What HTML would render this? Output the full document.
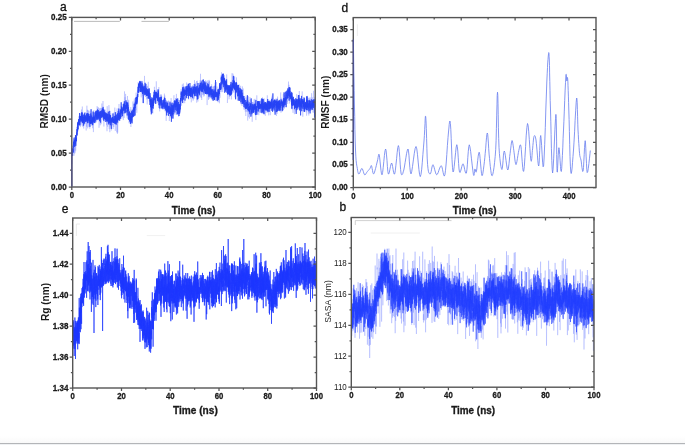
<!DOCTYPE html>
<html><head><meta charset="utf-8"><style>
html,body{margin:0;padding:0;background:#fff;}
body{width:685px;height:445px;overflow:hidden;position:relative;}
svg{position:absolute;left:0;top:0;filter:blur(0.4px);}
text{font-family:"Liberation Sans",sans-serif;}
.bar{position:absolute;left:0;top:442.6px;width:685px;height:1.4px;background:#b3b5b8;}
.bar2{position:absolute;left:0;top:444px;width:685px;height:1px;background:#eff1f3;}
.fade{position:absolute;left:0;top:436px;width:685px;height:6.6px;background:linear-gradient(#fff,#f9f9f9);}
</style></head><body>
<div class="fade"></div><div class="bar"></div><div class="bar2"></div>
<svg width="685" height="445" viewBox="0 0 685 445">
<path d="M74 21.4H119.8M141.5 21.4H168.8" stroke="#aaa" stroke-width="0.8"/>
<path d="M357.4 24.3V36" stroke="#e8e8e8" stroke-width="0.8"/>
<path d="M355.3 225V220.6H451.5" stroke="#c4c4c4" stroke-width="0.8" fill="none"/>
<path d="M370.7 233H419.8M146.8 235.6H165.2" stroke="#ececec" stroke-width="0.8" fill="none"/>
<path d="M76.4 236V224H80" stroke="#e4e4e4" stroke-width="0.8" fill="none"/>
<polyline points="72.1,164.1 72.3,154.9 72.4,146.4 72.6,147.8 72.8,150.2 73.0,144.5 73.1,144.8 73.3,148.7 73.5,147.5 73.7,150.6 73.8,139.3 74.0,155.8 74.2,151.2 74.4,149.6 74.5,141.2 74.7,153.6 74.9,141.3 75.1,152.6 75.2,147.2 75.4,135.8 75.6,137.8 75.7,150.7 75.9,145.5 76.1,139.3 76.3,140.7 76.4,138.8 76.6,131.9 76.8,133.4 77.0,129.1 77.1,130.6 77.3,133.4 77.5,123.9 77.7,132.0 77.8,126.4 78.0,129.6 78.2,129.2 78.3,129.9 78.5,126.4 78.7,125.9 78.9,121.1 79.0,126.1 79.2,116.5 79.4,119.1 79.6,124.4 79.7,119.0 79.9,121.7 80.1,113.5 80.3,127.1 80.4,115.9 80.6,121.7 80.8,119.7 81.0,124.5 81.1,117.6 81.3,114.5 81.5,109.5 81.6,117.7 81.8,112.4 82.0,121.0 82.2,125.8 82.3,106.5 82.5,112.2 82.7,121.7 82.9,126.9 83.0,121.2 83.2,121.3 83.4,122.2 83.6,122.9 83.7,128.5 83.9,122.6 84.1,112.9 84.2,116.6 84.4,120.5 84.6,114.2 84.8,117.6 84.9,116.4 85.1,115.8 85.3,123.7 85.5,116.2 85.6,112.4 85.8,114.3 86.0,118.8 86.2,130.5 86.3,120.4 86.5,126.7 86.7,120.5 86.9,105.7 87.0,119.3 87.2,112.8 87.4,109.7 87.5,112.0 87.7,128.4 87.9,110.1 88.1,117.1 88.2,126.9 88.4,124.3 88.6,110.7 88.8,119.1 88.9,116.7 89.1,118.3 89.3,124.5 89.5,116.6 89.6,119.3 89.8,128.7 90.0,110.8 90.1,119.5 90.3,123.7 90.5,114.4 90.7,117.6 90.8,113.3 91.0,120.9 91.2,116.7 91.4,124.0 91.5,125.5 91.7,120.7 91.9,118.9 92.1,123.1 92.2,123.1 92.4,115.5 92.6,128.2 92.8,121.7 92.9,124.3 93.1,112.3 93.3,124.4 93.4,132.1 93.6,122.3 93.8,110.2 94.0,118.8 94.1,118.1 94.3,120.4 94.5,118.0 94.7,121.4 94.8,116.3 95.0,119.8 95.2,113.7 95.4,117.0 95.5,121.1 95.7,112.1 95.9,118.7 96.1,111.2 96.2,113.8 96.4,114.3 96.6,122.3 96.7,111.0 96.9,120.8 97.1,106.1 97.3,113.9 97.4,118.7 97.6,118.3 97.8,109.3 98.0,107.3 98.1,119.3 98.3,107.5 98.5,117.6 98.7,112.3 98.8,115.2 99.0,127.8 99.2,124.0 99.3,121.0 99.5,108.4 99.7,119.1 99.9,117.9 100.0,116.6 100.2,125.3 100.4,107.9 100.6,118.1 100.7,116.7 100.9,111.1 101.1,124.2 101.3,108.0 101.4,115.4 101.6,116.0 101.8,103.5 102.0,107.0 102.1,109.8 102.3,118.7 102.5,119.5 102.6,116.9 102.8,114.2 103.0,101.0 103.2,114.3 103.3,110.7 103.5,119.8 103.7,121.0 103.9,126.5 104.0,119.3 104.2,121.0 104.4,110.8 104.6,117.3 104.7,109.2 104.9,121.5 105.1,109.8 105.2,115.9 105.4,113.4 105.6,114.8 105.8,120.4 105.9,113.8 106.1,117.8 106.3,111.7 106.5,125.2 106.6,115.1 106.8,124.5 107.0,131.2 107.2,106.2 107.3,113.2 107.5,118.1 107.7,126.8 107.9,116.9 108.0,122.1 108.2,114.3 108.4,121.3 108.5,112.0 108.7,123.6 108.9,105.1 109.1,108.1 109.2,129.1 109.4,120.5 109.6,114.6 109.8,132.2 109.9,125.4 110.1,126.2 110.3,118.9 110.5,125.4 110.6,124.7 110.8,113.4 111.0,126.2 111.1,122.1 111.3,130.5 111.5,129.6 111.7,117.8 111.8,117.9 112.0,122.3 112.2,125.2 112.4,119.1 112.5,120.7 112.7,125.3 112.9,123.8 113.1,129.0 113.2,124.0 113.4,117.7 113.6,112.8 113.8,127.0 113.9,120.0 114.1,119.4 114.3,119.8 114.4,112.1 114.6,119.7 114.8,107.6 115.0,119.0 115.1,116.1 115.3,130.9 115.5,123.1 115.7,119.2 115.8,121.1 116.0,123.8 116.2,115.5 116.4,118.5 116.5,116.8 116.7,132.4 116.9,119.8 117.1,108.4 117.2,124.1 117.4,133.9 117.6,113.4 117.7,132.6 117.9,118.6 118.1,123.2 118.3,114.9 118.4,116.4 118.6,110.0 118.8,111.1 119.0,104.0 119.1,121.1 119.3,109.1 119.5,117.0 119.7,117.0 119.8,112.4 120.0,115.6 120.2,114.0 120.3,112.4 120.5,115.3 120.7,114.6 120.9,108.8 121.0,105.8 121.2,106.2 121.4,110.8 121.6,117.8 121.7,118.8 121.9,113.3 122.1,117.4 122.3,111.6 122.4,116.1 122.6,109.9 122.8,111.7 123.0,108.6 123.1,109.6 123.3,120.1 123.5,101.3 123.6,108.1 123.8,104.8 124.0,112.7 124.2,117.9 124.3,104.8 124.5,91.4 124.7,110.3 124.9,109.6 125.0,97.2 125.2,105.4 125.4,105.6 125.6,93.9 125.7,110.3 125.9,109.6 126.1,108.7 126.2,100.9 126.4,103.4 126.6,104.4 126.8,111.8 126.9,103.6 127.1,117.7 127.3,111.1 127.5,96.0 127.6,119.1 127.8,111.2 128.0,107.4 128.2,112.5 128.3,101.7 128.5,114.0 128.7,99.8 128.9,108.3 129.0,123.2 129.2,122.1 129.4,113.6 129.5,109.4 129.7,120.0 129.9,115.8 130.1,117.9 130.2,122.3 130.4,113.4 130.6,124.0 130.8,107.0 130.9,127.0 131.1,109.5 131.3,115.3 131.5,114.3 131.6,121.9 131.8,121.0 132.0,118.8 132.1,120.3 132.3,119.1 132.5,116.2 132.7,104.6 132.8,101.9 133.0,101.4 133.2,113.6 133.4,112.3 133.5,112.1 133.7,113.7 133.9,110.1 134.1,104.3 134.2,100.6 134.4,98.5 134.6,116.4 134.8,114.1 134.9,100.4 135.1,105.5 135.3,108.4 135.4,115.1 135.6,101.4 135.8,105.3 136.0,110.2 136.1,92.7 136.3,97.9 136.5,101.6 136.7,97.2 136.8,112.8 137.0,104.6 137.2,99.2 137.4,90.7 137.5,100.6 137.7,98.5 137.9,90.1 138.0,89.7 138.2,82.0 138.4,88.2 138.6,92.2 138.7,92.4 138.9,88.9 139.1,90.8 139.3,82.4 139.4,82.5 139.6,92.3 139.8,87.8 140.0,80.6 140.1,87.8 140.3,89.3 140.5,89.2 140.7,87.1 140.8,84.0 141.0,89.6 141.2,97.4 141.3,88.4 141.5,84.0 141.7,90.2 141.9,80.8 142.0,90.0 142.2,87.8 142.4,95.6 142.6,91.2 142.7,96.4 142.9,103.0 143.1,88.4 143.3,84.1 143.4,91.8 143.6,88.8 143.8,90.3 144.0,86.3 144.1,93.1 144.3,90.4 144.5,75.9 144.6,87.1 144.8,90.2 145.0,95.1 145.2,86.3 145.3,84.9 145.5,96.8 145.7,87.0 145.9,91.6 146.0,94.8 146.2,96.7 146.4,92.2 146.6,86.6 146.7,99.3 146.9,90.4 147.1,90.4 147.2,104.4 147.4,96.7 147.6,85.9 147.8,88.9 147.9,90.6 148.1,88.7 148.3,81.8 148.5,98.3 148.6,97.1 148.8,94.3 149.0,92.1 149.2,96.5 149.3,101.4 149.5,92.2 149.7,97.2 149.9,96.3 150.0,104.5 150.2,102.4 150.4,93.0 150.5,98.0 150.7,111.9 150.9,98.4 151.1,106.2 151.2,101.5 151.4,113.0 151.6,105.1 151.8,103.1 151.9,99.0 152.1,103.8 152.3,110.2 152.5,108.8 152.6,97.8 152.8,113.4 153.0,102.7 153.1,97.7 153.3,103.4 153.5,99.1 153.7,98.3 153.8,96.1 154.0,98.5 154.2,95.0 154.4,86.8 154.5,99.7 154.7,93.0 154.9,101.7 155.1,98.2 155.2,98.5 155.4,96.6 155.6,103.8 155.8,94.4 155.9,90.6 156.1,98.2 156.3,81.3 156.4,93.5 156.6,96.5 156.8,92.4 157.0,103.4 157.1,100.3 157.3,97.3 157.5,94.8 157.7,102.5 157.8,93.3 158.0,94.3 158.2,100.5 158.4,100.2 158.5,107.9 158.7,95.3 158.9,87.0 159.0,102.0 159.2,106.0 159.4,99.2 159.6,109.6 159.7,111.4 159.9,97.9 160.1,99.2 160.3,94.8 160.4,105.0 160.6,105.9 160.8,104.8 161.0,94.1 161.1,97.3 161.3,94.8 161.5,95.3 161.7,97.4 161.8,96.6 162.0,104.5 162.2,107.7 162.3,108.9 162.5,105.1 162.7,101.0 162.9,105.0 163.0,108.9 163.2,102.9 163.4,105.3 163.6,103.2 163.7,101.5 163.9,105.1 164.1,97.4 164.3,109.4 164.4,93.6 164.6,105.0 164.8,95.5 165.0,111.2 165.1,108.9 165.3,99.9 165.5,102.3 165.6,99.6 165.8,106.6 166.0,109.0 166.2,120.9 166.3,100.1 166.5,114.8 166.7,105.1 166.9,110.5 167.0,113.1 167.2,110.4 167.4,109.3 167.6,105.2 167.7,107.4 167.9,109.3 168.1,115.2 168.2,100.9 168.4,105.7 168.6,100.6 168.8,102.3 168.9,102.9 169.1,114.2 169.3,121.0 169.5,117.1 169.6,102.9 169.8,109.3 170.0,102.8 170.2,111.3 170.3,117.4 170.5,114.1 170.7,114.8 170.9,109.8 171.0,98.3 171.2,98.1 171.4,109.9 171.5,114.0 171.7,117.4 171.9,108.9 172.1,110.7 172.2,111.4 172.4,116.0 172.6,109.2 172.8,103.3 172.9,116.0 173.1,113.2 173.3,111.7 173.5,101.2 173.6,107.7 173.8,96.5 174.0,95.2 174.1,105.6 174.3,104.7 174.5,110.2 174.7,114.2 174.8,105.3 175.0,114.8 175.2,101.8 175.4,109.4 175.5,98.0 175.7,106.2 175.9,103.3 176.1,103.7 176.2,108.1 176.4,93.9 176.6,105.9 176.8,101.5 176.9,107.8 177.1,109.6 177.3,105.1 177.4,104.9 177.6,99.6 177.8,109.0 178.0,103.3 178.1,109.9 178.3,99.9 178.5,116.4 178.7,103.9 178.8,116.3 179.0,108.1 179.2,113.4 179.4,109.6 179.5,113.7 179.7,108.4 179.9,113.8 180.0,109.1 180.2,107.3 180.4,110.7 180.6,96.0 180.7,105.3 180.9,98.1 181.1,88.9 181.3,99.5 181.4,96.0 181.6,105.8 181.8,93.8 182.0,96.9 182.1,96.7 182.3,84.4 182.5,98.8 182.7,89.7 182.8,102.7 183.0,103.3 183.2,93.0 183.3,83.4 183.5,93.5 183.7,93.8 183.9,96.1 184.0,90.4 184.2,86.5 184.4,91.9 184.6,87.9 184.7,103.2 184.9,88.4 185.1,89.1 185.3,92.6 185.4,86.1 185.6,90.3 185.8,90.8 186.0,87.5 186.1,88.0 186.3,96.9 186.5,92.8 186.6,82.5 186.8,88.5 187.0,94.6 187.2,86.8 187.3,91.4 187.5,89.7 187.7,93.0 187.9,88.5 188.0,89.1 188.2,84.4 188.4,91.7 188.6,84.3 188.7,99.6 188.9,90.9 189.1,90.0 189.2,95.9 189.4,90.4 189.6,90.8 189.8,89.9 189.9,86.5 190.1,86.4 190.3,87.8 190.5,98.5 190.6,87.8 190.8,88.8 191.0,88.8 191.2,94.9 191.3,102.3 191.5,86.0 191.7,94.1 191.9,92.1 192.0,90.6 192.2,95.2 192.4,85.4 192.5,96.8 192.7,92.9 192.9,85.8 193.1,100.7 193.2,97.3 193.4,99.3 193.6,84.1 193.8,90.5 193.9,88.5 194.1,93.9 194.3,98.6 194.5,80.2 194.6,90.9 194.8,90.4 195.0,95.7 195.1,89.7 195.3,82.7 195.5,89.4 195.7,85.2 195.8,86.6 196.0,91.1 196.2,87.1 196.4,91.5 196.5,81.0 196.7,102.7 196.9,97.9 197.1,95.5 197.2,85.6 197.4,80.7 197.6,86.0 197.8,88.8 197.9,101.6 198.1,96.6 198.3,88.7 198.4,98.7 198.6,98.5 198.8,91.2 199.0,97.6 199.1,92.4 199.3,86.9 199.5,84.5 199.7,89.4 199.8,95.8 200.0,82.2 200.2,80.1 200.4,92.2 200.5,73.8 200.7,97.1 200.9,84.0 201.0,90.3 201.2,98.0 201.4,80.1 201.6,81.9 201.7,100.0 201.9,85.7 202.1,86.5 202.3,89.1 202.4,94.0 202.6,94.8 202.8,87.1 203.0,84.6 203.1,86.1 203.3,88.3 203.5,94.7 203.7,87.7 203.8,96.6 204.0,81.4 204.2,89.2 204.3,95.6 204.5,93.4 204.7,88.4 204.9,82.2 205.0,83.1 205.2,86.5 205.4,88.6 205.6,86.3 205.7,80.2 205.9,84.5 206.1,92.6 206.3,94.3 206.4,82.2 206.6,88.5 206.8,81.3 207.0,87.6 207.1,105.1 207.3,91.1 207.5,88.5 207.6,86.6 207.8,83.0 208.0,80.2 208.2,90.1 208.3,89.5 208.5,100.0 208.7,81.8 208.9,93.8 209.0,98.9 209.2,79.9 209.4,94.1 209.6,81.1 209.7,92.6 209.9,98.1 210.1,90.1 210.2,92.3 210.4,86.9 210.6,92.3 210.8,98.2 210.9,91.3 211.1,92.3 211.3,95.6 211.5,97.8 211.6,84.3 211.8,93.4 212.0,89.9 212.2,97.0 212.3,99.1 212.5,94.7 212.7,100.3 212.9,86.5 213.0,90.1 213.2,86.8 213.4,92.6 213.5,92.7 213.7,91.0 213.9,86.0 214.1,92.9 214.2,91.5 214.4,98.1 214.6,93.4 214.8,100.6 214.9,94.7 215.1,82.7 215.3,91.6 215.5,84.5 215.6,98.4 215.8,100.9 216.0,93.3 216.1,96.2 216.3,85.9 216.5,82.1 216.7,91.8 216.8,93.8 217.0,86.5 217.2,94.7 217.4,96.0 217.5,97.5 217.7,102.2 217.9,97.0 218.1,90.1 218.2,92.8 218.4,96.5 218.6,88.8 218.8,102.2 218.9,100.3 219.1,91.7 219.3,87.3 219.4,103.3 219.6,93.0 219.8,93.3 220.0,97.8 220.1,93.6 220.3,89.1 220.5,91.9 220.7,82.3 220.8,90.0 221.0,75.5 221.2,84.3 221.4,84.4 221.5,72.3 221.7,92.2 221.9,75.4 222.0,86.0 222.2,74.8 222.4,78.9 222.6,73.9 222.7,92.1 222.9,85.4 223.1,89.5 223.3,82.9 223.4,83.4 223.6,81.0 223.8,79.7 224.0,85.3 224.1,83.6 224.3,81.6 224.5,75.2 224.7,82.0 224.8,86.7 225.0,81.4 225.2,86.7 225.3,85.2 225.5,80.8 225.7,81.5 225.9,82.1 226.0,84.4 226.2,83.9 226.4,91.9 226.6,79.9 226.7,74.4 226.9,90.6 227.1,85.1 227.3,87.5 227.4,103.0 227.6,97.6 227.8,92.8 228.0,95.0 228.1,89.5 228.3,94.7 228.5,86.0 228.6,85.9 228.8,88.1 229.0,99.3 229.2,99.0 229.3,86.5 229.5,96.6 229.7,89.8 229.9,96.5 230.0,88.5 230.2,95.5 230.4,89.0 230.6,87.7 230.7,88.3 230.9,89.6 231.1,85.7 231.2,81.4 231.4,99.4 231.6,86.4 231.8,77.5 231.9,74.5 232.1,73.1 232.3,83.1 232.5,93.5 232.6,76.3 232.8,82.5 233.0,73.7 233.2,91.9 233.3,86.8 233.5,86.5 233.7,92.7 233.9,91.8 234.0,89.0 234.2,80.1 234.4,76.3 234.5,80.0 234.7,76.6 234.9,97.4 235.1,85.9 235.2,87.7 235.4,88.5 235.6,98.9 235.8,84.2 235.9,94.7 236.1,88.9 236.3,86.8 236.5,77.4 236.6,92.8 236.8,84.5 237.0,86.8 237.1,90.7 237.3,90.8 237.5,96.9 237.7,87.0 237.8,91.8 238.0,91.9 238.2,91.1 238.4,94.5 238.5,90.5 238.7,99.6 238.9,87.8 239.1,84.3 239.2,92.5 239.4,100.6 239.6,91.3 239.8,90.5 239.9,92.0 240.1,94.9 240.3,93.3 240.4,97.0 240.6,85.8 240.8,104.2 241.0,99.6 241.1,91.1 241.3,103.8 241.5,97.9 241.7,104.2 241.8,90.0 242.0,106.0 242.2,98.0 242.4,86.4 242.5,102.4 242.7,96.9 242.9,92.5 243.0,97.8 243.2,88.5 243.4,103.7 243.6,100.2 243.7,99.8 243.9,109.6 244.1,101.9 244.3,97.7 244.4,96.2 244.6,101.9 244.8,109.6 245.0,101.3 245.1,100.1 245.3,111.7 245.5,106.7 245.7,105.0 245.8,116.0 246.0,97.2 246.2,105.4 246.3,95.4 246.5,103.6 246.7,109.8 246.9,111.9 247.0,98.4 247.2,111.7 247.4,110.2 247.6,105.8 247.7,120.6 247.9,105.7 248.1,101.1 248.3,109.4 248.4,96.3 248.6,117.2 248.8,114.1 249.0,105.5 249.1,111.5 249.3,110.3 249.5,118.6 249.6,104.7 249.8,100.3 250.0,97.1 250.2,106.3 250.3,99.3 250.5,107.7 250.7,110.1 250.9,105.6 251.0,103.0 251.2,115.7 251.4,108.7 251.6,111.4 251.7,115.2 251.9,101.9 252.1,103.4 252.2,121.8 252.4,107.5 252.6,102.0 252.8,106.9 252.9,106.3 253.1,102.3 253.3,108.1 253.5,109.7 253.6,110.0 253.8,113.1 254.0,99.3 254.2,100.3 254.3,112.4 254.5,105.2 254.7,114.3 254.9,108.7 255.0,98.8 255.2,110.2 255.4,101.5 255.5,109.3 255.7,114.8 255.9,120.1 256.1,108.8 256.2,113.7 256.4,111.8 256.6,114.6 256.8,95.3 256.9,106.6 257.1,109.3 257.3,108.9 257.5,101.9 257.6,111.8 257.8,113.7 258.0,108.0 258.1,105.4 258.3,103.8 258.5,106.8 258.7,112.3 258.8,115.2 259.0,103.7 259.2,101.5 259.4,103.1 259.5,112.7 259.7,108.6 259.9,108.7 260.1,109.5 260.2,108.2 260.4,104.5 260.6,99.6 260.8,101.2 260.9,105.1 261.1,105.7 261.3,101.2 261.4,101.9 261.6,112.5 261.8,104.2 262.0,108.3 262.1,105.2 262.3,102.2 262.5,97.4 262.7,102.6 262.8,100.9 263.0,109.8 263.2,99.6 263.4,104.3 263.5,110.9 263.7,107.6 263.9,111.4 264.0,112.7 264.2,98.4 264.4,105.0 264.6,101.1 264.7,114.3 264.9,105.2 265.1,108.1 265.3,115.8 265.4,104.8 265.6,108.2 265.8,110.6 266.0,105.5 266.1,112.9 266.3,109.8 266.5,110.7 266.7,105.7 266.8,103.0 267.0,102.4 267.2,101.9 267.3,95.3 267.5,108.8 267.7,112.8 267.9,108.4 268.0,104.4 268.2,106.7 268.4,106.6 268.6,107.2 268.7,115.4 268.9,99.9 269.1,108.2 269.3,110.7 269.4,107.7 269.6,105.4 269.8,100.5 269.9,102.2 270.1,109.6 270.3,115.2 270.5,102.4 270.6,108.5 270.8,109.1 271.0,110.6 271.2,106.2 271.3,107.4 271.5,109.2 271.7,97.5 271.9,104.9 272.0,95.9 272.2,95.5 272.4,102.7 272.6,98.3 272.7,108.6 272.9,110.7 273.1,102.5 273.2,102.9 273.4,101.9 273.6,101.0 273.8,103.4 273.9,105.2 274.1,101.7 274.3,100.3 274.5,101.5 274.6,108.8 274.8,101.5 275.0,112.8 275.2,103.8 275.3,112.0 275.5,98.7 275.7,100.7 275.9,106.4 276.0,107.2 276.2,103.0 276.4,116.0 276.5,105.8 276.7,107.0 276.9,102.2 277.1,114.0 277.2,110.1 277.4,107.3 277.6,96.6 277.8,107.6 277.9,102.4 278.1,107.0 278.3,109.8 278.5,101.5 278.6,107.3 278.8,110.7 279.0,106.4 279.1,103.9 279.3,99.9 279.5,102.5 279.7,99.7 279.8,111.5 280.0,106.7 280.2,99.8 280.4,106.3 280.5,99.7 280.7,92.4 280.9,112.6 281.1,112.6 281.2,97.7 281.4,100.8 281.6,105.8 281.8,101.9 281.9,99.7 282.1,102.4 282.3,104.7 282.4,101.9 282.6,105.6 282.8,102.8 283.0,98.8 283.1,103.6 283.3,94.1 283.5,110.2 283.7,92.2 283.8,101.5 284.0,103.8 284.2,104.9 284.4,103.5 284.5,108.6 284.7,95.1 284.9,100.0 285.0,101.6 285.2,97.7 285.4,96.4 285.6,107.0 285.7,95.5 285.9,96.7 286.1,98.1 286.3,97.9 286.4,99.2 286.6,95.2 286.8,97.3 287.0,95.4 287.1,97.1 287.3,102.2 287.5,90.2 287.7,104.0 287.8,91.3 288.0,97.6 288.2,94.3 288.3,91.2 288.5,81.6 288.7,100.4 288.9,85.9 289.0,84.8 289.2,96.7 289.4,92.2 289.6,103.5 289.7,102.8 289.9,97.9 290.1,95.6 290.3,98.8 290.4,87.7 290.6,95.9 290.8,97.2 290.9,94.0 291.1,99.7 291.3,91.5 291.5,104.5 291.6,108.2 291.8,94.2 292.0,101.7 292.2,109.4 292.3,103.4 292.5,95.7 292.7,97.1 292.9,107.3 293.0,112.8 293.2,96.3 293.4,101.8 293.6,97.4 293.7,100.5 293.9,104.1 294.1,102.2 294.2,99.2 294.4,114.2 294.6,102.6 294.8,103.6 294.9,109.8 295.1,103.3 295.3,101.6 295.5,107.0 295.6,98.1 295.8,109.0 296.0,111.5 296.2,109.8 296.3,103.8 296.5,104.0 296.7,94.2 296.9,103.5 297.0,106.4 297.2,109.6 297.4,105.3 297.5,102.0 297.7,98.9 297.9,102.8 298.1,104.1 298.2,109.6 298.4,102.4 298.6,99.1 298.8,100.9 298.9,99.0 299.1,100.5 299.3,91.0 299.5,95.5 299.6,98.0 299.8,107.9 300.0,104.7 300.1,104.9 300.3,110.1 300.5,98.0 300.7,109.4 300.8,105.3 301.0,99.3 301.2,111.7 301.4,96.0 301.5,97.1 301.7,102.7 301.9,106.2 302.1,102.0 302.2,91.4 302.4,100.0 302.6,100.5 302.8,116.7 302.9,111.1 303.1,105.3 303.3,98.6 303.4,105.9 303.6,97.0 303.8,104.9 304.0,107.3 304.1,103.1 304.3,107.4 304.5,103.4 304.7,100.5 304.8,111.4 305.0,107.0 305.2,103.1 305.4,101.5 305.5,107.3 305.7,108.6 305.9,109.2 306.0,112.2 306.2,106.6 306.4,98.5 306.6,115.7 306.7,110.4 306.9,108.5 307.1,110.8 307.3,95.8 307.4,102.7 307.6,101.7 307.8,111.1 308.0,98.2 308.1,102.7 308.3,113.7 308.5,108.5 308.7,103.5 308.8,115.5 309.0,97.7 309.2,107.2 309.3,103.1 309.5,107.0 309.7,102.2 309.9,98.8 310.0,104.8 310.2,97.4 310.4,108.4 310.6,104.5 310.7,110.7 310.9,102.3 311.1,101.0 311.3,106.2 311.4,110.3 311.6,93.2 311.8,104.8 311.9,107.4 312.1,97.3 312.3,98.7 312.5,107.0 312.6,99.4 312.8,99.3 313.0,112.5 313.2,97.5 313.3,97.9 313.5,90.8 313.7,97.0 313.9,96.8 314.0,112.9 314.2,110.1 314.4,97.3 314.6,114.0 314.7,107.8 314.9,102.5" fill="none" stroke="#6a7cff" stroke-opacity="0.5" stroke-width="0.5"/>
<polyline points="72.1,152.1 72.2,153.2 72.3,151.5 72.3,149.6 72.4,151.0 72.5,149.2 72.6,152.6 72.6,155.9 72.7,149.5 72.8,149.7 72.9,152.8 72.9,152.2 73.0,151.3 73.1,148.4 73.2,151.0 73.2,152.4 73.3,145.6 73.4,147.8 73.5,142.4 73.5,143.8 73.6,141.8 73.7,145.6 73.8,141.7 73.8,146.2 73.9,145.7 74.0,144.4 74.1,137.7 74.1,143.5 74.2,144.3 74.3,144.1 74.4,139.7 74.5,142.9 74.5,141.4 74.6,141.7 74.7,147.0 74.8,140.5 74.8,146.0 74.9,145.4 75.0,140.5 75.1,141.7 75.1,141.9 75.2,141.1 75.3,137.0 75.4,140.7 75.4,143.9 75.5,135.0 75.6,142.4 75.7,140.8 75.7,138.0 75.8,145.8 75.9,141.7 76.0,135.9 76.0,139.9 76.1,141.4 76.2,139.3 76.3,141.0 76.4,137.8 76.4,139.3 76.5,141.0 76.6,134.1 76.7,135.5 76.7,132.6 76.8,134.3 76.9,129.3 77.0,130.5 77.0,131.7 77.1,135.3 77.2,135.4 77.3,126.8 77.3,127.5 77.4,131.6 77.5,122.5 77.6,127.1 77.6,127.3 77.7,130.5 77.8,127.5 77.9,124.1 77.9,123.9 78.0,124.3 78.1,129.0 78.2,122.5 78.2,121.8 78.3,123.8 78.4,121.7 78.5,121.9 78.6,119.0 78.6,122.2 78.7,120.1 78.8,124.9 78.9,123.4 78.9,122.1 79.0,124.3 79.1,121.6 79.2,125.1 79.2,120.6 79.3,121.9 79.4,116.1 79.5,121.0 79.5,115.0 79.6,113.0 79.7,117.8 79.8,116.2 79.8,119.0 79.9,125.4 80.0,116.2 80.1,117.0 80.1,119.2 80.2,120.1 80.3,119.0 80.4,118.4 80.4,120.6 80.5,120.3 80.6,115.9 80.7,118.8 80.8,119.2 80.8,116.4 80.9,120.0 81.0,116.0 81.1,122.1 81.1,119.8 81.2,119.4 81.3,116.6 81.4,119.1 81.4,113.7 81.5,115.9 81.6,120.2 81.7,112.4 81.7,121.0 81.8,113.2 81.9,120.5 82.0,115.0 82.0,120.0 82.1,118.1 82.2,112.5 82.3,121.7 82.3,122.6 82.4,118.3 82.5,118.0 82.6,118.5 82.6,116.2 82.7,123.1 82.8,117.6 82.9,119.6 83.0,117.0 83.0,117.1 83.1,115.2 83.2,122.5 83.3,119.0 83.3,122.3 83.4,118.6 83.5,117.1 83.6,118.2 83.6,125.7 83.7,118.9 83.8,117.8 83.9,118.1 83.9,114.4 84.0,116.7 84.1,124.2 84.2,117.1 84.2,115.5 84.3,120.0 84.4,123.1 84.5,114.3 84.5,117.9 84.6,116.0 84.7,112.7 84.8,120.8 84.9,118.2 84.9,119.0 85.0,116.5 85.1,120.4 85.2,117.7 85.2,118.8 85.3,116.1 85.4,115.3 85.5,121.9 85.5,116.7 85.6,118.7 85.7,117.9 85.8,116.3 85.8,116.3 85.9,119.6 86.0,117.2 86.1,117.4 86.1,118.5 86.2,121.7 86.3,120.6 86.4,119.6 86.4,117.1 86.5,113.6 86.6,120.8 86.7,120.1 86.7,117.5 86.8,118.8 86.9,119.3 87.0,118.9 87.1,119.7 87.1,114.9 87.2,121.6 87.3,113.1 87.4,119.3 87.4,117.8 87.5,121.4 87.6,123.2 87.7,122.9 87.7,114.4 87.8,113.3 87.9,120.7 88.0,115.6 88.0,119.9 88.1,122.7 88.2,115.2 88.3,113.7 88.3,120.3 88.4,120.3 88.5,119.1 88.6,119.8 88.6,117.0 88.7,114.4 88.8,119.0 88.9,115.8 88.9,114.2 89.0,121.1 89.1,118.6 89.2,120.3 89.3,116.6 89.3,118.2 89.4,117.1 89.5,116.3 89.6,120.7 89.6,118.2 89.7,121.3 89.8,121.0 89.9,126.8 89.9,116.4 90.0,123.1 90.1,120.4 90.2,121.1 90.2,116.3 90.3,119.2 90.4,123.4 90.5,120.9 90.5,120.6 90.6,120.1 90.7,123.9 90.8,119.9 90.8,113.5 90.9,118.1 91.0,113.7 91.1,109.2 91.2,118.0 91.2,123.7 91.3,119.4 91.4,115.5 91.5,116.6 91.5,122.7 91.6,120.3 91.7,120.1 91.8,119.9 91.8,120.4 91.9,123.0 92.0,122.4 92.1,121.9 92.1,118.8 92.2,123.9 92.3,119.8 92.4,124.9 92.4,118.1 92.5,121.5 92.6,121.7 92.7,116.9 92.7,125.2 92.8,123.9 92.9,117.9 93.0,121.9 93.0,120.4 93.1,111.5 93.2,119.7 93.3,118.9 93.4,119.9 93.4,116.8 93.5,118.9 93.6,118.2 93.7,121.7 93.7,118.9 93.8,117.7 93.9,122.5 94.0,116.4 94.0,118.2 94.1,112.4 94.2,122.8 94.3,121.4 94.3,121.6 94.4,121.4 94.5,119.1 94.6,119.3 94.6,117.5 94.7,117.2 94.8,118.4 94.9,123.1 94.9,120.1 95.0,117.8 95.1,115.2 95.2,115.2 95.2,121.6 95.3,120.1 95.4,116.2 95.5,114.7 95.6,111.5 95.6,114.5 95.7,116.9 95.8,114.0 95.9,113.9 95.9,113.8 96.0,116.0 96.1,110.7 96.2,114.6 96.2,112.8 96.3,117.6 96.4,112.8 96.5,116.6 96.5,119.5 96.6,114.0 96.7,112.8 96.8,115.4 96.8,114.0 96.9,110.6 97.0,114.7 97.1,119.8 97.1,113.1 97.2,113.9 97.3,111.0 97.4,114.3 97.5,109.4 97.5,110.4 97.6,117.7 97.7,111.8 97.8,117.7 97.8,118.9 97.9,114.6 98.0,115.2 98.1,119.7 98.1,113.4 98.2,112.1 98.3,110.0 98.4,114.0 98.4,118.4 98.5,116.8 98.6,111.6 98.7,112.3 98.7,113.3 98.8,115.7 98.9,113.1 99.0,115.1 99.0,115.5 99.1,114.0 99.2,114.9 99.3,116.1 99.3,115.6 99.4,117.5 99.5,121.2 99.6,117.5 99.7,116.9 99.7,111.9 99.8,118.1 99.9,111.3 100.0,112.5 100.0,119.3 100.1,118.8 100.2,116.8 100.3,112.4 100.3,116.0 100.4,114.9 100.5,118.2 100.6,122.6 100.6,116.1 100.7,113.4 100.8,111.4 100.9,114.3 100.9,114.5 101.0,111.2 101.1,114.4 101.2,110.8 101.2,117.9 101.3,117.9 101.4,117.8 101.5,113.7 101.5,116.5 101.6,114.7 101.7,114.0 101.8,115.2 101.9,111.0 101.9,110.2 102.0,117.0 102.1,114.2 102.2,115.5 102.2,117.5 102.3,108.5 102.4,111.3 102.5,114.3 102.5,114.7 102.6,112.2 102.7,116.1 102.8,113.4 102.8,108.7 102.9,110.1 103.0,115.2 103.1,114.0 103.1,106.9 103.2,116.9 103.3,115.2 103.4,116.9 103.4,111.7 103.5,111.9 103.6,109.3 103.7,120.6 103.7,112.7 103.8,118.3 103.9,111.7 104.0,114.6 104.1,110.3 104.1,114.7 104.2,119.0 104.3,112.1 104.4,119.2 104.4,117.2 104.5,113.0 104.6,115.1 104.7,114.2 104.7,115.5 104.8,113.7 104.9,113.5 105.0,115.3 105.0,113.0 105.1,112.1 105.2,116.3 105.3,119.4 105.3,113.0 105.4,117.6 105.5,115.9 105.6,113.9 105.6,119.9 105.7,115.6 105.8,122.0 105.9,114.8 106.0,117.6 106.0,115.3 106.1,113.8 106.2,118.1 106.3,116.7 106.3,118.4 106.4,117.1 106.5,113.7 106.6,117.5 106.6,115.5 106.7,121.1 106.8,115.7 106.9,118.4 106.9,113.1 107.0,121.1 107.1,115.4 107.2,114.1 107.2,118.5 107.3,121.5 107.4,114.1 107.5,115.5 107.5,116.7 107.6,116.6 107.7,120.9 107.8,117.4 107.8,117.1 107.9,121.1 108.0,117.3 108.1,120.7 108.2,115.4 108.2,114.1 108.3,111.6 108.4,123.4 108.5,117.2 108.5,119.0 108.6,118.5 108.7,119.0 108.8,118.6 108.8,124.5 108.9,116.1 109.0,114.8 109.1,115.4 109.1,114.0 109.2,120.8 109.3,121.0 109.4,116.3 109.4,114.9 109.5,118.5 109.6,123.3 109.7,110.9 109.7,121.1 109.8,116.0 109.9,122.4 110.0,115.6 110.0,118.3 110.1,115.1 110.2,117.3 110.3,125.0 110.4,123.3 110.4,120.2 110.5,119.0 110.6,115.4 110.7,120.5 110.7,121.8 110.8,122.1 110.9,122.6 111.0,119.1 111.0,122.2 111.1,122.5 111.2,126.8 111.3,128.9 111.3,122.4 111.4,120.4 111.5,121.7 111.6,119.6 111.6,118.7 111.7,121.1 111.8,117.5 111.9,122.8 111.9,120.3 112.0,121.6 112.1,118.5 112.2,119.0 112.3,118.3 112.3,120.8 112.4,118.8 112.5,121.7 112.6,120.9 112.6,117.1 112.7,121.8 112.8,117.0 112.9,120.8 112.9,113.5 113.0,114.8 113.1,123.0 113.2,122.6 113.2,121.8 113.3,121.8 113.4,121.2 113.5,119.0 113.5,121.6 113.6,120.5 113.7,122.7 113.8,118.3 113.8,123.0 113.9,122.0 114.0,119.8 114.1,119.6 114.1,122.7 114.2,115.9 114.3,122.5 114.4,121.1 114.5,121.4 114.5,122.1 114.6,119.5 114.7,121.1 114.8,123.5 114.8,122.9 114.9,121.9 115.0,116.3 115.1,122.9 115.1,124.2 115.2,123.4 115.3,120.6 115.4,115.9 115.4,123.6 115.5,119.5 115.6,112.2 115.7,121.2 115.7,115.7 115.8,116.0 115.9,117.7 116.0,123.3 116.0,118.0 116.1,119.7 116.2,124.7 116.3,124.2 116.3,119.2 116.4,118.2 116.5,114.6 116.6,116.5 116.7,119.8 116.7,119.5 116.8,118.8 116.9,122.0 117.0,117.2 117.0,118.9 117.1,121.3 117.2,120.9 117.3,122.6 117.3,120.9 117.4,119.0 117.5,120.7 117.6,115.4 117.6,113.6 117.7,120.3 117.8,118.4 117.9,119.8 117.9,113.3 118.0,117.2 118.1,115.4 118.2,114.9 118.2,111.1 118.3,116.1 118.4,120.2 118.5,118.8 118.6,115.6 118.6,116.4 118.7,118.4 118.8,108.5 118.9,115.9 118.9,117.5 119.0,117.7 119.1,119.6 119.2,117.5 119.2,115.3 119.3,116.1 119.4,117.2 119.5,112.9 119.5,114.5 119.6,117.5 119.7,120.7 119.8,115.4 119.8,115.6 119.9,116.2 120.0,119.0 120.1,115.0 120.1,118.7 120.2,111.1 120.3,113.9 120.4,114.5 120.4,117.0 120.5,117.8 120.6,109.7 120.7,111.3 120.8,114.8 120.8,112.5 120.9,109.5 121.0,116.9 121.1,114.1 121.1,112.9 121.2,102.3 121.3,113.1 121.4,108.9 121.4,113.2 121.5,106.7 121.6,107.1 121.7,110.2 121.7,108.1 121.8,112.5 121.9,111.9 122.0,108.8 122.0,112.1 122.1,110.5 122.2,113.7 122.3,108.6 122.3,108.6 122.4,113.2 122.5,116.1 122.6,114.8 122.6,109.0 122.7,109.8 122.8,113.7 122.9,109.5 123.0,106.9 123.0,110.0 123.1,110.7 123.2,106.8 123.3,104.0 123.3,104.7 123.4,110.3 123.5,105.3 123.6,106.8 123.6,108.4 123.7,109.6 123.8,106.9 123.9,109.2 123.9,104.9 124.0,105.6 124.1,103.4 124.2,110.7 124.2,106.5 124.3,104.2 124.4,104.8 124.5,104.6 124.5,107.8 124.6,101.3 124.7,103.4 124.8,105.0 124.8,113.3 124.9,108.8 125.0,106.0 125.1,108.8 125.2,113.1 125.2,105.6 125.3,105.0 125.4,109.3 125.5,108.1 125.5,108.5 125.6,105.6 125.7,111.9 125.8,111.3 125.8,108.3 125.9,108.8 126.0,100.3 126.1,109.0 126.1,105.9 126.2,107.8 126.3,108.8 126.4,105.8 126.4,102.3 126.5,107.9 126.6,105.5 126.7,107.9 126.7,106.8 126.8,108.0 126.9,102.1 127.0,112.5 127.1,110.4 127.1,112.3 127.2,115.5 127.3,108.8 127.4,102.7 127.4,105.1 127.5,105.0 127.6,107.5 127.7,109.5 127.7,102.9 127.8,111.0 127.9,104.7 128.0,110.8 128.0,110.9 128.1,111.0 128.2,111.2 128.3,110.3 128.3,109.9 128.4,107.2 128.5,112.4 128.6,119.0 128.6,119.8 128.7,117.2 128.8,115.8 128.9,111.9 128.9,118.8 129.0,115.0 129.1,115.2 129.2,113.6 129.3,115.2 129.3,114.0 129.4,115.1 129.5,111.5 129.6,113.5 129.6,121.5 129.7,114.1 129.8,113.8 129.9,117.2 129.9,118.2 130.0,112.7 130.1,115.9 130.2,120.0 130.2,119.3 130.3,119.1 130.4,124.0 130.5,117.2 130.5,119.4 130.6,117.5 130.7,123.2 130.8,113.0 130.8,117.0 130.9,116.9 131.0,120.2 131.1,120.1 131.1,122.5 131.2,116.3 131.3,121.0 131.4,117.6 131.5,115.8 131.5,119.5 131.6,114.9 131.7,110.8 131.8,115.1 131.8,112.1 131.9,114.9 132.0,117.5 132.1,117.6 132.1,123.4 132.2,115.6 132.3,111.6 132.4,113.8 132.4,113.7 132.5,112.7 132.6,117.6 132.7,113.4 132.7,109.7 132.8,117.0 132.9,114.5 133.0,115.6 133.0,114.5 133.1,115.8 133.2,113.8 133.3,116.8 133.4,114.7 133.4,114.0 133.5,114.0 133.6,108.2 133.7,111.8 133.7,111.4 133.8,112.3 133.9,107.2 134.0,116.0 134.0,110.3 134.1,105.6 134.2,103.7 134.3,108.3 134.3,108.7 134.4,107.0 134.5,109.7 134.6,107.4 134.6,110.6 134.7,106.6 134.8,108.5 134.9,111.2 134.9,115.6 135.0,104.5 135.1,105.5 135.2,103.5 135.2,108.1 135.3,102.1 135.4,104.2 135.5,105.6 135.6,102.4 135.6,101.7 135.7,103.0 135.8,97.9 135.9,99.5 135.9,101.9 136.0,104.0 136.1,102.3 136.2,97.0 136.2,100.9 136.3,104.3 136.4,103.1 136.5,101.4 136.5,99.0 136.6,103.6 136.7,99.0 136.8,97.1 136.8,98.1 136.9,104.2 137.0,100.2 137.1,102.5 137.1,96.8 137.2,100.4 137.3,95.2 137.4,95.2 137.4,98.6 137.5,97.8 137.6,94.0 137.7,94.7 137.8,94.4 137.8,97.1 137.9,91.1 138.0,86.8 138.1,91.2 138.1,91.5 138.2,90.9 138.3,92.9 138.4,89.6 138.4,90.7 138.5,83.9 138.6,89.6 138.7,92.6 138.7,88.9 138.8,86.2 138.9,85.5 139.0,91.4 139.0,83.0 139.1,85.6 139.2,87.4 139.3,87.8 139.3,84.2 139.4,85.9 139.5,84.6 139.6,86.0 139.6,84.4 139.7,81.2 139.8,85.1 139.9,87.5 140.0,82.1 140.0,84.2 140.1,86.7 140.2,81.7 140.3,84.6 140.3,81.4 140.4,88.5 140.5,91.9 140.6,91.6 140.6,85.6 140.7,89.0 140.8,87.2 140.9,87.2 140.9,92.0 141.0,83.1 141.1,90.4 141.2,87.4 141.2,91.8 141.3,88.1 141.4,85.2 141.5,88.7 141.5,89.9 141.6,88.0 141.7,89.6 141.8,86.5 141.9,81.4 141.9,90.4 142.0,90.5 142.1,89.2 142.2,89.2 142.2,92.6 142.3,83.3 142.4,87.9 142.5,89.3 142.5,94.0 142.6,86.3 142.7,93.8 142.8,88.3 142.8,86.5 142.9,93.5 143.0,89.3 143.1,85.7 143.1,87.9 143.2,91.3 143.3,103.1 143.4,87.7 143.4,90.2 143.5,91.4 143.6,87.2 143.7,90.4 143.7,89.1 143.8,88.1 143.9,88.3 144.0,89.8 144.1,89.4 144.1,88.1 144.2,88.2 144.3,93.4 144.4,89.8 144.4,91.0 144.5,91.6 144.6,89.7 144.7,95.2 144.7,85.9 144.8,90.5 144.9,87.6 145.0,93.7 145.0,93.5 145.1,82.8 145.2,87.0 145.3,91.3 145.3,91.7 145.4,92.1 145.5,90.0 145.6,91.1 145.6,91.9 145.7,90.5 145.8,94.7 145.9,83.9 145.9,93.7 146.0,88.9 146.1,94.8 146.2,91.6 146.3,89.9 146.3,93.2 146.4,89.3 146.5,89.5 146.6,88.2 146.6,92.7 146.7,95.0 146.8,95.9 146.9,92.4 146.9,95.9 147.0,93.4 147.1,93.0 147.2,95.0 147.2,96.0 147.3,91.6 147.4,90.6 147.5,91.4 147.5,91.8 147.6,89.2 147.7,94.7 147.8,90.3 147.8,92.8 147.9,89.3 148.0,93.3 148.1,94.2 148.2,91.5 148.2,98.5 148.3,93.8 148.4,98.5 148.5,96.6 148.5,90.9 148.6,91.6 148.7,93.6 148.8,92.4 148.8,93.2 148.9,93.3 149.0,88.8 149.1,93.9 149.1,88.3 149.2,97.0 149.3,94.8 149.4,96.0 149.4,97.5 149.5,98.9 149.6,94.4 149.7,93.7 149.7,96.1 149.8,93.1 149.9,96.7 150.0,105.0 150.0,97.3 150.1,95.8 150.2,96.6 150.3,101.4 150.4,99.4 150.4,100.0 150.5,102.7 150.6,107.0 150.7,101.7 150.7,102.2 150.8,99.7 150.9,105.5 151.0,103.8 151.0,107.5 151.1,105.4 151.2,110.4 151.3,99.0 151.3,114.3 151.4,108.4 151.5,104.6 151.6,103.0 151.6,104.2 151.7,97.4 151.8,106.1 151.9,113.1 151.9,109.0 152.0,101.5 152.1,102.5 152.2,103.8 152.2,108.2 152.3,105.6 152.4,103.2 152.5,107.4 152.6,107.8 152.6,104.1 152.7,101.6 152.8,99.7 152.9,102.5 152.9,97.8 153.0,105.8 153.1,101.6 153.2,105.0 153.2,108.7 153.3,106.1 153.4,99.1 153.5,105.3 153.5,105.9 153.6,99.7 153.7,98.6 153.8,100.6 153.8,94.8 153.9,103.4 154.0,91.8 154.1,95.5 154.1,97.3 154.2,96.8 154.3,97.4 154.4,97.3 154.5,95.9 154.5,100.1 154.6,90.1 154.7,96.0 154.8,93.5 154.8,95.5 154.9,95.4 155.0,91.9 155.1,93.1 155.1,97.2 155.2,95.9 155.3,92.9 155.4,101.5 155.4,102.4 155.5,91.9 155.6,97.3 155.7,103.9 155.7,98.6 155.8,96.7 155.9,95.6 156.0,94.6 156.0,95.8 156.1,94.4 156.2,97.6 156.3,94.1 156.3,94.0 156.4,91.9 156.5,95.4 156.6,92.6 156.7,94.6 156.7,97.8 156.8,95.8 156.9,97.2 157.0,97.2 157.0,96.6 157.1,95.9 157.2,95.3 157.3,98.9 157.3,93.3 157.4,101.0 157.5,97.1 157.6,94.3 157.6,94.7 157.7,94.2 157.8,97.2 157.9,95.2 157.9,100.2 158.0,94.2 158.1,89.3 158.2,94.0 158.2,90.5 158.3,96.7 158.4,99.9 158.5,98.4 158.5,92.2 158.6,94.2 158.7,101.8 158.8,97.8 158.9,97.8 158.9,100.5 159.0,105.1 159.1,102.4 159.2,98.9 159.2,100.0 159.3,101.2 159.4,98.1 159.5,97.4 159.5,100.4 159.6,98.4 159.7,101.1 159.8,101.4 159.8,108.5 159.9,99.1 160.0,101.7 160.1,101.4 160.1,103.3 160.2,105.3 160.3,100.2 160.4,99.7 160.4,97.0 160.5,98.9 160.6,103.5 160.7,101.4 160.7,98.5 160.8,99.9 160.9,100.9 161.0,102.7 161.1,98.9 161.1,100.8 161.2,96.7 161.3,99.2 161.4,108.4 161.4,97.2 161.5,103.8 161.6,104.8 161.7,103.9 161.7,103.1 161.8,105.4 161.9,105.4 162.0,105.2 162.0,100.0 162.1,105.0 162.2,102.6 162.3,103.4 162.3,106.1 162.4,106.7 162.5,107.8 162.6,103.8 162.6,107.7 162.7,108.2 162.8,108.3 162.9,109.2 163.0,105.3 163.0,105.3 163.1,107.7 163.2,100.5 163.3,105.1 163.3,103.1 163.4,103.9 163.5,99.6 163.6,102.2 163.6,104.3 163.7,106.9 163.8,106.4 163.9,104.9 163.9,104.1 164.0,102.0 164.1,104.8 164.2,102.7 164.2,105.2 164.3,108.7 164.4,102.6 164.5,97.7 164.5,99.3 164.6,98.1 164.7,99.0 164.8,107.1 164.8,103.6 164.9,98.1 165.0,104.6 165.1,107.3 165.2,103.1 165.2,102.2 165.3,108.6 165.4,105.7 165.5,106.7 165.5,108.7 165.6,109.7 165.7,109.5 165.8,110.5 165.8,109.1 165.9,102.5 166.0,106.4 166.1,107.3 166.1,105.6 166.2,110.1 166.3,106.4 166.4,105.3 166.4,112.2 166.5,109.8 166.6,108.9 166.7,115.5 166.7,112.4 166.8,110.0 166.9,101.5 167.0,106.4 167.0,106.6 167.1,104.4 167.2,108.0 167.3,110.8 167.4,105.8 167.4,103.0 167.5,112.5 167.6,104.9 167.7,102.7 167.7,108.3 167.8,109.8 167.9,106.4 168.0,110.7 168.0,107.1 168.1,105.6 168.2,109.5 168.3,111.6 168.3,107.4 168.4,109.5 168.5,107.9 168.6,115.9 168.6,106.0 168.7,111.9 168.8,107.7 168.9,107.1 168.9,109.6 169.0,110.2 169.1,111.7 169.2,109.3 169.3,107.1 169.3,106.1 169.4,111.1 169.5,111.1 169.6,113.9 169.6,110.9 169.7,112.4 169.8,113.5 169.9,109.2 169.9,104.5 170.0,101.7 170.1,104.0 170.2,113.6 170.2,106.8 170.3,113.7 170.4,112.6 170.5,116.1 170.5,113.6 170.6,109.7 170.7,109.3 170.8,111.2 170.8,111.3 170.9,108.4 171.0,109.7 171.1,113.6 171.1,103.5 171.2,110.4 171.3,108.0 171.4,121.8 171.5,113.2 171.5,110.6 171.6,112.9 171.7,105.0 171.8,114.0 171.8,108.9 171.9,112.8 172.0,118.3 172.1,102.6 172.1,106.9 172.2,110.5 172.3,114.7 172.4,111.6 172.4,110.4 172.5,105.8 172.6,113.9 172.7,114.7 172.7,109.4 172.8,109.4 172.9,105.0 173.0,112.6 173.0,118.6 173.1,113.2 173.2,114.1 173.3,111.3 173.3,105.9 173.4,112.4 173.5,104.7 173.6,107.4 173.7,108.4 173.7,109.6 173.8,107.4 173.9,107.3 174.0,104.0 174.0,103.3 174.1,107.2 174.2,104.7 174.3,103.3 174.3,103.4 174.4,105.6 174.5,101.5 174.6,102.3 174.6,101.3 174.7,106.4 174.8,107.2 174.9,112.5 174.9,100.0 175.0,102.7 175.1,107.6 175.2,104.5 175.2,104.1 175.3,110.2 175.4,104.1 175.5,101.7 175.5,101.3 175.6,106.9 175.7,105.4 175.8,101.2 175.9,101.9 175.9,107.0 176.0,106.7 176.1,103.0 176.2,106.8 176.2,106.5 176.3,99.4 176.4,103.6 176.5,105.6 176.5,103.5 176.6,98.8 176.7,104.9 176.8,108.4 176.8,110.9 176.9,100.6 177.0,114.6 177.1,104.0 177.1,110.3 177.2,110.6 177.3,110.2 177.4,107.6 177.4,103.5 177.5,109.4 177.6,104.1 177.7,98.4 177.8,113.9 177.8,108.5 177.9,112.4 178.0,104.4 178.1,111.3 178.1,114.1 178.2,111.8 178.3,108.0 178.4,104.2 178.4,108.3 178.5,102.0 178.6,103.9 178.7,109.9 178.7,107.0 178.8,109.2 178.9,109.8 179.0,116.0 179.0,114.8 179.1,110.4 179.2,114.0 179.3,108.1 179.3,109.4 179.4,113.1 179.5,106.7 179.6,108.3 179.6,104.3 179.7,108.7 179.8,112.5 179.9,104.4 180.0,107.0 180.0,102.9 180.1,101.2 180.2,100.0 180.3,107.6 180.3,109.4 180.4,102.5 180.5,98.3 180.6,102.2 180.6,97.9 180.7,100.3 180.8,98.9 180.9,98.3 180.9,99.7 181.0,96.1 181.1,96.0 181.2,91.5 181.2,95.4 181.3,92.8 181.4,97.0 181.5,94.1 181.5,97.4 181.6,97.5 181.7,92.2 181.8,94.0 181.8,94.1 181.9,99.2 182.0,101.2 182.1,98.2 182.2,94.2 182.2,99.1 182.3,90.6 182.4,100.5 182.5,94.1 182.5,87.3 182.6,103.0 182.7,100.2 182.8,91.6 182.8,95.3 182.9,94.2 183.0,95.2 183.1,88.6 183.1,91.1 183.2,94.3 183.3,93.6 183.4,95.7 183.4,92.4 183.5,99.6 183.6,90.4 183.7,93.8 183.7,86.8 183.8,88.1 183.9,96.1 184.0,88.9 184.1,93.8 184.1,92.9 184.2,90.2 184.3,91.8 184.4,91.0 184.4,91.4 184.5,95.9 184.6,94.9 184.7,91.5 184.7,90.5 184.8,93.9 184.9,92.0 185.0,95.7 185.0,100.6 185.1,95.4 185.2,92.3 185.3,92.4 185.3,90.3 185.4,90.4 185.5,90.0 185.6,91.7 185.6,91.4 185.7,94.6 185.8,90.1 185.9,90.1 185.9,86.6 186.0,95.1 186.1,91.0 186.2,94.7 186.3,92.4 186.3,94.3 186.4,89.1 186.5,92.5 186.6,98.2 186.6,86.2 186.7,93.9 186.8,96.0 186.9,92.3 186.9,93.0 187.0,94.2 187.1,88.5 187.2,91.7 187.2,88.2 187.3,89.2 187.4,88.6 187.5,89.4 187.5,90.3 187.6,91.4 187.7,85.7 187.8,95.9 187.8,93.0 187.9,92.1 188.0,88.6 188.1,89.8 188.1,91.4 188.2,90.3 188.3,83.8 188.4,98.4 188.5,98.6 188.5,83.9 188.6,92.7 188.7,91.0 188.8,89.4 188.8,90.4 188.9,87.4 189.0,91.8 189.1,95.7 189.1,90.8 189.2,90.3 189.3,91.7 189.4,89.6 189.4,95.6 189.5,88.2 189.6,93.0 189.7,86.4 189.7,92.2 189.8,89.9 189.9,83.0 190.0,90.6 190.0,88.2 190.1,90.3 190.2,96.0 190.3,88.3 190.4,88.7 190.4,96.7 190.5,92.3 190.6,96.4 190.7,92.3 190.7,88.2 190.8,90.9 190.9,95.7 191.0,90.8 191.0,91.1 191.1,91.1 191.2,90.7 191.3,89.3 191.3,97.1 191.4,91.2 191.5,87.9 191.6,88.7 191.6,93.4 191.7,92.7 191.8,90.7 191.9,89.4 191.9,92.0 192.0,87.1 192.1,88.6 192.2,94.8 192.2,91.1 192.3,93.5 192.4,96.5 192.5,94.9 192.6,92.2 192.6,98.2 192.7,93.8 192.8,89.9 192.9,93.2 192.9,93.1 193.0,89.5 193.1,91.8 193.2,90.9 193.2,86.4 193.3,92.2 193.4,91.7 193.5,91.7 193.5,87.8 193.6,90.9 193.7,91.6 193.8,92.4 193.8,88.7 193.9,93.7 194.0,86.9 194.1,89.7 194.1,94.4 194.2,88.7 194.3,89.5 194.4,93.8 194.4,89.8 194.5,96.2 194.6,91.2 194.7,94.4 194.8,84.1 194.8,88.7 194.9,87.2 195.0,86.7 195.1,87.8 195.1,87.2 195.2,91.2 195.3,87.2 195.4,90.2 195.4,92.2 195.5,88.2 195.6,91.6 195.7,96.1 195.7,91.7 195.8,89.0 195.9,90.7 196.0,88.1 196.0,91.7 196.1,93.0 196.2,87.3 196.3,89.1 196.3,93.4 196.4,88.4 196.5,90.3 196.6,86.2 196.6,86.5 196.7,88.3 196.8,96.4 196.9,89.6 197.0,89.3 197.0,89.6 197.1,91.3 197.2,94.1 197.3,93.7 197.3,99.5 197.4,93.4 197.5,96.9 197.6,91.8 197.6,92.3 197.7,85.8 197.8,99.1 197.9,89.2 197.9,88.3 198.0,83.0 198.1,91.9 198.2,88.6 198.2,90.1 198.3,91.3 198.4,91.0 198.5,93.2 198.5,88.3 198.6,88.8 198.7,92.0 198.8,91.5 198.9,89.8 198.9,88.9 199.0,88.3 199.1,91.1 199.2,93.9 199.2,87.1 199.3,95.2 199.4,92.8 199.5,90.0 199.5,93.1 199.6,85.8 199.7,84.9 199.8,86.2 199.8,88.9 199.9,89.1 200.0,88.2 200.1,90.4 200.1,82.8 200.2,90.6 200.3,85.1 200.4,87.1 200.4,87.8 200.5,84.4 200.6,83.4 200.7,84.0 200.7,86.5 200.8,88.0 200.9,88.2 201.0,83.5 201.1,83.7 201.1,83.1 201.2,88.8 201.3,81.5 201.4,91.7 201.4,87.1 201.5,86.2 201.6,88.6 201.7,90.6 201.7,88.5 201.8,90.6 201.9,87.6 202.0,91.2 202.0,91.1 202.1,86.8 202.2,91.5 202.3,88.3 202.3,88.1 202.4,85.3 202.5,87.1 202.6,89.8 202.6,83.4 202.7,92.2 202.8,87.4 202.9,87.5 202.9,79.9 203.0,86.1 203.1,88.2 203.2,84.1 203.3,86.9 203.3,79.5 203.4,88.7 203.5,85.4 203.6,89.3 203.6,89.1 203.7,88.6 203.8,85.5 203.9,88.9 203.9,83.7 204.0,84.4 204.1,93.4 204.2,83.6 204.2,84.3 204.3,84.6 204.4,82.9 204.5,89.8 204.5,91.3 204.6,84.5 204.7,81.4 204.8,90.6 204.8,90.6 204.9,89.1 205.0,90.1 205.1,84.8 205.2,87.2 205.2,83.2 205.3,82.6 205.4,89.8 205.5,84.9 205.5,94.0 205.6,88.7 205.7,87.4 205.8,90.5 205.8,93.9 205.9,90.1 206.0,85.2 206.1,90.9 206.1,93.5 206.2,88.4 206.3,87.0 206.4,91.2 206.4,90.7 206.5,86.5 206.6,89.3 206.7,88.7 206.7,91.4 206.8,91.2 206.9,94.2 207.0,92.9 207.0,86.6 207.1,92.3 207.2,94.2 207.3,92.2 207.4,93.7 207.4,89.1 207.5,87.4 207.6,92.8 207.7,86.7 207.7,83.4 207.8,92.9 207.9,87.6 208.0,89.7 208.0,86.5 208.1,86.1 208.2,86.9 208.3,89.8 208.3,87.9 208.4,84.3 208.5,93.9 208.6,88.1 208.6,87.9 208.7,92.9 208.8,91.1 208.9,86.7 208.9,96.7 209.0,88.9 209.1,91.8 209.2,91.5 209.2,95.1 209.3,89.1 209.4,93.4 209.5,88.0 209.6,93.6 209.6,87.7 209.7,94.3 209.8,95.3 209.9,90.8 209.9,90.1 210.0,96.6 210.1,91.2 210.2,87.6 210.2,92.9 210.3,87.1 210.4,94.1 210.5,94.6 210.5,89.0 210.6,88.8 210.7,92.3 210.8,91.9 210.8,89.6 210.9,94.1 211.0,86.1 211.1,91.7 211.1,92.0 211.2,92.8 211.3,97.3 211.4,89.5 211.5,95.0 211.5,92.3 211.6,91.3 211.7,89.7 211.8,89.6 211.8,94.1 211.9,90.1 212.0,93.9 212.1,96.8 212.1,97.1 212.2,99.3 212.3,92.6 212.4,89.3 212.4,96.0 212.5,93.9 212.6,96.6 212.7,93.1 212.7,96.2 212.8,94.7 212.9,94.2 213.0,93.8 213.0,93.7 213.1,93.6 213.2,100.8 213.3,95.1 213.3,90.6 213.4,97.9 213.5,92.2 213.6,94.9 213.7,91.7 213.7,91.4 213.8,98.2 213.9,91.9 214.0,89.3 214.0,91.4 214.1,92.2 214.2,99.8 214.3,94.8 214.3,97.1 214.4,93.3 214.5,96.3 214.6,97.1 214.6,99.9 214.7,92.0 214.8,95.9 214.9,94.9 214.9,90.3 215.0,93.7 215.1,92.4 215.2,85.7 215.2,94.5 215.3,94.0 215.4,91.6 215.5,80.0 215.5,97.1 215.6,93.8 215.7,95.3 215.8,96.9 215.9,91.6 215.9,95.5 216.0,93.0 216.1,92.6 216.2,93.5 216.2,94.0 216.3,97.2 216.4,95.2 216.5,94.3 216.5,94.0 216.6,96.3 216.7,92.1 216.8,93.8 216.8,95.1 216.9,93.1 217.0,94.8 217.1,92.9 217.1,100.7 217.2,97.9 217.3,95.1 217.4,94.1 217.4,100.6 217.5,94.9 217.6,93.4 217.7,94.6 217.7,94.2 217.8,96.7 217.9,92.4 218.0,98.4 218.1,89.6 218.1,94.1 218.2,89.1 218.3,100.1 218.4,91.8 218.4,93.1 218.5,97.5 218.6,98.4 218.7,91.8 218.7,93.6 218.8,91.0 218.9,95.7 219.0,94.8 219.0,92.7 219.1,90.7 219.2,90.1 219.3,88.7 219.3,91.6 219.4,94.0 219.5,83.1 219.6,88.1 219.6,86.9 219.7,89.5 219.8,85.1 219.9,87.6 220.0,84.5 220.0,89.9 220.1,88.7 220.2,87.5 220.3,88.5 220.3,87.3 220.4,83.8 220.5,89.7 220.6,88.4 220.6,87.3 220.7,89.8 220.8,90.0 220.9,82.4 220.9,82.8 221.0,88.7 221.1,86.8 221.2,79.9 221.2,77.5 221.3,79.1 221.4,79.9 221.5,76.6 221.5,81.1 221.6,77.3 221.7,77.7 221.8,84.5 221.8,79.8 221.9,81.6 222.0,82.7 222.1,82.2 222.2,77.5 222.2,77.8 222.3,74.7 222.4,82.5 222.5,78.6 222.5,73.8 222.6,78.1 222.7,80.1 222.8,79.6 222.8,84.2 222.9,83.7 223.0,77.9 223.1,78.7 223.1,75.9 223.2,79.4 223.3,78.8 223.4,87.2 223.4,79.8 223.5,73.7 223.6,77.9 223.7,80.8 223.7,77.3 223.8,78.3 223.9,80.6 224.0,82.8 224.0,81.5 224.1,80.0 224.2,85.0 224.3,80.8 224.4,80.6 224.4,78.1 224.5,80.8 224.6,85.5 224.7,78.8 224.7,92.8 224.8,85.3 224.9,82.1 225.0,84.4 225.0,80.8 225.1,88.9 225.2,87.9 225.3,85.9 225.3,80.6 225.4,83.2 225.5,89.4 225.6,91.7 225.6,87.7 225.7,90.2 225.8,84.0 225.9,85.6 225.9,85.8 226.0,87.1 226.1,81.6 226.2,87.9 226.3,89.4 226.3,81.8 226.4,81.5 226.5,86.8 226.6,83.8 226.6,79.3 226.7,88.3 226.8,85.7 226.9,85.6 226.9,92.8 227.0,90.5 227.1,85.3 227.2,88.2 227.2,84.7 227.3,86.3 227.4,90.4 227.5,87.1 227.5,87.3 227.6,94.3 227.7,91.7 227.8,91.7 227.8,90.9 227.9,91.3 228.0,93.2 228.1,88.4 228.1,94.3 228.2,86.0 228.3,88.4 228.4,85.3 228.5,88.2 228.5,91.1 228.6,93.7 228.7,88.1 228.8,90.3 228.8,89.6 228.9,88.7 229.0,86.7 229.1,90.3 229.1,85.0 229.2,90.3 229.3,90.1 229.4,87.6 229.4,87.1 229.5,85.7 229.6,95.2 229.7,86.6 229.7,94.8 229.8,91.9 229.9,89.4 230.0,86.8 230.0,93.2 230.1,94.9 230.2,87.1 230.3,89.3 230.3,92.4 230.4,90.7 230.5,95.5 230.6,87.3 230.7,90.5 230.7,84.4 230.8,94.6 230.9,86.4 231.0,82.0 231.0,88.7 231.1,88.2 231.2,94.8 231.3,87.9 231.3,88.8 231.4,91.5 231.5,93.8 231.6,88.5 231.6,91.3 231.7,89.2 231.8,86.7 231.9,87.4 231.9,87.2 232.0,84.7 232.1,90.8 232.2,82.8 232.2,90.0 232.3,89.1 232.4,85.5 232.5,83.3 232.5,84.8 232.6,86.9 232.7,86.7 232.8,84.7 232.9,87.4 232.9,84.1 233.0,84.5 233.1,80.0 233.2,87.7 233.2,85.3 233.3,83.1 233.4,88.4 233.5,86.7 233.5,75.9 233.6,84.6 233.7,80.6 233.8,86.7 233.8,83.1 233.9,80.8 234.0,83.3 234.1,82.2 234.1,83.9 234.2,85.2 234.3,88.6 234.4,80.6 234.4,89.1 234.5,82.6 234.6,87.1 234.7,89.6 234.8,88.6 234.8,84.3 234.9,84.8 235.0,85.1 235.1,85.4 235.1,90.3 235.2,82.9 235.3,88.2 235.4,88.8 235.4,88.9 235.5,88.2 235.6,99.3 235.7,88.9 235.7,89.8 235.8,88.8 235.9,93.1 236.0,82.1 236.0,91.3 236.1,86.2 236.2,86.7 236.3,84.4 236.3,82.6 236.4,86.9 236.5,85.8 236.6,89.0 236.6,82.9 236.7,92.0 236.8,89.3 236.9,88.5 237.0,87.3 237.0,86.4 237.1,85.4 237.2,87.9 237.3,90.0 237.3,89.5 237.4,86.3 237.5,89.6 237.6,87.6 237.6,91.1 237.7,96.1 237.8,92.9 237.9,89.6 237.9,84.9 238.0,85.8 238.1,85.0 238.2,93.0 238.2,100.6 238.3,90.5 238.4,88.5 238.5,91.3 238.5,96.0 238.6,85.1 238.7,91.5 238.8,90.1 238.8,94.0 238.9,88.7 239.0,88.6 239.1,88.2 239.2,87.7 239.2,93.9 239.3,101.0 239.4,90.8 239.5,96.2 239.5,94.6 239.6,90.8 239.7,93.0 239.8,93.2 239.8,91.5 239.9,99.5 240.0,88.0 240.1,94.6 240.1,95.0 240.2,92.5 240.3,94.5 240.4,97.4 240.4,95.4 240.5,97.3 240.6,97.6 240.7,88.9 240.7,99.9 240.8,102.3 240.9,98.9 241.0,99.1 241.1,91.1 241.1,95.5 241.2,92.7 241.3,94.1 241.4,98.7 241.4,92.5 241.5,94.8 241.6,89.6 241.7,95.1 241.7,96.4 241.8,94.3 241.9,90.0 242.0,101.8 242.0,92.9 242.1,94.1 242.2,95.1 242.3,100.9 242.3,104.0 242.4,99.4 242.5,95.6 242.6,96.7 242.6,101.4 242.7,95.7 242.8,103.1 242.9,102.3 242.9,98.8 243.0,100.8 243.1,101.0 243.2,103.6 243.3,96.4 243.3,103.2 243.4,99.0 243.5,97.9 243.6,101.5 243.6,100.4 243.7,98.4 243.8,96.0 243.9,98.3 243.9,105.8 244.0,107.1 244.1,103.4 244.2,104.8 244.2,99.6 244.3,101.0 244.4,101.6 244.5,98.5 244.5,99.2 244.6,102.3 244.7,102.4 244.8,100.1 244.8,104.7 244.9,103.2 245.0,107.8 245.1,105.3 245.1,105.0 245.2,106.1 245.3,105.7 245.4,103.9 245.5,104.8 245.5,108.7 245.6,107.1 245.7,108.6 245.8,100.0 245.8,102.7 245.9,102.8 246.0,104.4 246.1,102.4 246.1,102.8 246.2,106.1 246.3,105.3 246.4,101.8 246.4,108.3 246.5,108.0 246.6,104.1 246.7,108.7 246.7,104.1 246.8,108.3 246.9,104.9 247.0,103.3 247.0,104.2 247.1,103.5 247.2,107.5 247.3,106.8 247.4,105.7 247.4,103.8 247.5,95.3 247.6,106.6 247.7,100.5 247.7,107.4 247.8,110.2 247.9,106.2 248.0,104.3 248.0,105.5 248.1,105.4 248.2,104.7 248.3,105.0 248.3,103.8 248.4,110.0 248.5,107.0 248.6,110.9 248.6,107.4 248.7,108.5 248.8,107.8 248.9,108.9 248.9,110.0 249.0,108.7 249.1,102.3 249.2,105.1 249.2,112.1 249.3,106.1 249.4,106.0 249.5,111.8 249.6,111.2 249.6,109.7 249.7,106.3 249.8,114.2 249.9,108.8 249.9,109.8 250.0,108.0 250.1,104.1 250.2,103.7 250.2,109.1 250.3,109.1 250.4,107.4 250.5,105.1 250.5,104.0 250.6,107.0 250.7,103.2 250.8,110.5 250.8,111.2 250.9,116.7 251.0,110.7 251.1,106.4 251.1,105.9 251.2,98.4 251.3,106.7 251.4,109.1 251.4,112.1 251.5,111.7 251.6,111.6 251.7,109.7 251.8,111.8 251.8,113.7 251.9,105.9 252.0,107.6 252.1,104.2 252.1,113.3 252.2,111.9 252.3,109.8 252.4,104.4 252.4,108.7 252.5,107.1 252.6,107.9 252.7,107.4 252.7,109.5 252.8,107.4 252.9,111.8 253.0,110.1 253.0,108.7 253.1,108.7 253.2,108.4 253.3,112.6 253.3,109.3 253.4,110.2 253.5,108.6 253.6,105.3 253.6,112.6 253.7,106.9 253.8,111.9 253.9,110.5 254.0,103.9 254.0,106.1 254.1,107.8 254.2,105.7 254.3,104.1 254.3,109.9 254.4,106.7 254.5,108.7 254.6,105.9 254.6,108.1 254.7,104.9 254.8,106.8 254.9,108.5 254.9,107.1 255.0,105.1 255.1,103.5 255.2,107.1 255.2,108.5 255.3,106.6 255.4,104.5 255.5,108.8 255.5,115.1 255.6,106.8 255.7,108.8 255.8,108.5 255.9,100.1 255.9,108.3 256.0,106.1 256.1,113.2 256.2,108.5 256.2,107.2 256.3,108.9 256.4,110.3 256.5,108.3 256.5,109.5 256.6,106.0 256.7,109.1 256.8,111.6 256.8,114.9 256.9,110.8 257.0,109.2 257.1,111.4 257.1,110.2 257.2,109.3 257.3,109.0 257.4,102.5 257.4,106.7 257.5,106.9 257.6,107.8 257.7,107.5 257.7,104.7 257.8,101.0 257.9,104.9 258.0,101.3 258.1,106.8 258.1,106.5 258.2,101.1 258.3,107.8 258.4,108.8 258.4,106.0 258.5,110.8 258.6,111.5 258.7,101.6 258.7,109.1 258.8,107.8 258.9,107.7 259.0,109.1 259.0,103.9 259.1,104.7 259.2,104.0 259.3,104.6 259.3,107.2 259.4,102.7 259.5,103.8 259.6,108.6 259.6,106.5 259.7,108.3 259.8,101.0 259.9,104.4 259.9,105.0 260.0,106.5 260.1,105.0 260.2,109.0 260.3,105.5 260.3,105.4 260.4,105.0 260.5,107.1 260.6,104.1 260.6,108.1 260.7,106.3 260.8,104.6 260.9,104.1 260.9,105.8 261.0,112.7 261.1,106.1 261.2,104.4 261.2,105.5 261.3,103.7 261.4,106.8 261.5,104.4 261.5,98.5 261.6,108.6 261.7,106.2 261.8,103.1 261.8,105.9 261.9,104.2 262.0,113.2 262.1,108.8 262.2,102.0 262.2,108.0 262.3,105.7 262.4,112.1 262.5,102.7 262.5,98.9 262.6,105.8 262.7,104.3 262.8,103.9 262.8,98.8 262.9,106.9 263.0,109.8 263.1,99.2 263.1,109.0 263.2,104.3 263.3,113.3 263.4,107.8 263.4,106.1 263.5,110.3 263.6,108.4 263.7,106.1 263.7,110.3 263.8,106.6 263.9,103.1 264.0,114.2 264.0,106.7 264.1,106.0 264.2,108.5 264.3,103.0 264.4,103.1 264.4,105.6 264.5,105.4 264.6,106.4 264.7,109.4 264.7,105.2 264.8,107.5 264.9,107.6 265.0,102.3 265.0,106.0 265.1,102.1 265.2,108.3 265.3,107.4 265.3,106.3 265.4,102.3 265.5,107.3 265.6,105.3 265.6,109.7 265.7,107.7 265.8,105.6 265.9,110.5 265.9,109.1 266.0,104.6 266.1,109.4 266.2,104.3 266.2,104.0 266.3,105.4 266.4,102.6 266.5,103.5 266.6,104.7 266.6,109.7 266.7,109.8 266.8,104.1 266.9,109.4 266.9,103.6 267.0,105.4 267.1,106.3 267.2,104.5 267.2,111.2 267.3,104.7 267.4,101.0 267.5,109.7 267.5,105.6 267.6,107.4 267.7,99.0 267.8,111.4 267.8,104.8 267.9,110.2 268.0,110.4 268.1,111.6 268.1,106.6 268.2,109.0 268.3,103.2 268.4,104.0 268.4,108.5 268.5,106.3 268.6,101.1 268.7,106.2 268.8,104.6 268.8,101.7 268.9,105.7 269.0,103.9 269.1,101.0 269.1,103.0 269.2,111.9 269.3,102.1 269.4,107.3 269.4,109.0 269.5,108.6 269.6,102.8 269.7,105.4 269.7,106.6 269.8,108.3 269.9,103.7 270.0,101.7 270.0,108.5 270.1,108.7 270.2,107.5 270.3,105.3 270.3,107.6 270.4,106.4 270.5,108.2 270.6,101.9 270.7,106.0 270.7,105.3 270.8,102.7 270.9,106.4 271.0,104.8 271.0,103.6 271.1,105.5 271.2,100.4 271.3,104.3 271.3,106.0 271.4,105.4 271.5,107.4 271.6,100.1 271.6,98.9 271.7,104.8 271.8,106.0 271.9,110.8 271.9,107.3 272.0,102.9 272.1,108.2 272.2,103.4 272.2,102.2 272.3,108.0 272.4,107.9 272.5,108.9 272.5,108.4 272.6,111.8 272.7,106.5 272.8,109.1 272.9,93.4 272.9,100.5 273.0,108.1 273.1,108.4 273.2,105.3 273.2,104.2 273.3,103.5 273.4,101.0 273.5,107.6 273.5,104.4 273.6,103.7 273.7,103.9 273.8,105.6 273.8,104.3 273.9,105.0 274.0,100.1 274.1,105.8 274.1,110.5 274.2,102.8 274.3,104.0 274.4,107.1 274.4,107.1 274.5,105.8 274.6,99.6 274.7,105.2 274.7,99.9 274.8,101.3 274.9,105.5 275.0,103.6 275.1,107.1 275.1,114.7 275.2,106.8 275.3,106.2 275.4,101.6 275.4,103.1 275.5,101.9 275.6,103.0 275.7,101.1 275.7,102.1 275.8,102.5 275.9,101.0 276.0,100.0 276.0,100.2 276.1,105.3 276.2,103.8 276.3,108.1 276.3,107.6 276.4,103.6 276.5,106.8 276.6,101.1 276.6,112.1 276.7,108.8 276.8,104.4 276.9,101.9 277.0,111.7 277.0,98.8 277.1,102.4 277.2,107.8 277.3,105.3 277.3,103.4 277.4,107.6 277.5,102.1 277.6,106.3 277.6,111.0 277.7,103.4 277.8,106.5 277.9,101.6 277.9,103.3 278.0,103.0 278.1,110.7 278.2,101.2 278.2,106.3 278.3,101.0 278.4,101.0 278.5,106.1 278.5,107.8 278.6,102.1 278.7,109.0 278.8,103.5 278.8,105.6 278.9,106.5 279.0,107.1 279.1,100.1 279.2,110.3 279.2,106.9 279.3,104.2 279.4,103.0 279.5,100.7 279.5,102.1 279.6,107.9 279.7,105.6 279.8,102.9 279.8,104.2 279.9,110.7 280.0,104.7 280.1,104.5 280.1,110.5 280.2,107.8 280.3,106.6 280.4,104.3 280.4,101.5 280.5,103.2 280.6,104.9 280.7,106.0 280.7,107.3 280.8,107.7 280.9,106.4 281.0,106.1 281.0,102.9 281.1,99.3 281.2,103.8 281.3,103.2 281.4,103.3 281.4,103.5 281.5,100.6 281.6,101.2 281.7,104.1 281.7,104.1 281.8,102.1 281.9,105.9 282.0,103.4 282.0,101.3 282.1,105.3 282.2,111.2 282.3,103.9 282.3,109.6 282.4,109.1 282.5,108.9 282.6,101.7 282.6,110.4 282.7,104.1 282.8,103.1 282.9,102.8 282.9,104.7 283.0,102.7 283.1,102.8 283.2,107.2 283.3,101.3 283.3,99.9 283.4,105.4 283.5,104.2 283.6,105.1 283.6,98.3 283.7,105.0 283.8,102.8 283.9,107.3 283.9,98.3 284.0,102.4 284.1,101.2 284.2,97.8 284.2,92.5 284.3,105.5 284.4,100.2 284.5,100.3 284.5,103.9 284.6,104.0 284.7,104.1 284.8,98.6 284.8,100.1 284.9,103.2 285.0,98.7 285.1,98.4 285.1,101.9 285.2,105.0 285.3,96.0 285.4,91.7 285.5,95.1 285.5,96.7 285.6,99.4 285.7,101.5 285.8,98.8 285.8,97.6 285.9,99.6 286.0,97.2 286.1,99.3 286.1,97.6 286.2,107.2 286.3,101.3 286.4,95.6 286.4,95.1 286.5,95.8 286.6,91.4 286.7,93.5 286.7,93.0 286.8,97.7 286.9,93.4 287.0,92.1 287.0,90.5 287.1,90.8 287.2,94.3 287.3,94.0 287.3,98.7 287.4,93.0 287.5,97.8 287.6,95.7 287.7,94.8 287.7,88.5 287.8,89.7 287.9,95.9 288.0,98.1 288.0,94.3 288.1,95.7 288.2,92.0 288.3,91.5 288.3,90.7 288.4,95.6 288.5,93.5 288.6,91.2 288.6,90.3 288.7,93.1 288.8,91.7 288.9,87.4 288.9,94.5 289.0,89.7 289.1,89.2 289.2,100.7 289.2,94.1 289.3,91.2 289.4,93.3 289.5,89.1 289.5,90.8 289.6,87.1 289.7,97.0 289.8,87.8 289.9,95.6 289.9,91.5 290.0,90.9 290.1,93.5 290.2,95.5 290.2,96.6 290.3,99.2 290.4,95.9 290.5,97.4 290.5,93.4 290.6,97.0 290.7,96.5 290.8,94.9 290.8,95.7 290.9,96.1 291.0,97.4 291.1,98.5 291.1,97.0 291.2,96.3 291.3,101.6 291.4,93.6 291.4,97.2 291.5,105.0 291.6,92.2 291.7,99.3 291.8,104.0 291.8,96.1 291.9,108.8 292.0,92.8 292.1,105.7 292.1,105.9 292.2,103.2 292.3,100.5 292.4,102.0 292.4,97.9 292.5,103.6 292.6,98.8 292.7,101.4 292.7,105.5 292.8,99.3 292.9,101.4 293.0,103.0 293.0,98.7 293.1,105.5 293.2,103.3 293.3,97.0 293.3,101.4 293.4,99.0 293.5,99.2 293.6,101.9 293.6,99.2 293.7,104.8 293.8,100.5 293.9,105.1 294.0,102.2 294.0,104.9 294.1,100.6 294.2,101.1 294.3,99.4 294.3,104.8 294.4,105.3 294.5,109.1 294.6,107.0 294.6,104.4 294.7,103.7 294.8,105.7 294.9,104.4 294.9,108.0 295.0,106.2 295.1,100.9 295.2,100.5 295.2,106.6 295.3,103.5 295.4,101.5 295.5,105.2 295.5,101.3 295.6,102.8 295.7,102.5 295.8,98.3 295.8,108.0 295.9,101.6 296.0,104.3 296.1,103.6 296.2,113.9 296.2,105.0 296.3,104.8 296.4,99.4 296.5,103.7 296.5,99.4 296.6,105.2 296.7,104.4 296.8,104.1 296.8,110.1 296.9,107.7 297.0,106.3 297.1,105.4 297.1,104.5 297.2,107.6 297.3,107.9 297.4,100.5 297.4,106.9 297.5,105.7 297.6,106.7 297.7,104.9 297.7,99.5 297.8,99.5 297.9,108.4 298.0,103.8 298.1,99.0 298.1,104.3 298.2,102.0 298.3,97.2 298.4,95.2 298.4,97.5 298.5,106.7 298.6,101.6 298.7,100.5 298.7,102.3 298.8,103.0 298.9,95.0 299.0,100.7 299.0,99.7 299.1,97.9 299.2,100.7 299.3,102.4 299.3,104.7 299.4,99.5 299.5,102.9 299.6,110.4 299.6,101.3 299.7,99.8 299.8,106.1 299.9,106.6 299.9,106.8 300.0,101.1 300.1,104.6 300.2,101.7 300.3,100.6 300.3,101.9 300.4,103.3 300.5,105.7 300.6,115.4 300.6,102.7 300.7,106.1 300.8,103.3 300.9,105.8 300.9,98.5 301.0,98.4 301.1,105.3 301.2,99.1 301.2,102.8 301.3,103.5 301.4,102.2 301.5,102.2 301.5,107.2 301.6,95.9 301.7,106.2 301.8,111.1 301.8,103.9 301.9,103.8 302.0,105.5 302.1,108.4 302.1,99.3 302.2,103.2 302.3,101.8 302.4,103.2 302.5,101.8 302.5,103.3 302.6,99.4 302.7,102.2 302.8,100.8 302.8,101.0 302.9,103.1 303.0,103.8 303.1,101.4 303.1,108.9 303.2,103.6 303.3,100.4 303.4,106.9 303.4,101.7 303.5,105.1 303.6,103.0 303.7,104.2 303.7,103.6 303.8,102.2 303.9,104.6 304.0,111.4 304.0,98.7 304.1,105.2 304.2,107.1 304.3,97.7 304.4,101.7 304.4,112.0 304.5,103.8 304.6,110.7 304.7,105.2 304.7,103.5 304.8,104.7 304.9,104.4 305.0,106.8 305.0,105.3 305.1,104.9 305.2,105.2 305.3,108.9 305.3,107.9 305.4,103.0 305.5,104.2 305.6,107.4 305.6,102.3 305.7,104.1 305.8,102.1 305.9,103.7 305.9,105.7 306.0,107.2 306.1,104.0 306.2,109.9 306.2,104.0 306.3,106.2 306.4,107.5 306.5,105.2 306.6,103.0 306.6,96.4 306.7,103.7 306.8,104.5 306.9,110.1 306.9,99.6 307.0,109.9 307.1,102.6 307.2,106.2 307.2,96.4 307.3,104.0 307.4,103.1 307.5,107.0 307.5,105.0 307.6,100.9 307.7,107.6 307.8,106.7 307.8,106.2 307.9,107.7 308.0,107.7 308.1,104.8 308.1,100.2 308.2,100.6 308.3,109.5 308.4,106.9 308.4,105.1 308.5,103.8 308.6,105.0 308.7,105.9 308.8,103.8 308.8,103.1 308.9,111.4 309.0,105.5 309.1,103.1 309.1,100.7 309.2,102.6 309.3,107.0 309.4,106.4 309.4,103.4 309.5,104.4 309.6,102.6 309.7,100.3 309.7,107.6 309.8,104.5 309.9,110.6 310.0,100.6 310.0,103.2 310.1,113.4 310.2,103.5 310.3,101.0 310.3,102.6 310.4,105.8 310.5,106.8 310.6,106.0 310.6,109.2 310.7,108.7 310.8,105.8 310.9,104.9 311.0,103.5 311.0,105.8 311.1,107.5 311.2,105.1 311.3,105.3 311.3,103.1 311.4,99.3 311.5,100.4 311.6,106.2 311.6,106.2 311.7,109.5 311.8,104.1 311.9,106.9 311.9,108.0 312.0,106.7 312.1,102.9 312.2,104.6 312.2,104.7 312.3,100.0 312.4,104.5 312.5,106.5 312.5,101.5 312.6,109.8 312.7,103.0 312.8,102.1 312.9,102.0 312.9,100.8 313.0,104.4 313.1,102.5 313.2,107.5 313.2,104.3 313.3,104.1 313.4,101.9 313.5,99.4 313.5,102.9 313.6,100.6 313.7,105.7 313.8,102.8 313.8,108.1 313.9,106.5 314.0,100.4 314.1,104.1 314.1,103.8 314.2,105.4 314.3,106.2 314.4,102.0 314.4,105.4 314.5,117.6 314.6,102.6 314.7,102.5 314.7,101.6 314.8,99.2 314.9,107.0" fill="none" stroke="#2644f5" stroke-width="0.7" stroke-linejoin="round"/>
<polyline points="73.0,328.4 73.1,330.7 73.1,333.1 73.2,337.8 73.3,320.3 73.3,333.6 73.4,345.7 73.5,322.3 73.5,332.2 73.6,344.7 73.7,342.4 73.7,340.7 73.8,336.6 73.9,348.7 73.9,330.2 74.0,326.9 74.1,336.0 74.1,328.2 74.2,356.0 74.3,334.7 74.4,343.7 74.4,330.0 74.5,329.9 74.6,340.1 74.6,338.5 74.7,330.8 74.8,329.3 74.8,345.0 74.9,317.5 75.0,348.9 75.0,339.1 75.1,327.1 75.2,339.8 75.2,343.4 75.3,339.0 75.4,337.2 75.4,320.9 75.5,359.0 75.6,338.4 75.6,330.5 75.7,331.2 75.8,337.6 75.8,328.6 75.9,326.6 76.0,332.4 76.0,332.9 76.1,340.9 76.2,332.0 76.2,323.7 76.3,322.8 76.4,326.8 76.4,339.6 76.5,328.1 76.6,330.5 76.6,334.9 76.7,340.8 76.8,321.3 76.9,328.5 76.9,343.5 77.0,333.2 77.1,341.7 77.1,332.7 77.2,331.7 77.3,322.9 77.3,333.7 77.4,323.3 77.5,323.7 77.5,338.9 77.6,321.6 77.7,349.3 77.7,330.0 77.8,325.1 77.9,340.6 77.9,321.1 78.0,329.8 78.1,319.9 78.1,341.7 78.2,343.2 78.3,331.1 78.3,317.9 78.4,317.4 78.5,324.5 78.5,335.0 78.6,328.8 78.7,330.0 78.7,333.4 78.8,338.2 78.9,317.7 78.9,343.4 79.0,337.7 79.1,332.9 79.1,344.1 79.2,298.1 79.3,325.0 79.4,307.9 79.4,320.1 79.5,316.4 79.6,329.0 79.6,323.0 79.7,325.3 79.8,331.6 79.8,309.3 79.9,311.0 80.0,320.3 80.0,307.4 80.1,321.9 80.2,308.7 80.2,312.2 80.3,332.2 80.4,305.0 80.4,296.8 80.5,322.6 80.6,310.5 80.6,305.8 80.7,323.5 80.8,316.6 80.8,293.7 80.9,310.9 81.0,329.2 81.0,301.3 81.1,305.0 81.2,312.7 81.2,299.2 81.3,295.5 81.4,296.8 81.4,304.2 81.5,305.5 81.6,323.8 81.6,292.9 81.7,303.2 81.8,294.1 81.9,307.1 81.9,302.9 82.0,288.1 82.1,294.5 82.1,298.1 82.2,303.1 82.3,301.4 82.3,301.9 82.4,295.8 82.5,300.2 82.5,295.3 82.6,302.7 82.7,290.6 82.7,286.8 82.8,293.5 82.9,287.6 82.9,293.0 83.0,298.0 83.1,278.8 83.1,291.1 83.2,287.0 83.3,304.2 83.3,291.5 83.4,282.6 83.5,285.7 83.5,297.3 83.6,305.9 83.7,298.9 83.7,285.7 83.8,295.1 83.9,274.2 83.9,294.3 84.0,262.0 84.1,289.1 84.1,276.6 84.2,289.5 84.3,275.0 84.4,272.1 84.4,297.6 84.5,275.0 84.6,292.6 84.6,279.5 84.7,291.8 84.8,283.8 84.8,275.0 84.9,286.2 85.0,274.6 85.0,277.6 85.1,293.1 85.2,293.4 85.2,278.2 85.3,288.5 85.4,281.2 85.4,289.5 85.5,273.3 85.6,288.4 85.6,277.2 85.7,271.2 85.8,286.8 85.8,286.0 85.9,268.9 86.0,262.1 86.0,279.8 86.1,278.6 86.2,275.6 86.2,280.5 86.3,276.3 86.4,275.1 86.4,283.1 86.5,290.2 86.6,297.8 86.7,276.7 86.7,273.4 86.8,280.4 86.9,260.4 86.9,278.9 87.0,277.2 87.1,278.1 87.1,269.0 87.2,251.3 87.3,265.9 87.3,283.0 87.4,290.9 87.5,277.1 87.5,278.3 87.6,264.7 87.7,282.1 87.7,275.2 87.8,274.6 87.9,280.1 87.9,290.6 88.0,276.2 88.1,280.9 88.1,291.5 88.2,242.0 88.3,272.9 88.3,277.2 88.4,264.0 88.5,277.8 88.5,284.6 88.6,270.9 88.7,272.8 88.7,271.6 88.8,274.4 88.9,285.7 88.9,280.2 89.0,246.0 89.1,274.7 89.2,277.8 89.2,281.7 89.3,280.0 89.4,272.3 89.4,270.4 89.5,268.0 89.6,283.1 89.6,286.1 89.7,292.7 89.8,252.0 89.8,283.0 89.9,282.5 90.0,299.4 90.0,274.1 90.1,271.7 90.2,259.1 90.2,264.4 90.3,250.0 90.4,284.0 90.4,265.8 90.5,270.3 90.6,289.6 90.6,284.7 90.7,269.4 90.8,291.5 90.8,280.7 90.9,277.3 91.0,281.9 91.0,280.4 91.1,291.4 91.2,286.8 91.2,274.5 91.3,277.1 91.4,311.9 91.4,277.3 91.5,274.6 91.6,262.7 91.7,289.9 91.7,282.9 91.8,281.1 91.9,275.5 91.9,278.1 92.0,282.5 92.1,303.6 92.1,283.7 92.2,297.0 92.3,278.6 92.3,283.6 92.4,283.8 92.5,284.9 92.5,296.5 92.6,292.0 92.7,291.3 92.7,282.0 92.8,279.5 92.9,295.1 92.9,285.7 93.0,259.9 93.1,275.8 93.1,282.8 93.2,305.0 93.3,289.5 93.3,299.0 93.4,286.4 93.5,272.7 93.5,285.6 93.6,299.4 93.7,286.4 93.7,282.5 93.8,284.0 93.9,275.8 93.9,282.7 94.0,333.0 94.1,293.3 94.2,282.8 94.2,276.6 94.3,269.8 94.4,279.1 94.4,279.5 94.5,293.1 94.6,276.9 94.6,290.3 94.7,284.0 94.8,294.7 94.8,286.0 94.9,268.6 95.0,265.4 95.0,287.3 95.1,298.5 95.2,293.0 95.2,284.4 95.3,299.2 95.4,284.1 95.4,277.9 95.5,267.2 95.6,288.3 95.6,282.5 95.7,281.9 95.8,307.1 95.8,291.1 95.9,276.5 96.0,289.8 96.0,300.7 96.1,279.0 96.2,291.3 96.2,273.4 96.3,275.3 96.4,285.6 96.4,286.1 96.5,276.5 96.6,273.1 96.7,284.9 96.7,290.4 96.8,276.5 96.9,291.3 96.9,294.2 97.0,287.7 97.1,293.3 97.1,293.1 97.2,292.0 97.3,286.7 97.3,286.5 97.4,286.9 97.5,293.7 97.5,279.7 97.6,296.0 97.7,275.5 97.7,299.4 97.8,288.1 97.9,305.0 97.9,277.5 98.0,266.2 98.1,267.9 98.1,278.4 98.2,282.3 98.3,284.1 98.3,285.7 98.4,281.4 98.5,279.6 98.5,285.9 98.6,267.4 98.7,276.5 98.7,281.9 98.8,275.4 98.9,289.8 98.9,274.0 99.0,276.7 99.1,284.8 99.2,273.4 99.2,268.2 99.3,264.9 99.4,269.3 99.4,269.1 99.5,281.6 99.6,286.8 99.6,279.0 99.7,281.4 99.8,284.9 99.8,283.1 99.9,294.9 100.0,280.6 100.0,288.3 100.1,269.0 100.2,274.1 100.2,280.3 100.3,300.1 100.4,270.4 100.4,284.5 100.5,271.4 100.6,291.9 100.6,271.4 100.7,293.2 100.8,281.3 100.8,274.2 100.9,286.4 101.0,272.3 101.0,280.0 101.1,266.5 101.2,275.0 101.2,280.6 101.3,280.3 101.4,247.1 101.4,287.5 101.5,262.6 101.6,259.7 101.7,275.5 101.7,286.4 101.8,281.4 101.9,282.0 101.9,276.9 102.0,276.8 102.1,276.7 102.1,268.3 102.2,273.6 102.3,286.7 102.3,272.2 102.4,267.0 102.5,274.8 102.5,263.0 102.6,331.0 102.7,277.0 102.7,278.8 102.8,271.0 102.9,278.9 102.9,268.9 103.0,285.3 103.1,285.1 103.1,279.1 103.2,266.2 103.3,260.3 103.3,260.4 103.4,283.2 103.5,279.1 103.5,285.7 103.6,276.9 103.7,279.8 103.7,274.9 103.8,268.4 103.9,274.2 103.9,280.2 104.0,258.5 104.1,265.0 104.2,264.7 104.2,259.3 104.3,265.4 104.4,267.3 104.4,273.3 104.5,272.3 104.6,281.6 104.6,269.6 104.7,278.3 104.8,272.9 104.8,284.3 104.9,271.1 105.0,265.9 105.0,269.0 105.1,263.7 105.2,265.5 105.2,274.5 105.3,275.3 105.4,263.8 105.4,266.8 105.5,270.1 105.6,283.7 105.6,274.6 105.7,256.7 105.8,282.2 105.8,276.4 105.9,267.9 106.0,253.8 106.0,271.2 106.1,282.2 106.2,275.4 106.2,277.5 106.3,283.5 106.4,268.9 106.4,261.2 106.5,276.1 106.6,272.5 106.7,270.7 106.7,272.8 106.8,259.4 106.9,272.2 106.9,269.9 107.0,274.7 107.1,271.9 107.1,269.6 107.2,277.9 107.3,281.4 107.3,271.1 107.4,246.2 107.5,266.2 107.5,281.3 107.6,257.5 107.7,271.0 107.7,272.8 107.8,274.3 107.9,254.0 107.9,271.9 108.0,244.8 108.1,265.4 108.1,261.5 108.2,252.1 108.3,283.1 108.3,265.7 108.4,255.1 108.5,259.2 108.5,267.4 108.6,274.4 108.7,269.1 108.7,259.0 108.8,280.4 108.9,271.8 108.9,282.2 109.0,280.5 109.1,271.6 109.2,281.0 109.2,268.9 109.3,278.5 109.4,256.5 109.4,254.6 109.5,261.0 109.6,274.1 109.6,270.8 109.7,263.8 109.8,264.7 109.8,265.2 109.9,271.1 110.0,279.3 110.0,278.6 110.1,269.4 110.2,270.9 110.2,275.7 110.3,262.0 110.4,270.8 110.4,275.5 110.5,274.9 110.6,267.4 110.6,264.8 110.7,275.7 110.8,283.7 110.8,272.0 110.9,261.8 111.0,269.2 111.0,286.0 111.1,284.8 111.2,269.6 111.2,264.9 111.3,279.6 111.4,270.4 111.4,271.7 111.5,274.8 111.6,270.1 111.7,274.1 111.7,279.0 111.8,271.2 111.9,267.3 111.9,274.5 112.0,251.2 112.1,268.2 112.1,286.0 112.2,277.1 112.3,262.1 112.3,280.0 112.4,269.8 112.5,274.3 112.5,281.6 112.6,272.2 112.7,265.9 112.7,273.7 112.8,273.8 112.9,287.4 112.9,270.1 113.0,278.1 113.1,281.8 113.1,279.7 113.2,268.9 113.3,261.1 113.3,279.6 113.4,284.9 113.5,276.6 113.5,280.7 113.6,272.5 113.7,278.0 113.7,282.5 113.8,272.0 113.9,282.1 114.0,271.9 114.0,258.3 114.1,276.1 114.2,271.5 114.2,277.0 114.3,277.9 114.4,271.4 114.4,276.0 114.5,269.1 114.6,279.4 114.6,265.9 114.7,261.9 114.8,281.0 114.8,282.9 114.9,270.9 115.0,248.4 115.0,279.7 115.1,270.7 115.2,270.5 115.2,257.1 115.3,264.9 115.4,263.1 115.4,271.6 115.5,284.1 115.6,281.7 115.6,264.3 115.7,260.6 115.8,282.6 115.8,266.4 115.9,273.5 116.0,275.0 116.0,259.0 116.1,279.6 116.2,263.0 116.2,262.7 116.3,275.0 116.4,270.3 116.5,264.1 116.5,271.0 116.6,263.9 116.7,260.1 116.7,281.2 116.8,282.0 116.9,256.3 116.9,270.7 117.0,272.7 117.1,248.7 117.1,267.3 117.2,281.4 117.3,263.1 117.3,282.4 117.4,287.5 117.5,269.8 117.5,264.6 117.6,271.3 117.7,258.9 117.7,281.9 117.8,275.8 117.9,259.5 117.9,264.9 118.0,268.8 118.1,281.0 118.1,278.7 118.2,266.8 118.3,273.5 118.3,270.4 118.4,275.9 118.5,269.6 118.5,289.7 118.6,275.8 118.7,269.7 118.7,263.1 118.8,273.3 118.9,278.0 119.0,279.5 119.0,286.0 119.1,264.7 119.2,279.4 119.2,280.1 119.3,279.6 119.4,278.7 119.4,276.0 119.5,271.5 119.6,270.3 119.6,271.4 119.7,258.3 119.8,279.9 119.8,269.9 119.9,275.9 120.0,274.1 120.0,281.0 120.1,276.4 120.2,275.8 120.2,277.9 120.3,283.7 120.4,272.6 120.4,282.2 120.5,277.1 120.6,276.2 120.6,282.9 120.7,280.3 120.8,278.8 120.8,287.2 120.9,280.2 121.0,283.0 121.0,274.8 121.1,290.9 121.2,273.7 121.2,270.3 121.3,270.3 121.4,295.4 121.5,280.2 121.5,292.8 121.6,298.3 121.7,280.1 121.7,281.5 121.8,285.4 121.9,271.6 121.9,264.0 122.0,295.0 122.1,272.6 122.1,278.3 122.2,292.5 122.3,280.6 122.3,288.4 122.4,283.1 122.5,269.5 122.5,273.9 122.6,281.5 122.7,272.7 122.7,288.9 122.8,283.8 122.9,280.4 122.9,285.2 123.0,277.6 123.1,273.4 123.1,288.7 123.2,267.1 123.3,274.6 123.3,284.6 123.4,270.3 123.5,293.4 123.5,255.7 123.6,292.2 123.7,289.5 123.7,277.8 123.8,284.1 123.9,277.2 124.0,299.2 124.0,283.0 124.1,287.8 124.2,286.5 124.2,272.2 124.3,267.8 124.4,285.6 124.4,277.7 124.5,289.9 124.6,283.6 124.6,288.5 124.7,283.7 124.8,285.6 124.8,289.7 124.9,287.7 125.0,302.6 125.0,299.2 125.1,277.6 125.2,283.4 125.2,281.1 125.3,280.7 125.4,290.8 125.4,290.1 125.5,271.3 125.6,280.1 125.6,281.4 125.7,270.5 125.8,291.4 125.8,287.1 125.9,290.4 126.0,274.3 126.0,281.1 126.1,288.4 126.2,287.1 126.2,282.6 126.3,291.0 126.4,281.2 126.5,295.1 126.5,295.0 126.6,282.3 126.7,276.6 126.7,289.8 126.8,296.2 126.9,287.1 126.9,303.0 127.0,293.4 127.1,300.2 127.1,286.4 127.2,281.6 127.3,288.0 127.3,289.3 127.4,285.7 127.5,283.4 127.5,292.2 127.6,296.6 127.7,294.0 127.7,311.1 127.8,287.5 127.9,318.3 127.9,289.2 128.0,287.0 128.1,296.8 128.1,282.8 128.2,279.1 128.3,273.2 128.3,290.9 128.4,282.3 128.5,292.4 128.5,296.5 128.6,291.0 128.7,277.5 128.7,285.2 128.8,282.6 128.9,292.3 129.0,288.8 129.0,303.1 129.1,275.9 129.2,281.2 129.2,301.1 129.3,283.7 129.4,288.1 129.4,286.2 129.5,290.2 129.6,308.2 129.6,300.0 129.7,291.6 129.8,307.5 129.8,283.4 129.9,301.0 130.0,307.9 130.0,281.5 130.1,284.1 130.2,283.8 130.2,288.7 130.3,298.4 130.4,304.7 130.4,301.4 130.5,303.0 130.6,294.7 130.6,287.4 130.7,284.7 130.8,291.9 130.8,282.4 130.9,281.9 131.0,296.3 131.0,284.5 131.1,289.0 131.2,308.7 131.2,295.6 131.3,295.9 131.4,289.3 131.5,283.6 131.5,290.6 131.6,288.3 131.7,290.2 131.7,286.3 131.8,294.8 131.9,293.8 131.9,284.0 132.0,283.8 132.1,290.5 132.1,307.0 132.2,283.4 132.3,294.7 132.3,300.8 132.4,300.6 132.5,287.3 132.5,299.4 132.6,293.9 132.7,292.5 132.7,294.8 132.8,278.0 132.9,288.8 132.9,280.3 133.0,300.4 133.1,297.2 133.1,308.9 133.2,281.3 133.3,280.7 133.3,292.1 133.4,295.6 133.5,301.5 133.5,285.1 133.6,279.3 133.7,312.3 133.7,323.0 133.8,287.3 133.9,313.8 134.0,301.7 134.0,300.1 134.1,307.0 134.2,269.9 134.2,300.8 134.3,291.6 134.4,308.8 134.4,296.7 134.5,301.2 134.6,280.7 134.6,322.5 134.7,296.2 134.8,292.1 134.8,299.1 134.9,300.9 135.0,292.4 135.0,301.8 135.1,309.2 135.2,301.1 135.2,295.6 135.3,299.8 135.4,292.4 135.4,299.6 135.5,305.0 135.6,295.5 135.6,308.7 135.7,312.6 135.8,296.7 135.8,292.6 135.9,295.8 136.0,304.7 136.0,302.9 136.1,294.7 136.2,278.5 136.2,304.6 136.3,304.1 136.4,279.8 136.5,296.1 136.5,319.9 136.6,299.2 136.7,296.2 136.7,307.8 136.8,316.6 136.9,309.8 136.9,302.0 137.0,307.4 137.1,301.0 137.1,311.7 137.2,306.3 137.3,302.1 137.3,309.2 137.4,307.3 137.5,318.2 137.5,306.5 137.6,311.2 137.7,319.6 137.7,310.9 137.8,309.9 137.9,324.9 137.9,287.8 138.0,299.6 138.1,303.4 138.1,319.4 138.2,321.6 138.3,312.0 138.3,308.5 138.4,298.5 138.5,314.9 138.5,312.6 138.6,311.4 138.7,319.6 138.7,325.1 138.8,304.0 138.9,318.9 139.0,300.6 139.0,314.2 139.1,302.3 139.2,313.5 139.2,328.9 139.3,308.8 139.4,325.7 139.4,325.6 139.5,324.6 139.6,308.6 139.6,303.1 139.7,308.0 139.8,320.7 139.8,311.2 139.9,308.7 140.0,306.0 140.0,341.9 140.1,300.0 140.2,323.8 140.2,313.2 140.3,327.7 140.4,328.8 140.4,317.9 140.5,318.6 140.6,305.4 140.6,324.5 140.7,319.0 140.8,326.2 140.8,324.4 140.9,315.6 141.0,329.2 141.0,324.9 141.1,325.4 141.2,318.3 141.3,328.0 141.3,318.9 141.4,316.6 141.5,327.1 141.5,304.4 141.6,328.8 141.7,328.6 141.7,324.7 141.8,331.0 141.9,312.2 141.9,327.4 142.0,318.2 142.1,318.5 142.1,318.3 142.2,313.7 142.3,322.3 142.3,311.4 142.4,326.1 142.5,340.4 142.5,337.2 142.6,330.2 142.7,323.3 142.7,325.5 142.8,326.7 142.9,337.9 142.9,319.5 143.0,323.5 143.1,310.5 143.1,335.9 143.2,317.8 143.3,317.2 143.3,312.0 143.4,320.0 143.5,325.9 143.5,325.5 143.6,317.5 143.7,324.5 143.8,338.5 143.8,316.6 143.9,323.0 144.0,340.5 144.0,320.7 144.1,334.9 144.2,334.8 144.2,323.3 144.3,329.2 144.4,335.3 144.4,324.9 144.5,324.1 144.6,317.1 144.6,331.1 144.7,319.0 144.8,336.1 144.8,342.2 144.9,340.7 145.0,348.9 145.0,328.9 145.1,342.0 145.2,341.5 145.2,329.2 145.3,327.7 145.4,320.5 145.4,327.7 145.5,331.9 145.6,330.4 145.6,337.7 145.7,332.6 145.8,325.3 145.8,342.6 145.9,318.5 146.0,341.5 146.0,333.7 146.1,335.9 146.2,339.8 146.3,335.2 146.3,347.4 146.4,328.9 146.5,336.4 146.5,334.7 146.6,307.7 146.7,316.5 146.7,336.0 146.8,327.4 146.9,332.5 146.9,322.5 147.0,324.3 147.1,335.2 147.1,331.4 147.2,345.5 147.3,347.1 147.3,333.4 147.4,339.4 147.5,338.1 147.5,322.2 147.6,334.3 147.7,313.1 147.7,310.9 147.8,330.9 147.9,319.8 147.9,337.4 148.0,337.0 148.1,325.0 148.1,330.7 148.2,315.1 148.3,314.8 148.3,325.9 148.4,328.3 148.5,340.0 148.5,342.9 148.6,327.5 148.7,345.1 148.8,333.7 148.8,331.3 148.9,342.4 149.0,325.3 149.0,326.6 149.1,322.6 149.2,324.3 149.2,312.5 149.3,351.5 149.4,336.5 149.4,346.2 149.5,317.7 149.6,313.1 149.6,342.8 149.7,329.1 149.8,348.7 149.8,327.5 149.9,319.6 150.0,324.6 150.0,347.6 150.1,320.9 150.2,341.2 150.2,332.2 150.3,336.1 150.4,338.8 150.4,321.1 150.5,324.2 150.6,333.6 150.6,352.7 150.7,333.1 150.8,338.3 150.8,331.1 150.9,332.4 151.0,322.2 151.0,328.7 151.1,348.7 151.2,330.6 151.3,331.8 151.3,334.6 151.4,320.7 151.5,323.3 151.5,327.5 151.6,329.3 151.7,339.3 151.7,307.1 151.8,317.8 151.9,316.3 151.9,300.8 152.0,321.6 152.1,308.9 152.1,314.8 152.2,314.2 152.3,307.0 152.3,292.3 152.4,315.6 152.5,329.1 152.5,321.4 152.6,315.7 152.7,313.7 152.7,317.5 152.8,328.7 152.9,322.1 152.9,311.2 153.0,315.3 153.1,318.5 153.1,346.7 153.2,313.2 153.3,320.4 153.3,322.0 153.4,310.0 153.5,329.4 153.5,310.8 153.6,311.3 153.7,299.9 153.8,310.6 153.8,305.2 153.9,319.4 154.0,308.9 154.0,298.9 154.1,304.7 154.2,320.9 154.2,302.2 154.3,304.7 154.4,315.2 154.4,309.3 154.5,294.5 154.6,293.2 154.6,297.3 154.7,307.4 154.8,293.7 154.8,303.4 154.9,301.7 155.0,303.3 155.0,286.5 155.1,289.8 155.2,303.6 155.2,308.9 155.3,297.5 155.4,300.0 155.4,310.8 155.5,291.3 155.6,297.4 155.6,295.1 155.7,312.4 155.8,292.4 155.8,289.6 155.9,304.3 156.0,320.7 156.0,303.3 156.1,312.0 156.2,304.7 156.3,298.7 156.3,292.5 156.4,308.8 156.5,278.5 156.5,284.4 156.6,289.1 156.7,293.1 156.7,286.2 156.8,292.3 156.9,288.6 156.9,288.1 157.0,278.9 157.1,303.6 157.1,281.9 157.2,280.4 157.3,296.2 157.3,288.4 157.4,288.7 157.5,304.4 157.5,282.7 157.6,278.2 157.7,281.1 157.7,282.9 157.8,291.5 157.9,302.8 157.9,298.8 158.0,285.5 158.1,292.8 158.1,281.4 158.2,284.5 158.3,289.7 158.3,279.0 158.4,275.5 158.5,271.6 158.5,275.4 158.6,279.8 158.7,289.3 158.8,301.2 158.8,275.5 158.9,288.0 159.0,279.4 159.0,294.1 159.1,283.0 159.2,269.4 159.2,278.1 159.3,285.2 159.4,285.4 159.4,300.6 159.5,290.9 159.6,278.7 159.6,293.7 159.7,285.9 159.8,292.5 159.8,284.1 159.9,281.4 160.0,289.1 160.0,292.3 160.1,280.9 160.2,292.4 160.2,288.9 160.3,291.0 160.4,299.9 160.4,298.7 160.5,294.9 160.6,305.5 160.6,286.3 160.7,269.7 160.8,283.4 160.8,291.5 160.9,287.8 161.0,316.9 161.0,271.6 161.1,287.9 161.2,301.4 161.3,292.7 161.3,300.6 161.4,292.4 161.5,279.8 161.5,279.8 161.6,291.6 161.7,279.1 161.7,303.5 161.8,282.3 161.9,274.1 161.9,286.5 162.0,293.3 162.1,288.5 162.1,287.6 162.2,287.4 162.3,274.1 162.3,289.8 162.4,295.2 162.5,280.3 162.5,292.9 162.6,274.9 162.7,290.7 162.7,280.1 162.8,295.5 162.9,276.5 162.9,278.9 163.0,286.7 163.1,289.0 163.1,287.0 163.2,295.9 163.3,290.0 163.3,287.4 163.4,303.7 163.5,298.4 163.5,292.8 163.6,293.6 163.7,274.5 163.8,279.1 163.8,307.5 163.9,276.9 164.0,298.0 164.0,293.8 164.1,287.1 164.2,311.9 164.2,288.4 164.3,303.1 164.4,284.7 164.4,292.5 164.5,293.1 164.6,292.2 164.6,299.7 164.7,263.6 164.8,279.4 164.8,292.1 164.9,275.8 165.0,301.9 165.0,298.5 165.1,295.4 165.2,287.8 165.2,293.6 165.3,271.3 165.4,285.2 165.4,291.4 165.5,270.5 165.6,291.4 165.6,286.6 165.7,300.5 165.8,285.1 165.8,301.9 165.9,289.7 166.0,300.5 166.0,298.0 166.1,291.4 166.2,272.8 166.3,287.6 166.3,293.3 166.4,293.4 166.5,286.8 166.5,309.2 166.6,290.1 166.7,303.3 166.7,276.3 166.8,295.0 166.9,288.6 166.9,300.5 167.0,312.3 167.1,283.8 167.1,293.2 167.2,290.7 167.3,288.8 167.3,290.8 167.4,291.3 167.5,285.8 167.5,290.7 167.6,288.7 167.7,301.3 167.7,302.0 167.8,297.3 167.9,261.1 167.9,292.1 168.0,300.1 168.1,274.8 168.1,293.7 168.2,284.1 168.3,270.5 168.3,287.2 168.4,293.1 168.5,273.3 168.6,292.7 168.6,287.8 168.7,300.0 168.8,302.6 168.8,299.8 168.9,295.5 169.0,293.5 169.0,282.8 169.1,306.1 169.2,290.7 169.2,297.3 169.3,303.9 169.4,264.2 169.4,292.6 169.5,298.9 169.6,298.7 169.6,305.8 169.7,288.8 169.8,307.0 169.8,303.3 169.9,281.6 170.0,302.1 170.0,276.3 170.1,290.4 170.2,290.2 170.2,288.6 170.3,313.2 170.4,288.9 170.4,276.3 170.5,298.2 170.6,288.9 170.6,280.6 170.7,284.4 170.8,321.2 170.8,285.8 170.9,291.4 171.0,293.6 171.1,281.6 171.1,297.8 171.2,295.5 171.3,280.5 171.3,283.6 171.4,288.3 171.5,301.0 171.5,298.2 171.6,275.2 171.7,279.5 171.7,283.4 171.8,287.0 171.9,287.1 171.9,275.1 172.0,303.5 172.1,279.3 172.1,301.5 172.2,294.5 172.3,319.5 172.3,280.0 172.4,292.6 172.5,289.2 172.5,271.5 172.6,284.5 172.7,289.5 172.7,290.5 172.8,288.4 172.9,297.7 172.9,292.2 173.0,288.9 173.1,301.3 173.1,290.2 173.2,302.3 173.3,303.3 173.3,292.8 173.4,284.2 173.5,295.1 173.6,302.7 173.6,298.0 173.7,288.9 173.8,312.0 173.8,289.7 173.9,285.3 174.0,285.3 174.0,286.6 174.1,287.7 174.2,280.9 174.2,293.5 174.3,292.6 174.4,280.8 174.4,303.1 174.5,302.4 174.6,288.4 174.6,291.0 174.7,302.7 174.8,293.1 174.8,297.8 174.9,302.1 175.0,306.6 175.0,301.8 175.1,290.7 175.2,289.5 175.2,307.6 175.3,292.8 175.4,305.9 175.4,297.1 175.5,286.6 175.6,294.8 175.6,288.3 175.7,293.0 175.8,287.1 175.8,306.3 175.9,273.5 176.0,283.5 176.1,297.5 176.1,273.7 176.2,296.2 176.3,280.9 176.3,294.4 176.4,314.5 176.5,292.5 176.5,291.7 176.6,290.5 176.7,308.6 176.7,300.1 176.8,283.4 176.9,293.0 176.9,279.4 177.0,283.4 177.1,289.5 177.1,294.0 177.2,310.2 177.3,302.1 177.3,284.6 177.4,276.2 177.5,301.5 177.5,290.4 177.6,313.4 177.7,278.6 177.7,292.9 177.8,287.3 177.9,286.8 177.9,291.4 178.0,289.3 178.1,270.6 178.1,302.0 178.2,296.2 178.3,298.4 178.3,295.2 178.4,277.2 178.5,286.3 178.6,294.8 178.6,293.5 178.7,306.8 178.8,282.4 178.8,290.6 178.9,292.0 179.0,293.6 179.0,302.3 179.1,284.0 179.2,299.4 179.2,272.6 179.3,278.3 179.4,279.2 179.4,289.5 179.5,296.1 179.6,293.4 179.6,295.7 179.7,261.1 179.8,279.9 179.8,284.8 179.9,276.0 180.0,297.2 180.0,286.6 180.1,301.3 180.2,289.7 180.2,280.1 180.3,286.6 180.4,299.1 180.4,288.3 180.5,291.2 180.6,277.1 180.6,287.3 180.7,296.7 180.8,289.6 180.8,292.8 180.9,293.3 181.0,284.2 181.1,292.1 181.1,290.9 181.2,286.0 181.3,307.1 181.3,305.6 181.4,303.2 181.5,291.4 181.5,285.7 181.6,298.9 181.7,286.4 181.7,299.0 181.8,289.1 181.9,286.4 181.9,280.3 182.0,295.2 182.1,297.2 182.1,297.2 182.2,298.6 182.3,278.0 182.3,293.6 182.4,300.0 182.5,301.2 182.5,278.0 182.6,294.1 182.7,300.8 182.7,264.7 182.8,283.8 182.9,299.4 182.9,293.6 183.0,303.5 183.1,290.0 183.1,292.1 183.2,290.8 183.3,296.5 183.3,310.5 183.4,289.8 183.5,279.4 183.6,288.4 183.6,283.7 183.7,290.0 183.8,297.3 183.8,293.7 183.9,295.0 184.0,293.8 184.0,289.0 184.1,284.9 184.2,293.5 184.2,275.4 184.3,292.1 184.4,285.7 184.4,283.7 184.5,290.4 184.6,290.7 184.6,280.6 184.7,290.1 184.8,295.0 184.8,284.0 184.9,296.0 185.0,277.2 185.0,282.1 185.1,278.5 185.2,287.3 185.2,285.1 185.3,298.7 185.4,295.9 185.4,289.6 185.5,293.0 185.6,290.4 185.6,285.8 185.7,292.8 185.8,287.6 185.8,273.0 185.9,286.8 186.0,295.6 186.1,310.7 186.1,291.1 186.2,286.5 186.3,278.7 186.3,283.5 186.4,280.2 186.5,278.7 186.5,295.7 186.6,288.1 186.7,282.2 186.7,296.3 186.8,299.0 186.9,279.5 186.9,297.9 187.0,282.1 187.1,318.8 187.1,295.1 187.2,279.3 187.3,302.3 187.3,284.1 187.4,295.9 187.5,306.4 187.5,300.0 187.6,278.4 187.7,273.1 187.7,295.3 187.8,293.9 187.9,288.6 187.9,290.3 188.0,304.5 188.1,285.8 188.1,301.2 188.2,283.0 188.3,278.9 188.3,278.5 188.4,301.1 188.5,291.7 188.6,279.5 188.6,291.9 188.7,287.0 188.8,286.5 188.8,286.0 188.9,278.6 189.0,284.9 189.0,298.8 189.1,295.5 189.2,298.6 189.2,300.1 189.3,294.3 189.4,285.1 189.4,298.1 189.5,278.7 189.6,285.6 189.6,300.9 189.7,276.4 189.8,284.5 189.8,280.2 189.9,294.5 190.0,282.2 190.0,292.8 190.1,291.3 190.2,307.5 190.2,279.4 190.3,283.7 190.4,305.9 190.4,290.6 190.5,300.9 190.6,287.8 190.6,289.6 190.7,298.5 190.8,302.1 190.8,278.9 190.9,295.3 191.0,291.6 191.1,282.0 191.1,314.5 191.2,286.5 191.3,291.0 191.3,292.9 191.4,275.6 191.5,286.1 191.5,292.3 191.6,284.8 191.7,298.0 191.7,300.7 191.8,288.5 191.9,294.8 191.9,284.2 192.0,282.5 192.1,298.0 192.1,290.4 192.2,285.9 192.3,293.4 192.3,287.7 192.4,292.4 192.5,297.6 192.5,290.5 192.6,286.8 192.7,296.0 192.7,300.5 192.8,292.7 192.9,290.5 192.9,290.6 193.0,284.6 193.1,295.5 193.1,286.6 193.2,276.6 193.3,293.1 193.3,301.8 193.4,299.7 193.5,281.2 193.6,302.6 193.6,297.7 193.7,292.1 193.8,299.6 193.8,294.1 193.9,307.5 194.0,285.3 194.0,321.8 194.1,287.5 194.2,288.6 194.2,298.3 194.3,274.3 194.4,298.2 194.4,301.5 194.5,276.4 194.6,285.8 194.6,300.3 194.7,271.2 194.8,281.0 194.8,306.7 194.9,289.3 195.0,305.9 195.0,301.2 195.1,279.2 195.2,285.9 195.2,301.5 195.3,296.6 195.4,287.5 195.4,285.8 195.5,288.1 195.6,277.9 195.6,288.2 195.7,275.0 195.8,284.7 195.9,290.9 195.9,274.5 196.0,291.6 196.1,287.3 196.1,296.3 196.2,302.6 196.3,281.6 196.3,295.7 196.4,272.5 196.5,301.6 196.5,290.6 196.6,287.1 196.7,298.9 196.7,290.4 196.8,283.1 196.9,294.0 196.9,292.7 197.0,286.3 197.1,277.4 197.1,286.6 197.2,294.4 197.3,293.3 197.3,278.1 197.4,281.5 197.5,298.3 197.5,275.2 197.6,297.8 197.7,296.1 197.7,261.5 197.8,276.8 197.9,293.1 197.9,286.1 198.0,291.6 198.1,282.6 198.1,298.8 198.2,295.9 198.3,291.2 198.4,279.4 198.4,293.8 198.5,287.4 198.6,292.9 198.6,292.8 198.7,294.4 198.8,289.1 198.8,287.2 198.9,299.9 199.0,298.0 199.0,291.4 199.1,294.7 199.2,308.8 199.2,300.9 199.3,287.3 199.4,302.7 199.4,287.3 199.5,303.0 199.6,297.0 199.6,295.9 199.7,296.8 199.8,294.6 199.8,280.5 199.9,278.2 200.0,284.0 200.0,285.2 200.1,289.7 200.2,288.3 200.2,292.3 200.3,275.1 200.4,289.9 200.4,282.7 200.5,282.8 200.6,282.6 200.6,288.1 200.7,280.6 200.8,293.9 200.9,293.8 200.9,282.1 201.0,282.0 201.1,287.7 201.1,293.5 201.2,292.7 201.3,281.8 201.3,286.8 201.4,277.5 201.5,284.0 201.5,278.7 201.6,292.6 201.7,286.4 201.7,282.3 201.8,275.2 201.9,284.7 201.9,285.3 202.0,297.9 202.1,289.2 202.1,281.1 202.2,281.3 202.3,292.6 202.3,298.1 202.4,298.9 202.5,302.1 202.5,272.9 202.6,299.6 202.7,295.1 202.7,277.5 202.8,293.7 202.9,287.3 202.9,285.2 203.0,284.5 203.1,298.2 203.1,291.4 203.2,288.4 203.3,290.6 203.4,290.0 203.4,275.1 203.5,288.6 203.6,282.5 203.6,281.2 203.7,287.9 203.8,295.8 203.8,287.0 203.9,290.9 204.0,301.8 204.0,294.9 204.1,294.1 204.2,283.5 204.2,296.8 204.3,286.8 204.4,302.1 204.4,305.5 204.5,283.7 204.6,291.4 204.6,291.0 204.7,302.2 204.8,279.0 204.8,299.2 204.9,298.9 205.0,290.7 205.0,295.2 205.1,290.0 205.2,292.9 205.2,289.1 205.3,278.9 205.4,285.4 205.4,285.6 205.5,294.3 205.6,286.5 205.6,294.0 205.7,298.6 205.8,286.6 205.9,294.2 205.9,279.4 206.0,291.1 206.1,288.4 206.1,298.3 206.2,319.5 206.3,286.8 206.3,292.0 206.4,281.9 206.5,285.2 206.5,290.7 206.6,280.5 206.7,288.0 206.7,314.2 206.8,283.0 206.9,297.0 206.9,300.4 207.0,301.4 207.1,295.4 207.1,292.5 207.2,280.6 207.3,298.2 207.3,277.1 207.4,301.9 207.5,290.8 207.5,298.4 207.6,298.6 207.7,293.6 207.7,280.1 207.8,275.7 207.9,297.3 207.9,284.3 208.0,277.1 208.1,284.9 208.1,289.4 208.2,302.4 208.3,280.5 208.4,293.9 208.4,291.4 208.5,286.7 208.6,282.0 208.6,302.0 208.7,288.7 208.8,292.2 208.8,287.2 208.9,304.9 209.0,292.2 209.0,286.4 209.1,296.9 209.2,290.8 209.2,281.0 209.3,277.3 209.4,290.8 209.4,284.7 209.5,276.1 209.6,271.8 209.6,289.8 209.7,289.2 209.8,293.6 209.8,309.3 209.9,272.0 210.0,288.2 210.0,284.5 210.1,280.3 210.2,287.3 210.2,282.9 210.3,282.1 210.4,284.3 210.4,280.3 210.5,280.2 210.6,286.3 210.6,287.8 210.7,293.5 210.8,285.8 210.9,280.6 210.9,277.2 211.0,293.7 211.1,281.9 211.1,290.6 211.2,297.8 211.3,294.4 211.3,281.7 211.4,285.7 211.5,279.5 211.5,285.4 211.6,298.4 211.7,302.8 211.7,289.3 211.8,297.7 211.9,271.9 211.9,306.1 212.0,298.4 212.1,282.6 212.1,282.0 212.2,281.0 212.3,294.7 212.3,286.4 212.4,307.4 212.5,289.6 212.5,270.4 212.6,277.4 212.7,288.7 212.7,304.0 212.8,296.7 212.9,283.3 212.9,283.8 213.0,274.8 213.1,296.5 213.1,278.2 213.2,303.4 213.3,292.5 213.4,291.8 213.4,297.6 213.5,306.1 213.6,281.8 213.6,304.3 213.7,278.4 213.8,285.7 213.8,287.1 213.9,288.1 214.0,298.6 214.0,287.1 214.1,281.8 214.2,281.2 214.2,286.2 214.3,293.3 214.4,280.1 214.4,282.5 214.5,283.0 214.6,292.7 214.6,291.4 214.7,304.2 214.8,279.0 214.8,282.6 214.9,291.0 215.0,299.3 215.0,290.3 215.1,284.0 215.2,307.4 215.2,296.1 215.3,269.2 215.4,294.3 215.4,298.5 215.5,298.1 215.6,284.3 215.6,275.2 215.7,289.1 215.8,293.5 215.9,292.8 215.9,290.7 216.0,282.1 216.1,288.9 216.1,287.5 216.2,283.2 216.3,302.1 216.3,284.8 216.4,263.1 216.5,302.3 216.5,283.4 216.6,283.2 216.7,285.7 216.7,275.4 216.8,291.1 216.9,282.7 216.9,287.7 217.0,294.8 217.1,293.9 217.1,281.1 217.2,271.4 217.3,291.0 217.3,293.7 217.4,291.4 217.5,284.1 217.5,280.3 217.6,277.7 217.7,294.3 217.7,289.9 217.8,293.4 217.9,284.5 217.9,273.6 218.0,283.8 218.1,280.0 218.1,291.2 218.2,293.2 218.3,294.5 218.4,293.2 218.4,299.0 218.5,270.7 218.6,291.1 218.6,290.8 218.7,291.8 218.8,286.5 218.8,291.5 218.9,287.1 219.0,291.4 219.0,285.8 219.1,293.6 219.2,301.5 219.2,266.9 219.3,303.9 219.4,298.2 219.4,288.0 219.5,290.6 219.6,279.0 219.6,286.3 219.7,282.9 219.8,288.4 219.8,271.2 219.9,280.1 220.0,262.6 220.0,282.1 220.1,278.0 220.2,272.9 220.2,273.1 220.3,282.3 220.4,277.3 220.4,280.0 220.5,277.0 220.6,276.5 220.6,275.8 220.7,290.4 220.8,273.8 220.9,281.4 220.9,287.4 221.0,291.7 221.1,269.0 221.1,278.0 221.2,272.7 221.3,282.3 221.3,282.1 221.4,306.0 221.5,271.9 221.5,273.1 221.6,250.1 221.7,261.5 221.7,283.5 221.8,271.3 221.9,273.7 221.9,280.1 222.0,272.4 222.1,294.1 222.1,278.8 222.2,273.9 222.3,287.0 222.3,278.2 222.4,269.8 222.5,274.4 222.5,273.0 222.6,277.4 222.7,279.3 222.7,279.5 222.8,263.6 222.9,276.3 222.9,291.5 223.0,281.1 223.1,286.2 223.2,276.6 223.2,271.2 223.3,276.3 223.4,278.4 223.4,272.6 223.5,246.0 223.6,272.2 223.6,289.1 223.7,289.9 223.8,288.9 223.8,273.7 223.9,273.7 224.0,291.2 224.0,283.3 224.1,267.5 224.2,267.9 224.2,268.8 224.3,271.0 224.4,255.7 224.4,269.1 224.5,270.4 224.6,280.5 224.6,273.0 224.7,261.0 224.8,278.7 224.8,283.5 224.9,290.2 225.0,283.8 225.0,283.1 225.1,286.2 225.2,282.5 225.2,259.1 225.3,291.1 225.4,269.4 225.4,285.1 225.5,264.2 225.6,254.3 225.7,282.4 225.7,275.0 225.8,267.6 225.9,277.1 225.9,282.6 226.0,276.9 226.1,256.1 226.1,278.8 226.2,272.0 226.3,285.0 226.3,302.6 226.4,279.6 226.5,277.2 226.5,285.3 226.6,271.7 226.7,268.2 226.7,280.4 226.8,286.9 226.9,269.1 226.9,263.3 227.0,266.2 227.1,279.9 227.1,276.4 227.2,287.6 227.3,280.3 227.3,270.2 227.4,274.0 227.5,269.0 227.5,286.5 227.6,278.8 227.7,277.9 227.7,262.7 227.8,264.0 227.9,274.3 227.9,268.7 228.0,279.9 228.1,276.8 228.2,283.6 228.2,239.0 228.3,292.1 228.4,279.2 228.4,290.4 228.5,284.3 228.6,278.8 228.6,271.9 228.7,278.5 228.8,272.7 228.8,294.5 228.9,273.4 229.0,265.3 229.0,291.7 229.1,274.4 229.2,280.8 229.2,297.6 229.3,270.9 229.4,281.0 229.4,287.0 229.5,279.8 229.6,300.7 229.6,304.1 229.7,283.0 229.8,274.5 229.8,265.5 229.9,272.1 230.0,275.7 230.0,288.7 230.1,281.1 230.2,274.1 230.2,295.6 230.3,290.7 230.4,289.9 230.4,288.7 230.5,282.0 230.6,277.3 230.7,273.1 230.7,279.8 230.8,282.4 230.9,284.4 230.9,282.9 231.0,290.0 231.1,294.0 231.1,281.4 231.2,287.4 231.3,292.2 231.3,280.0 231.4,280.4 231.5,265.2 231.5,280.2 231.6,263.5 231.7,311.1 231.7,296.5 231.8,288.1 231.9,270.6 231.9,263.7 232.0,270.0 232.1,284.3 232.1,298.4 232.2,280.0 232.3,263.8 232.3,303.3 232.4,290.9 232.5,284.6 232.5,276.2 232.6,280.5 232.7,281.0 232.7,264.9 232.8,289.8 232.9,295.8 232.9,276.9 233.0,275.1 233.1,280.8 233.2,278.8 233.2,271.5 233.3,273.0 233.4,284.5 233.4,280.7 233.5,277.8 233.6,270.4 233.6,286.5 233.7,291.8 233.8,277.0 233.8,274.0 233.9,270.2 234.0,265.2 234.0,296.4 234.1,284.9 234.2,289.2 234.2,288.0 234.3,280.5 234.4,261.3 234.4,289.7 234.5,274.4 234.6,282.2 234.6,285.8 234.7,299.6 234.8,283.2 234.8,292.2 234.9,290.3 235.0,303.1 235.0,274.6 235.1,278.1 235.2,283.4 235.2,285.4 235.3,277.3 235.4,286.1 235.4,283.4 235.5,282.1 235.6,282.8 235.7,287.8 235.7,287.8 235.8,309.3 235.9,286.2 235.9,265.6 236.0,291.5 236.1,275.0 236.1,280.3 236.2,285.6 236.3,285.3 236.3,274.5 236.4,286.9 236.5,276.1 236.5,292.4 236.6,280.2 236.7,294.6 236.7,308.2 236.8,287.9 236.9,289.2 236.9,287.5 237.0,284.0 237.1,290.2 237.1,287.9 237.2,280.1 237.3,295.7 237.3,282.6 237.4,296.0 237.5,281.8 237.5,266.1 237.6,280.5 237.7,276.0 237.7,282.0 237.8,290.4 237.9,277.5 237.9,277.8 238.0,284.3 238.1,266.3 238.2,278.3 238.2,292.5 238.3,293.5 238.4,276.3 238.4,277.6 238.5,286.8 238.6,291.0 238.6,277.9 238.7,273.6 238.8,275.4 238.8,291.1 238.9,285.4 239.0,274.0 239.0,294.3 239.1,279.0 239.2,277.2 239.2,290.4 239.3,290.0 239.4,275.4 239.4,276.4 239.5,286.4 239.6,278.2 239.6,259.2 239.7,269.1 239.8,276.7 239.8,257.5 239.9,281.7 240.0,280.9 240.0,299.5 240.1,273.0 240.2,280.5 240.2,276.8 240.3,280.0 240.4,261.6 240.4,283.1 240.5,281.1 240.6,287.0 240.7,278.3 240.7,274.4 240.8,285.3 240.9,278.0 240.9,284.0 241.0,292.3 241.1,289.6 241.1,271.6 241.2,273.0 241.3,269.6 241.3,295.4 241.4,274.6 241.5,284.6 241.5,291.4 241.6,284.6 241.7,263.9 241.7,270.9 241.8,280.5 241.9,272.5 241.9,283.6 242.0,286.6 242.1,282.5 242.1,268.3 242.2,284.8 242.3,289.1 242.3,271.0 242.4,294.0 242.5,298.7 242.5,272.8 242.6,250.0 242.7,270.5 242.7,280.8 242.8,271.7 242.9,293.4 242.9,273.9 243.0,278.4 243.1,284.6 243.2,275.3 243.2,263.2 243.3,278.2 243.4,280.2 243.4,284.6 243.5,289.1 243.6,277.8 243.6,273.4 243.7,280.3 243.8,269.0 243.8,239.0 243.9,282.9 244.0,275.0 244.0,277.0 244.1,265.0 244.2,282.1 244.2,268.5 244.3,283.0 244.4,272.5 244.4,292.5 244.5,296.4 244.6,273.9 244.6,287.8 244.7,277.4 244.8,295.2 244.8,295.0 244.9,273.4 245.0,287.5 245.0,282.6 245.1,279.0 245.2,262.8 245.2,277.7 245.3,274.4 245.4,288.2 245.4,289.0 245.5,278.8 245.6,266.9 245.7,280.1 245.7,275.3 245.8,285.9 245.9,273.6 245.9,289.4 246.0,292.3 246.1,267.5 246.1,269.7 246.2,278.7 246.3,275.6 246.3,294.0 246.4,276.7 246.5,275.8 246.5,265.2 246.6,293.8 246.7,271.2 246.7,274.1 246.8,263.3 246.9,277.5 246.9,280.3 247.0,280.2 247.1,266.4 247.1,263.9 247.2,282.3 247.3,285.3 247.3,266.7 247.4,281.0 247.5,281.6 247.5,279.2 247.6,282.2 247.7,271.3 247.7,273.4 247.8,299.4 247.9,289.8 247.9,287.4 248.0,287.9 248.1,277.3 248.2,274.8 248.2,269.3 248.3,278.9 248.4,266.0 248.4,280.2 248.5,273.6 248.6,277.3 248.6,276.3 248.7,295.5 248.8,286.9 248.8,282.0 248.9,299.3 249.0,289.3 249.0,286.7 249.1,291.2 249.2,260.7 249.2,283.7 249.3,296.9 249.4,278.0 249.4,292.7 249.5,276.9 249.6,274.0 249.6,291.8 249.7,280.4 249.8,278.1 249.8,281.2 249.9,284.3 250.0,290.0 250.0,283.1 250.1,284.3 250.2,282.0 250.2,277.2 250.3,276.1 250.4,279.6 250.5,277.5 250.5,278.4 250.6,287.6 250.7,284.1 250.7,282.5 250.8,274.6 250.9,278.9 250.9,279.0 251.0,276.0 251.1,291.5 251.1,285.1 251.2,290.7 251.3,274.1 251.3,278.4 251.4,287.0 251.5,279.4 251.5,282.9 251.6,272.1 251.7,286.5 251.7,286.8 251.8,276.4 251.9,272.8 251.9,297.8 252.0,276.2 252.1,275.7 252.1,295.9 252.2,281.6 252.3,286.0 252.3,285.8 252.4,281.3 252.5,267.6 252.5,288.7 252.6,281.0 252.7,291.5 252.7,284.7 252.8,277.7 252.9,278.3 253.0,290.3 253.0,268.3 253.1,287.3 253.2,271.7 253.2,277.2 253.3,286.4 253.4,273.5 253.4,293.1 253.5,290.5 253.6,279.5 253.6,290.7 253.7,278.0 253.8,288.5 253.8,274.9 253.9,275.6 254.0,282.7 254.0,287.1 254.1,254.2 254.2,275.2 254.2,297.4 254.3,287.3 254.4,294.3 254.4,277.1 254.5,271.4 254.6,282.4 254.6,293.0 254.7,273.9 254.8,274.5 254.8,271.4 254.9,286.4 255.0,300.6 255.0,281.8 255.1,277.3 255.2,278.8 255.2,296.3 255.3,281.7 255.4,270.8 255.5,273.6 255.5,284.5 255.6,295.9 255.7,252.7 255.7,282.4 255.8,283.0 255.9,274.8 255.9,293.7 256.0,291.3 256.1,263.6 256.1,288.3 256.2,267.8 256.3,281.6 256.3,264.7 256.4,275.7 256.5,283.4 256.5,281.0 256.6,255.5 256.7,300.2 256.7,288.0 256.8,279.3 256.9,312.7 256.9,277.6 257.0,278.9 257.1,279.0 257.1,291.9 257.2,288.2 257.3,276.2 257.3,283.5 257.4,302.3 257.5,293.6 257.5,286.7 257.6,292.4 257.7,273.7 257.7,284.5 257.8,299.9 257.9,280.0 258.0,283.6 258.0,279.9 258.1,278.6 258.2,285.7 258.2,283.3 258.3,282.9 258.4,277.9 258.4,288.6 258.5,296.7 258.6,287.4 258.6,288.2 258.7,278.3 258.8,281.0 258.8,277.2 258.9,284.3 259.0,284.1 259.0,294.3 259.1,294.7 259.2,280.4 259.2,290.1 259.3,298.2 259.4,262.7 259.4,278.9 259.5,286.1 259.6,285.5 259.6,289.4 259.7,277.5 259.8,282.0 259.8,268.7 259.9,291.2 260.0,292.9 260.0,287.0 260.1,298.6 260.2,284.8 260.2,284.0 260.3,291.5 260.4,290.2 260.5,297.9 260.5,263.6 260.6,288.5 260.7,279.3 260.7,286.1 260.8,286.1 260.9,253.2 260.9,294.9 261.0,293.1 261.1,291.6 261.1,262.0 261.2,277.0 261.3,294.5 261.3,286.2 261.4,285.7 261.5,291.5 261.5,279.3 261.6,278.8 261.7,299.0 261.7,273.8 261.8,281.6 261.9,266.6 261.9,296.1 262.0,297.8 262.1,288.9 262.1,300.1 262.2,266.4 262.3,293.2 262.3,279.9 262.4,276.9 262.5,276.5 262.5,286.1 262.6,277.6 262.7,287.8 262.7,291.9 262.8,273.6 262.9,271.8 263.0,278.9 263.0,291.5 263.1,286.3 263.2,285.5 263.2,282.5 263.3,308.2 263.4,276.6 263.4,295.8 263.5,278.4 263.6,281.4 263.6,288.4 263.7,296.5 263.8,274.9 263.8,274.2 263.9,289.5 264.0,271.8 264.0,292.9 264.1,286.3 264.2,284.5 264.2,289.4 264.3,274.5 264.4,267.9 264.4,291.7 264.5,279.9 264.6,266.8 264.6,284.7 264.7,291.4 264.8,296.8 264.8,289.5 264.9,284.3 265.0,261.3 265.0,262.9 265.1,291.1 265.2,295.8 265.2,277.4 265.3,284.1 265.4,287.9 265.5,286.4 265.5,290.1 265.6,277.1 265.7,269.0 265.7,265.7 265.8,283.1 265.9,260.7 265.9,282.3 266.0,306.3 266.1,290.9 266.1,282.0 266.2,289.8 266.3,289.4 266.3,285.0 266.4,281.9 266.5,272.6 266.5,273.8 266.6,288.9 266.7,278.4 266.7,280.7 266.8,289.9 266.9,289.6 266.9,280.0 267.0,271.1 267.1,280.3 267.1,276.5 267.2,289.7 267.3,281.6 267.3,278.4 267.4,287.7 267.5,268.1 267.5,286.7 267.6,286.7 267.7,298.8 267.7,290.1 267.8,288.7 267.9,275.7 268.0,275.5 268.0,280.2 268.1,300.4 268.2,295.3 268.2,272.3 268.3,293.4 268.4,299.0 268.4,284.9 268.5,285.2 268.6,284.7 268.6,293.8 268.7,274.6 268.8,287.9 268.8,299.6 268.9,276.2 269.0,302.2 269.0,304.0 269.1,283.7 269.2,279.7 269.2,289.4 269.3,313.2 269.4,296.9 269.4,286.5 269.5,314.5 269.6,299.8 269.6,284.2 269.7,281.2 269.8,283.8 269.8,296.3 269.9,286.5 270.0,287.2 270.0,295.3 270.1,283.1 270.2,270.5 270.2,294.9 270.3,295.7 270.4,296.2 270.5,287.4 270.5,293.4 270.6,289.5 270.7,283.9 270.7,301.4 270.8,296.4 270.9,310.2 270.9,301.2 271.0,293.3 271.1,307.2 271.1,288.6 271.2,305.8 271.3,305.6 271.3,293.9 271.4,289.5 271.5,323.8 271.5,292.9 271.6,297.4 271.7,296.4 271.7,299.6 271.8,298.0 271.9,305.5 271.9,300.7 272.0,312.3 272.1,284.4 272.1,300.4 272.2,292.3 272.3,307.5 272.3,298.3 272.4,307.9 272.5,311.0 272.5,296.1 272.6,306.1 272.7,303.8 272.7,289.9 272.8,291.1 272.9,302.7 273.0,279.6 273.0,292.5 273.1,291.7 273.2,294.6 273.2,296.1 273.3,312.9 273.4,292.0 273.4,284.9 273.5,307.1 273.6,308.1 273.6,302.2 273.7,301.7 273.8,282.4 273.8,272.0 273.9,297.2 274.0,290.1 274.0,293.9 274.1,304.3 274.2,293.0 274.2,297.1 274.3,283.1 274.4,281.7 274.4,285.0 274.5,293.4 274.6,297.7 274.6,300.6 274.7,306.8 274.8,284.4 274.8,298.6 274.9,284.5 275.0,276.9 275.0,304.2 275.1,295.7 275.2,298.9 275.2,289.5 275.3,298.1 275.4,307.3 275.5,299.8 275.5,297.8 275.6,284.2 275.7,276.5 275.7,289.8 275.8,286.0 275.9,286.3 275.9,301.3 276.0,291.8 276.1,286.3 276.1,304.9 276.2,280.6 276.3,295.3 276.3,268.9 276.4,279.2 276.5,293.6 276.5,284.1 276.6,289.1 276.7,279.6 276.7,297.0 276.8,308.5 276.9,293.0 276.9,306.1 277.0,284.8 277.1,290.9 277.1,287.5 277.2,273.0 277.3,286.0 277.3,286.8 277.4,283.0 277.5,284.1 277.5,271.5 277.6,291.9 277.7,279.7 277.8,288.2 277.8,281.8 277.9,293.9 278.0,286.1 278.0,291.1 278.1,275.0 278.2,290.4 278.2,288.8 278.3,283.3 278.4,280.4 278.4,287.2 278.5,288.7 278.6,284.2 278.6,281.3 278.7,297.3 278.8,278.9 278.8,273.2 278.9,292.6 279.0,287.7 279.0,285.2 279.1,281.3 279.2,273.8 279.2,278.3 279.3,290.7 279.4,285.4 279.4,284.2 279.5,281.5 279.6,280.5 279.6,293.8 279.7,281.3 279.8,290.2 279.8,273.8 279.9,283.6 280.0,290.9 280.0,271.1 280.1,275.2 280.2,273.0 280.3,284.1 280.3,266.3 280.4,276.4 280.5,267.9 280.5,266.2 280.6,299.2 280.7,277.4 280.7,286.7 280.8,289.7 280.9,292.5 280.9,278.0 281.0,269.3 281.1,297.8 281.1,265.3 281.2,283.6 281.3,291.2 281.3,262.3 281.4,286.7 281.5,289.8 281.5,268.2 281.6,281.7 281.7,288.6 281.7,278.3 281.8,291.3 281.9,278.5 281.9,286.9 282.0,273.6 282.1,283.7 282.1,293.1 282.2,271.6 282.3,286.0 282.3,279.5 282.4,274.8 282.5,279.7 282.5,289.0 282.6,287.4 282.7,271.6 282.8,290.5 282.8,292.2 282.9,273.1 283.0,283.0 283.0,270.2 283.1,279.9 283.2,259.4 283.2,281.2 283.3,278.0 283.4,274.4 283.4,282.4 283.5,257.7 283.6,269.3 283.6,278.0 283.7,277.0 283.8,282.1 283.8,268.7 283.9,264.6 284.0,276.8 284.0,272.1 284.1,260.3 284.2,284.9 284.2,280.7 284.3,275.6 284.4,298.5 284.4,270.1 284.5,279.5 284.6,284.1 284.6,278.0 284.7,273.8 284.8,277.9 284.8,280.1 284.9,267.8 285.0,272.5 285.0,273.6 285.1,270.6 285.2,273.1 285.3,273.0 285.3,272.1 285.4,293.6 285.5,273.2 285.5,273.8 285.6,297.5 285.7,285.5 285.7,287.0 285.8,278.3 285.9,276.0 285.9,265.2 286.0,250.0 286.1,284.3 286.1,272.4 286.2,278.4 286.3,270.5 286.3,288.3 286.4,279.6 286.5,278.1 286.5,284.1 286.6,264.3 286.7,281.1 286.7,275.6 286.8,280.1 286.9,272.9 286.9,286.7 287.0,266.0 287.1,271.3 287.1,278.6 287.2,280.7 287.3,279.0 287.3,262.0 287.4,279.8 287.5,278.2 287.5,269.2 287.6,289.3 287.7,273.2 287.8,274.2 287.8,280.1 287.9,278.0 288.0,277.9 288.0,270.0 288.1,277.0 288.2,275.2 288.2,265.1 288.3,261.7 288.4,293.7 288.4,266.2 288.5,268.3 288.6,281.1 288.6,277.0 288.7,260.3 288.8,280.8 288.8,282.4 288.9,276.2 289.0,272.9 289.0,276.0 289.1,268.4 289.2,265.9 289.2,279.6 289.3,291.2 289.4,285.4 289.4,279.9 289.5,282.7 289.6,280.7 289.6,284.4 289.7,273.7 289.8,266.8 289.8,270.6 289.9,289.6 290.0,269.6 290.0,261.3 290.1,287.0 290.2,277.5 290.3,281.0 290.3,286.8 290.4,268.5 290.5,278.0 290.5,278.3 290.6,247.3 290.7,274.6 290.7,273.3 290.8,279.9 290.9,269.2 290.9,276.6 291.0,265.8 291.1,276.1 291.1,249.1 291.2,268.7 291.3,272.6 291.3,265.9 291.4,290.1 291.5,271.9 291.5,278.0 291.6,246.2 291.7,272.6 291.7,273.9 291.8,277.9 291.9,263.3 291.9,287.1 292.0,276.7 292.1,274.6 292.1,276.8 292.2,267.9 292.3,275.9 292.3,278.0 292.4,281.8 292.5,272.2 292.5,269.8 292.6,274.2 292.7,279.2 292.8,281.7 292.8,287.2 292.9,267.8 293.0,260.9 293.0,268.6 293.1,274.0 293.2,277.0 293.2,263.8 293.3,258.3 293.4,265.3 293.4,285.5 293.5,278.9 293.6,271.9 293.6,290.8 293.7,265.5 293.8,272.0 293.8,276.7 293.9,279.6 294.0,273.1 294.0,281.8 294.1,274.3 294.2,275.6 294.2,278.5 294.3,283.1 294.4,263.1 294.4,267.4 294.5,271.8 294.6,269.0 294.6,272.6 294.7,272.1 294.8,266.0 294.8,263.1 294.9,275.0 295.0,285.5 295.0,264.7 295.1,284.9 295.2,270.9 295.3,256.6 295.3,243.4 295.4,275.4 295.5,254.2 295.5,274.9 295.6,269.7 295.7,260.9 295.7,283.7 295.8,272.6 295.9,274.2 295.9,260.3 296.0,277.3 296.1,276.8 296.1,278.1 296.2,297.9 296.3,256.0 296.3,278.1 296.4,270.4 296.5,276.7 296.5,290.6 296.6,269.2 296.7,262.7 296.7,282.0 296.8,267.6 296.9,270.3 296.9,275.2 297.0,269.5 297.1,273.1 297.1,278.2 297.2,283.2 297.3,248.0 297.3,290.5 297.4,274.4 297.5,267.5 297.5,266.1 297.6,278.3 297.7,288.7 297.8,269.8 297.8,264.3 297.9,285.2 298.0,264.5 298.0,278.3 298.1,279.7 298.2,273.3 298.2,262.3 298.3,279.7 298.4,278.1 298.4,273.4 298.5,281.9 298.6,281.4 298.6,254.3 298.7,255.3 298.8,275.9 298.8,269.2 298.9,279.2 299.0,276.0 299.0,274.8 299.1,267.9 299.2,273.5 299.2,280.8 299.3,263.7 299.4,282.7 299.4,270.2 299.5,283.8 299.6,265.9 299.6,279.0 299.7,271.0 299.8,271.8 299.8,274.4 299.9,285.9 300.0,247.0 300.0,273.3 300.1,261.6 300.2,270.7 300.3,260.8 300.3,273.4 300.4,267.4 300.5,270.6 300.5,263.2 300.6,272.0 300.7,273.3 300.7,284.9 300.8,275.3 300.9,277.4 300.9,262.3 301.0,276.4 301.1,265.9 301.1,262.7 301.2,267.6 301.3,273.0 301.3,267.0 301.4,265.4 301.5,282.7 301.5,263.7 301.6,268.2 301.7,265.8 301.7,270.7 301.8,279.7 301.9,264.4 301.9,279.0 302.0,247.5 302.1,265.7 302.1,281.3 302.2,284.3 302.3,275.7 302.3,275.9 302.4,267.3 302.5,267.2 302.5,262.1 302.6,266.3 302.7,257.2 302.8,253.5 302.8,279.7 302.9,274.0 303.0,276.7 303.0,274.0 303.1,260.9 303.2,274.3 303.2,281.4 303.3,289.1 303.4,265.4 303.4,272.0 303.5,280.2 303.6,273.5 303.6,261.4 303.7,261.8 303.8,262.7 303.8,256.0 303.9,277.4 304.0,270.4 304.0,272.9 304.1,277.1 304.2,290.2 304.2,285.5 304.3,259.7 304.4,268.7 304.4,261.1 304.5,268.9 304.6,270.8 304.6,289.5 304.7,264.0 304.8,277.9 304.8,250.8 304.9,273.4 305.0,243.0 305.1,286.6 305.1,272.6 305.2,265.3 305.3,265.2 305.3,272.3 305.4,282.1 305.5,265.1 305.5,261.6 305.6,264.7 305.7,267.9 305.7,263.5 305.8,276.4 305.9,287.5 305.9,254.9 306.0,294.8 306.1,261.9 306.1,267.9 306.2,276.6 306.3,270.7 306.3,279.5 306.4,271.4 306.5,273.1 306.5,281.7 306.6,272.6 306.7,275.7 306.7,268.4 306.8,263.2 306.9,268.5 306.9,285.0 307.0,273.4 307.1,251.6 307.1,260.9 307.2,275.8 307.3,265.6 307.3,259.4 307.4,273.9 307.5,268.0 307.6,271.1 307.6,263.6 307.7,289.2 307.8,275.1 307.8,276.3 307.9,273.3 308.0,262.2 308.0,267.9 308.1,273.7 308.2,262.1 308.2,278.6 308.3,270.9 308.4,270.7 308.4,293.8 308.5,249.6 308.6,273.6 308.6,277.4 308.7,288.0 308.8,277.4 308.8,270.7 308.9,273.1 309.0,267.9 309.0,270.3 309.1,257.3 309.2,272.1 309.2,283.5 309.3,273.8 309.4,263.6 309.4,267.8 309.5,267.4 309.6,283.3 309.6,261.2 309.7,265.3 309.8,272.2 309.8,278.5 309.9,274.9 310.0,264.5 310.1,281.3 310.1,278.6 310.2,261.7 310.3,276.4 310.3,268.5 310.4,269.3 310.5,301.8 310.5,271.4 310.6,271.4 310.7,277.3 310.7,279.2 310.8,273.0 310.9,276.7 310.9,266.5 311.0,262.5 311.1,261.6 311.1,260.8 311.2,272.2 311.3,270.7 311.3,283.2 311.4,275.7 311.5,275.4 311.5,268.4 311.6,267.0 311.7,279.2 311.7,274.4 311.8,277.4 311.9,276.9 311.9,264.4 312.0,271.7 312.1,286.9 312.1,279.2 312.2,289.0 312.3,273.3 312.3,277.8 312.4,286.2 312.5,298.4 312.6,278.3 312.6,267.2 312.7,272.7 312.8,267.1 312.8,269.0 312.9,289.1 313.0,267.8 313.0,275.8 313.1,258.7 313.2,267.4 313.2,265.7 313.3,269.7 313.4,284.8 313.4,268.0 313.5,273.6 313.6,278.2 313.6,281.2 313.7,280.6 313.8,269.5 313.8,267.1 313.9,281.0 314.0,284.2 314.0,263.9 314.1,281.3 314.2,273.3 314.2,278.3 314.3,267.7 314.4,281.7 314.4,282.2 314.5,256.6 314.6,285.8 314.6,275.9 314.7,264.8 314.8,282.0 314.8,265.7 314.9,271.0 315.0,286.4 315.1,270.3 315.1,268.7 315.2,261.0 315.3,268.5 315.3,288.5 315.4,264.5 315.5,285.6 315.5,281.1 315.6,273.1 315.7,279.2 315.7,274.8 315.8,270.5 315.9,280.3 315.9,279.0 316.0,269.6 316.1,275.9 316.1,276.7 316.2,273.5" fill="none" stroke="#1e38ff" stroke-width="0.7"/>
<polyline points="351.6,315.3 351.8,335.8 351.9,327.0 352.1,325.4 352.2,299.7 352.4,300.1 352.6,299.5 352.7,329.5 352.9,331.2 353.1,293.0 353.2,288.3 353.4,310.8 353.5,329.6 353.7,312.7 353.9,318.9 354.0,316.2 354.2,317.6 354.3,305.5 354.5,316.1 354.7,320.4 354.8,308.0 355.0,337.8 355.2,293.1 355.3,304.6 355.5,296.8 355.6,328.5 355.8,328.3 356.0,298.8 356.1,312.4 356.3,303.7 356.4,288.2 356.6,297.0 356.8,316.0 356.9,320.1 357.1,298.3 357.3,310.3 357.4,323.3 357.6,332.4 357.7,315.1 357.9,296.6 358.1,282.2 358.2,310.4 358.4,304.2 358.5,299.2 358.7,297.4 358.9,300.7 359.0,311.0 359.2,319.2 359.4,294.0 359.5,338.7 359.7,331.9 359.8,304.0 360.0,312.4 360.2,332.7 360.3,292.1 360.5,296.9 360.6,296.1 360.8,290.5 361.0,319.4 361.1,304.3 361.3,310.2 361.5,309.3 361.6,303.8 361.8,332.5 361.9,305.7 362.1,294.2 362.3,284.4 362.4,295.9 362.6,310.4 362.7,310.3 362.9,311.9 363.1,300.7 363.2,313.9 363.4,314.1 363.6,285.8 363.7,311.3 363.9,311.1 364.0,300.3 364.2,323.8 364.4,307.4 364.5,294.2 364.7,321.6 364.8,335.8 365.0,288.8 365.2,306.4 365.3,321.5 365.5,317.4 365.7,323.3 365.8,329.0 366.0,279.0 366.1,319.6 366.3,282.4 366.5,293.9 366.6,291.4 366.8,316.6 366.9,282.3 367.1,311.5 367.3,286.2 367.4,344.7 367.6,303.4 367.8,312.5 367.9,294.2 368.1,305.0 368.2,336.7 368.4,320.8 368.6,297.2 368.7,307.1 368.9,314.0 369.0,345.8 369.2,315.8 369.4,326.1 369.5,336.2 369.7,358.0 369.9,329.2 370.0,300.8 370.2,301.3 370.3,344.9 370.5,323.2 370.7,285.2 370.8,308.7 371.0,309.0 371.1,309.6 371.3,326.5 371.5,326.8 371.6,337.2 371.8,283.4 371.9,318.5 372.1,310.6 372.3,295.3 372.4,325.7 372.6,290.4 372.8,289.9 372.9,338.8 373.1,319.7 373.2,326.6 373.4,332.3 373.6,288.3 373.7,331.8 373.9,310.8 374.0,316.3 374.2,319.0 374.4,317.4 374.5,298.6 374.7,304.3 374.9,305.4 375.0,319.9 375.2,265.5 375.3,323.6 375.5,284.1 375.7,334.1 375.8,306.0 376.0,326.4 376.1,293.4 376.3,326.6 376.5,303.6 376.6,302.3 376.8,303.3 377.0,253.5 377.1,269.4 377.3,267.5 377.4,294.9 377.6,289.3 377.8,306.5 377.9,298.5 378.1,313.4 378.2,280.2 378.4,297.5 378.6,281.9 378.7,270.0 378.9,258.8 379.1,285.7 379.2,272.1 379.4,278.6 379.5,270.7 379.7,267.8 379.9,326.8 380.0,284.5 380.2,261.3 380.3,279.9 380.5,282.9 380.7,256.7 380.8,298.1 381.0,265.2 381.2,288.0 381.3,272.1 381.5,266.7 381.6,321.6 381.8,269.1 382.0,253.2 382.1,269.6 382.3,261.9 382.4,295.3 382.6,284.6 382.8,257.1 382.9,305.3 383.1,270.5 383.3,252.4 383.4,291.7 383.6,283.3 383.7,254.6 383.9,253.1 384.1,267.6 384.2,258.0 384.4,278.2 384.5,273.4 384.7,248.8 384.9,249.3 385.0,262.3 385.2,288.1 385.4,255.2 385.5,277.9 385.7,257.2 385.8,274.9 386.0,259.0 386.2,275.6 386.3,253.4 386.5,256.2 386.6,301.1 386.8,285.0 387.0,248.7 387.1,290.3 387.3,267.7 387.5,293.5 387.6,248.8 387.8,269.9 387.9,265.7 388.1,261.2 388.3,253.0 388.4,305.5 388.6,273.2 388.7,269.2 388.9,248.5 389.1,295.4 389.2,295.5 389.4,275.5 389.6,256.3 389.7,289.5 389.9,279.7 390.0,255.2 390.2,313.5 390.4,292.2 390.5,263.8 390.7,267.7 390.8,295.6 391.0,303.6 391.2,295.5 391.3,295.7 391.5,281.2 391.7,323.2 391.8,285.2 392.0,293.9 392.1,296.6 392.3,284.8 392.5,303.4 392.6,317.7 392.8,255.0 392.9,289.1 393.1,313.4 393.3,316.1 393.4,284.3 393.6,304.3 393.8,296.0 393.9,293.7 394.1,280.6 394.2,308.6 394.4,309.9 394.6,317.1 394.7,295.0 394.9,293.5 395.0,309.9 395.2,333.2 395.4,287.7 395.5,290.5 395.7,320.8 395.9,272.0 396.0,248.6 396.2,307.8 396.3,315.1 396.5,313.4 396.7,309.3 396.8,310.9 397.0,280.7 397.1,312.2 397.3,278.3 397.5,269.7 397.6,292.2 397.8,274.6 398.0,277.7 398.1,285.0 398.3,289.4 398.4,299.4 398.6,280.7 398.8,288.2 398.9,295.8 399.1,300.8 399.2,307.4 399.4,312.7 399.6,303.1 399.7,307.4 399.9,310.4 400.1,297.6 400.2,300.0 400.4,281.3 400.5,300.6 400.7,312.6 400.9,285.8 401.0,318.6 401.2,287.4 401.3,313.2 401.5,323.5 401.7,298.9 401.8,287.3 402.0,301.1 402.2,286.3 402.3,277.4 402.5,310.0 402.6,259.3 402.8,306.1 403.0,277.5 403.1,306.8 403.3,282.4 403.4,321.5 403.6,282.0 403.8,252.5 403.9,332.2 404.1,290.3 404.3,288.5 404.4,290.8 404.6,285.0 404.7,293.9 404.9,276.9 405.1,325.7 405.2,278.2 405.4,301.4 405.5,313.6 405.7,288.2 405.9,307.0 406.0,282.5 406.2,275.4 406.4,278.7 406.5,310.8 406.7,311.5 406.8,279.4 407.0,311.0 407.2,280.0 407.3,298.8 407.5,308.0 407.6,260.6 407.8,304.6 408.0,288.6 408.1,269.8 408.3,306.0 408.5,299.2 408.6,300.3 408.8,289.6 408.9,283.7 409.1,272.6 409.3,290.5 409.4,276.1 409.6,284.9 409.7,297.9 409.9,303.2 410.1,297.8 410.2,295.9 410.4,286.4 410.6,307.8 410.7,312.4 410.9,285.3 411.0,286.3 411.2,277.0 411.4,287.8 411.5,285.4 411.7,324.8 411.8,314.4 412.0,268.2 412.2,303.1 412.3,286.0 412.5,261.0 412.6,293.5 412.8,276.8 413.0,294.2 413.1,298.4 413.3,277.2 413.5,312.6 413.6,290.0 413.8,274.6 413.9,260.5 414.1,325.1 414.3,275.0 414.4,290.5 414.6,294.8 414.7,305.6 414.9,269.3 415.1,251.7 415.2,295.0 415.4,267.8 415.6,288.6 415.7,327.7 415.9,283.4 416.0,304.6 416.2,274.7 416.4,334.0 416.5,284.8 416.7,297.0 416.8,287.4 417.0,278.6 417.2,305.5 417.3,283.3 417.5,272.0 417.7,277.8 417.8,281.9 418.0,289.3 418.1,290.2 418.3,273.6 418.5,277.8 418.6,321.0 418.8,281.4 418.9,309.4 419.1,280.5 419.3,293.0 419.4,278.9 419.6,256.3 419.8,281.3 419.9,305.9 420.1,311.8 420.2,308.1 420.4,281.0 420.6,284.4 420.7,270.8 420.9,296.2 421.0,304.1 421.2,294.8 421.4,279.4 421.5,298.5 421.7,292.4 421.9,298.7 422.0,287.7 422.2,294.4 422.3,280.3 422.5,277.3 422.7,251.7 422.8,296.0 423.0,295.5 423.1,277.7 423.3,320.0 423.5,314.2 423.6,322.5 423.8,292.5 424.0,290.9 424.1,300.3 424.3,310.3 424.4,320.4 424.6,279.3 424.8,291.8 424.9,259.4 425.1,288.2 425.2,307.8 425.4,304.4 425.6,332.3 425.7,304.3 425.9,284.3 426.1,279.0 426.2,295.7 426.4,319.5 426.5,271.4 426.7,277.0 426.9,295.0 427.0,288.1 427.2,308.6 427.3,286.1 427.5,295.0 427.7,293.4 427.8,296.8 428.0,316.3 428.2,271.7 428.3,263.9 428.5,267.3 428.6,287.7 428.8,293.8 429.0,301.2 429.1,296.6 429.3,292.5 429.4,260.2 429.6,279.5 429.8,298.6 429.9,270.8 430.1,282.2 430.3,283.5 430.4,299.8 430.6,276.8 430.7,262.9 430.9,284.1 431.1,285.1 431.2,303.5 431.4,279.7 431.5,285.8 431.7,280.6 431.9,280.7 432.0,322.9 432.2,246.5 432.4,296.9 432.5,272.4 432.7,287.8 432.8,260.9 433.0,289.0 433.2,272.3 433.3,296.2 433.5,310.5 433.6,267.3 433.8,261.9 434.0,308.4 434.1,321.5 434.3,289.9 434.5,255.9 434.6,264.7 434.8,308.5 434.9,322.0 435.1,291.1 435.3,270.3 435.4,312.6 435.6,270.0 435.7,281.1 435.9,282.6 436.1,281.6 436.2,301.2 436.4,274.6 436.6,293.0 436.7,309.8 436.9,310.0 437.0,313.7 437.2,284.5 437.4,261.6 437.5,293.2 437.7,292.6 437.8,292.2 438.0,280.9 438.2,295.1 438.3,271.8 438.5,302.5 438.7,318.9 438.8,291.7 439.0,290.2 439.1,300.1 439.3,298.3 439.5,298.8 439.6,291.6 439.8,284.2 439.9,315.1 440.1,268.1 440.3,306.2 440.4,273.6 440.6,296.0 440.8,273.4 440.9,262.3 441.1,270.9 441.2,272.4 441.4,309.9 441.6,276.8 441.7,276.5 441.9,271.8 442.0,288.2 442.2,288.9 442.4,298.9 442.5,277.2 442.7,268.9 442.9,289.2 443.0,306.6 443.2,304.8 443.3,275.8 443.5,282.3 443.7,297.0 443.8,280.1 444.0,266.6 444.1,294.5 444.3,284.8 444.5,295.6 444.6,304.2 444.8,281.5 445.0,271.1 445.1,277.1 445.3,303.3 445.4,292.1 445.6,301.4 445.8,280.8 445.9,299.7 446.1,280.0 446.2,278.0 446.4,289.9 446.6,289.4 446.7,287.8 446.9,292.6 447.1,307.3 447.2,280.3 447.4,262.9 447.5,299.1 447.7,324.0 447.9,310.3 448.0,273.9 448.2,301.6 448.3,313.0 448.5,310.3 448.7,325.3 448.8,308.9 449.0,254.1 449.2,303.8 449.3,280.2 449.5,277.9 449.6,265.1 449.8,272.1 450.0,287.7 450.1,312.4 450.3,314.3 450.4,305.6 450.6,314.1 450.8,285.7 450.9,278.4 451.1,324.7 451.3,299.9 451.4,286.8 451.6,304.9 451.7,280.6 451.9,319.5 452.1,271.1 452.2,283.0 452.4,289.3 452.5,290.2 452.7,272.2 452.9,308.6 453.0,304.5 453.2,295.2 453.3,305.1 453.5,287.2 453.7,311.0 453.8,284.6 454.0,275.3 454.2,289.6 454.3,288.2 454.5,297.2 454.6,303.0 454.8,320.7 455.0,270.5 455.1,265.8 455.3,296.9 455.4,313.5 455.6,307.8 455.8,288.2 455.9,285.8 456.1,284.9 456.3,319.7 456.4,287.4 456.6,297.9 456.7,272.7 456.9,308.3 457.1,291.3 457.2,289.4 457.4,288.6 457.5,290.8 457.7,334.1 457.9,302.9 458.0,303.6 458.2,280.2 458.4,269.8 458.5,258.0 458.7,284.9 458.8,298.3 459.0,300.3 459.2,272.3 459.3,307.8 459.5,287.4 459.6,316.3 459.8,293.3 460.0,298.8 460.1,285.2 460.3,286.6 460.5,299.5 460.6,307.3 460.8,310.1 460.9,286.3 461.1,277.6 461.3,304.8 461.4,319.4 461.6,289.8 461.7,290.0 461.9,289.5 462.1,302.4 462.2,312.8 462.4,281.5 462.6,303.6 462.7,319.8 462.9,305.5 463.0,282.6 463.2,271.5 463.4,296.3 463.5,318.3 463.7,309.4 463.8,321.0 464.0,290.2 464.2,297.0 464.3,282.4 464.5,304.8 464.7,292.3 464.8,283.0 465.0,290.7 465.1,306.9 465.3,314.1 465.5,313.0 465.6,339.0 465.8,313.5 465.9,286.2 466.1,319.5 466.3,288.4 466.4,284.3 466.6,314.2 466.8,293.5 466.9,303.3 467.1,295.0 467.2,300.3 467.4,275.7 467.6,318.3 467.7,323.3 467.9,298.2 468.0,321.9 468.2,316.0 468.4,321.8 468.5,326.7 468.7,281.1 468.9,315.3 469.0,298.3 469.2,312.7 469.3,297.2 469.5,335.9 469.7,329.8 469.8,302.5 470.0,310.0 470.1,306.7 470.3,307.5 470.5,319.0 470.6,288.3 470.8,281.0 471.0,323.7 471.1,311.3 471.3,298.4 471.4,296.0 471.6,282.4 471.8,302.2 471.9,279.1 472.1,309.3 472.2,309.4 472.4,294.0 472.6,322.5 472.7,318.6 472.9,309.2 473.1,293.5 473.2,296.6 473.4,291.6 473.5,274.7 473.7,305.9 473.9,318.2 474.0,280.8 474.2,311.1 474.3,301.4 474.5,306.8 474.7,316.4 474.8,320.6 475.0,295.5 475.2,319.1 475.3,300.5 475.5,264.3 475.6,341.3 475.8,308.4 476.0,302.4 476.1,330.0 476.3,316.1 476.4,299.4 476.6,312.5 476.8,314.1 476.9,306.5 477.1,272.2 477.3,315.2 477.4,297.5 477.6,295.5 477.7,313.7 477.9,349.0 478.1,293.7 478.2,318.8 478.4,289.3 478.5,286.3 478.7,306.5 478.9,327.0 479.0,317.4 479.2,318.2 479.4,332.7 479.5,320.9 479.7,301.6 479.8,295.0 480.0,305.8 480.2,316.0 480.3,303.6 480.5,304.3 480.6,298.6 480.8,294.5 481.0,287.5 481.1,294.3 481.3,337.8 481.5,326.1 481.6,331.0 481.8,309.4 481.9,305.3 482.1,321.5 482.3,303.3 482.4,329.5 482.6,311.2 482.7,322.3 482.9,295.3 483.1,339.4 483.2,312.6 483.4,319.7 483.6,293.9 483.7,295.4 483.9,317.1 484.0,277.5 484.2,324.8 484.4,293.7 484.5,318.0 484.7,291.7 484.8,301.2 485.0,302.2 485.2,315.7 485.3,285.1 485.5,308.4 485.7,303.1 485.8,311.5 486.0,284.6 486.1,298.5 486.3,286.7 486.5,291.9 486.6,315.4 486.8,317.0 486.9,281.5 487.1,293.6 487.3,293.7 487.4,278.2 487.6,287.0 487.8,276.0 487.9,302.0 488.1,276.7 488.2,316.1 488.4,259.6 488.6,300.6 488.7,300.2 488.9,278.2 489.0,260.5 489.2,291.4 489.4,268.6 489.5,306.2 489.7,289.0 489.9,288.4 490.0,291.3 490.2,301.5 490.3,288.3 490.5,297.6 490.7,294.8 490.8,280.4 491.0,306.9 491.1,315.5 491.3,306.7 491.5,291.1 491.6,300.7 491.8,272.5 492.0,275.9 492.1,274.9 492.3,279.2 492.4,302.7 492.6,275.5 492.8,279.2 492.9,265.8 493.1,280.4 493.2,264.9 493.4,307.3 493.6,290.6 493.7,308.9 493.9,316.4 494.0,302.0 494.2,299.0 494.4,295.5 494.5,286.3 494.7,258.1 494.9,296.9 495.0,283.3 495.2,278.5 495.3,285.5 495.5,294.6 495.7,306.5 495.8,278.7 496.0,274.4 496.1,311.8 496.3,303.5 496.5,308.5 496.6,291.1 496.8,273.0 497.0,319.2 497.1,317.9 497.3,288.0 497.4,304.4 497.6,315.1 497.8,337.9 497.9,316.6 498.1,305.8 498.2,292.3 498.4,287.6 498.6,293.7 498.7,283.5 498.9,304.8 499.1,296.6 499.2,289.9 499.4,277.0 499.5,295.7 499.7,287.1 499.9,297.6 500.0,275.2 500.2,302.1 500.3,289.9 500.5,323.3 500.7,279.1 500.8,324.1 501.0,333.4 501.2,292.0 501.3,326.9 501.5,311.5 501.6,272.3 501.8,282.8 502.0,309.6 502.1,298.1 502.3,307.8 502.4,301.2 502.6,318.7 502.8,292.0 502.9,279.3 503.1,286.1 503.3,296.3 503.4,282.4 503.6,296.3 503.7,293.6 503.9,291.8 504.1,295.8 504.2,290.5 504.4,313.3 504.5,297.9 504.7,307.3 504.9,271.9 505.0,295.6 505.2,289.1 505.4,265.1 505.5,328.6 505.7,273.2 505.8,306.9 506.0,305.4 506.2,311.6 506.3,285.8 506.5,251.3 506.6,302.5 506.8,290.9 507.0,304.1 507.1,290.1 507.3,314.7 507.5,303.3 507.6,288.6 507.8,332.5 507.9,282.2 508.1,255.1 508.3,292.0 508.4,298.7 508.6,300.4 508.7,283.7 508.9,290.8 509.1,277.1 509.2,284.9 509.4,302.5 509.6,282.7 509.7,303.4 509.9,287.6 510.0,293.3 510.2,286.1 510.4,310.5 510.5,294.2 510.7,279.5 510.8,295.4 511.0,314.5 511.2,298.7 511.3,278.5 511.5,282.7 511.7,279.8 511.8,319.1 512.0,299.6 512.1,312.0 512.3,311.2 512.5,291.6 512.6,314.4 512.8,294.4 512.9,302.0 513.1,263.9 513.3,295.3 513.4,289.7 513.6,283.6 513.8,298.5 513.9,274.3 514.1,290.8 514.2,252.8 514.4,290.8 514.6,283.5 514.7,323.5 514.9,297.6 515.0,303.4 515.2,252.1 515.4,287.1 515.5,274.6 515.7,315.4 515.9,310.2 516.0,296.3 516.2,297.1 516.3,296.5 516.5,294.0 516.7,306.4 516.8,305.0 517.0,293.6 517.1,283.9 517.3,322.3 517.5,288.9 517.6,283.4 517.8,333.8 518.0,297.7 518.1,295.2 518.3,275.3 518.4,280.5 518.6,320.3 518.8,293.0 518.9,318.3 519.1,282.0 519.2,312.8 519.4,301.3 519.6,293.0 519.7,270.6 519.9,320.8 520.1,302.0 520.2,299.9 520.4,316.3 520.5,286.5 520.7,326.3 520.9,315.9 521.0,313.3 521.2,313.9 521.3,292.8 521.5,300.3 521.7,310.0 521.8,295.2 522.0,326.7 522.2,317.5 522.3,326.5 522.5,279.2 522.6,330.0 522.8,295.4 523.0,291.5 523.1,299.8 523.3,327.6 523.4,312.2 523.6,311.2 523.8,321.0 523.9,322.7 524.1,323.6 524.3,320.1 524.4,309.2 524.6,311.2 524.7,280.8 524.9,300.5 525.1,267.4 525.2,302.2 525.4,305.6 525.5,292.0 525.7,296.1 525.9,321.8 526.0,298.4 526.2,304.0 526.4,335.4 526.5,309.3 526.7,318.6 526.8,311.3 527.0,314.3 527.2,325.2 527.3,303.3 527.5,319.2 527.6,299.6 527.8,301.3 528.0,318.2 528.1,299.1 528.3,267.0 528.5,306.1 528.6,329.8 528.8,292.0 528.9,316.9 529.1,299.7 529.3,280.1 529.4,300.8 529.6,268.6 529.7,325.3 529.9,298.3 530.1,310.9 530.2,304.5 530.4,279.2 530.6,297.0 530.7,322.3 530.9,315.5 531.0,296.0 531.2,289.9 531.4,302.0 531.5,282.4 531.7,309.0 531.8,278.6 532.0,293.4 532.2,318.8 532.3,305.1 532.5,293.9 532.7,307.2 532.8,300.8 533.0,308.8 533.1,322.2 533.3,301.9 533.5,275.5 533.6,309.4 533.8,288.2 533.9,319.8 534.1,315.8 534.3,299.1 534.4,306.5 534.6,274.7 534.7,270.3 534.9,293.0 535.1,303.5 535.2,320.1 535.4,286.3 535.6,281.5 535.7,282.9 535.9,284.5 536.0,299.4 536.2,274.0 536.4,310.1 536.5,277.2 536.7,335.9 536.8,297.6 537.0,301.0 537.2,271.7 537.3,303.4 537.5,267.7 537.7,311.8 537.8,287.4 538.0,302.4 538.1,306.3 538.3,312.1 538.5,318.0 538.6,314.1 538.8,308.2 538.9,285.0 539.1,276.0 539.3,305.7 539.4,298.4 539.6,284.6 539.8,291.7 539.9,307.9 540.1,306.9 540.2,282.5 540.4,271.0 540.6,261.6 540.7,284.8 540.9,288.4 541.0,273.1 541.2,313.8 541.4,328.6 541.5,286.2 541.7,311.9 541.9,298.7 542.0,310.5 542.2,304.2 542.3,301.0 542.5,319.2 542.7,315.9 542.8,297.1 543.0,311.7 543.1,294.5 543.3,304.0 543.5,314.1 543.6,311.2 543.8,277.9 544.0,312.7 544.1,282.7 544.3,305.0 544.4,312.6 544.6,277.5 544.8,284.8 544.9,317.0 545.1,308.8 545.2,270.5 545.4,321.4 545.6,297.5 545.7,287.2 545.9,311.0 546.1,296.5 546.2,308.0 546.4,310.9 546.5,345.7 546.7,323.0 546.9,312.4 547.0,310.6 547.2,313.8 547.3,315.7 547.5,296.9 547.7,314.6 547.8,294.3 548.0,295.5 548.2,302.1 548.3,320.0 548.5,316.5 548.6,260.7 548.8,322.2 549.0,303.7 549.1,303.6 549.3,326.2 549.4,289.6 549.6,284.7 549.8,269.2 549.9,281.9 550.1,313.5 550.3,286.6 550.4,282.5 550.6,305.3 550.7,283.2 550.9,288.1 551.1,287.2 551.2,306.8 551.4,289.6 551.5,292.6 551.7,298.3 551.9,271.7 552.0,298.1 552.2,271.7 552.4,280.7 552.5,293.6 552.7,303.6 552.8,297.6 553.0,319.6 553.2,305.7 553.3,312.8 553.5,295.7 553.6,292.3 553.8,330.5 554.0,276.5 554.1,320.9 554.3,289.1 554.5,310.7 554.6,277.4 554.8,305.8 554.9,302.6 555.1,262.9 555.3,285.8 555.4,306.8 555.6,312.8 555.7,300.2 555.9,284.4 556.1,293.0 556.2,272.5 556.4,276.9 556.6,295.9 556.7,292.0 556.9,303.8 557.0,296.4 557.2,304.2 557.4,293.1 557.5,304.6 557.7,335.2 557.8,278.8 558.0,297.5 558.2,287.7 558.3,304.8 558.5,303.7 558.7,284.4 558.8,300.4 559.0,301.6 559.1,296.4 559.3,304.0 559.5,321.9 559.6,309.1 559.8,294.3 559.9,301.1 560.1,330.1 560.3,288.5 560.4,316.8 560.6,289.2 560.8,275.1 560.9,289.3 561.1,305.6 561.2,297.0 561.4,289.6 561.6,288.8 561.7,286.3 561.9,284.8 562.0,291.4 562.2,260.7 562.4,309.4 562.5,307.4 562.7,305.3 562.9,317.7 563.0,293.3 563.2,302.3 563.3,258.5 563.5,301.8 563.7,292.2 563.8,307.7 564.0,310.6 564.1,292.7 564.3,274.3 564.5,300.1 564.6,308.6 564.8,310.0 565.0,286.5 565.1,279.0 565.3,288.0 565.4,276.6 565.6,259.1 565.8,300.2 565.9,301.7 566.1,305.3 566.2,281.4 566.4,294.9 566.6,277.1 566.7,273.2 566.9,305.5 567.1,268.4 567.2,291.9 567.4,335.1 567.5,317.0 567.7,308.6 567.9,308.6 568.0,296.0 568.2,288.9 568.3,330.5 568.5,293.3 568.7,286.4 568.8,308.2 569.0,296.7 569.2,318.7 569.3,286.6 569.5,285.1 569.6,291.8 569.8,325.1 570.0,315.6 570.1,305.2 570.3,301.9 570.4,307.1 570.6,286.2 570.8,309.3 570.9,292.6 571.1,304.8 571.3,302.9 571.4,306.6 571.6,293.3 571.7,317.0 571.9,308.5 572.1,290.1 572.2,309.6 572.4,296.7 572.5,307.1 572.7,314.2 572.9,292.4 573.0,300.5 573.2,301.4 573.4,300.6 573.5,333.8 573.7,307.4 573.8,282.1 574.0,303.3 574.2,293.7 574.3,342.3 574.5,292.7 574.6,284.0 574.8,313.5 575.0,293.7 575.1,297.4 575.3,300.3 575.4,293.8 575.6,298.5 575.8,269.5 575.9,303.9 576.1,315.5 576.3,334.6 576.4,306.0 576.6,318.9 576.7,291.4 576.9,327.1 577.1,339.9 577.2,308.7 577.4,297.9 577.5,303.7 577.7,326.8 577.9,280.9 578.0,322.1 578.2,284.0 578.4,286.4 578.5,304.6 578.7,310.5 578.8,317.5 579.0,325.3 579.2,284.8 579.3,305.5 579.5,318.1 579.6,310.2 579.8,324.0 580.0,306.6 580.1,300.6 580.3,269.4 580.5,274.7 580.6,318.6 580.8,287.4 580.9,311.0 581.1,316.1 581.3,303.3 581.4,322.5 581.6,295.3 581.7,314.9 581.9,303.2 582.1,280.5 582.2,271.4 582.4,300.6 582.6,329.9 582.7,321.7 582.9,311.9 583.0,318.0 583.2,320.9 583.4,302.7 583.5,327.7 583.7,311.0 583.8,298.8 584.0,349.5 584.2,317.3 584.3,304.6 584.5,318.1 584.7,286.3 584.8,286.5 585.0,338.5 585.1,316.9 585.3,289.6 585.5,280.4 585.6,306.0 585.8,290.2 585.9,327.7 586.1,275.0 586.3,326.3 586.4,291.6 586.6,287.5 586.8,308.8 586.9,287.5 587.1,299.5 587.2,300.3 587.4,270.0 587.6,289.4 587.7,314.8 587.9,275.7 588.0,288.2 588.2,295.8 588.4,324.7 588.5,324.9 588.7,334.2 588.9,293.6 589.0,323.1 589.2,313.1 589.3,288.0 589.5,318.1 589.7,309.6 589.8,297.9 590.0,290.0 590.1,281.3 590.3,316.2 590.5,314.2 590.6,302.6 590.8,301.8 591.0,298.7 591.1,320.7 591.3,311.2 591.4,278.0 591.6,308.7 591.8,315.3 591.9,297.8 592.1,300.8 592.2,299.8 592.4,320.0 592.6,303.6 592.7,310.3 592.9,312.7 593.1,337.3 593.2,288.2 593.4,350.7 593.5,291.9 593.7,308.1" fill="none" stroke="#6a7cff" stroke-opacity="0.55" stroke-width="0.5"/>
<polyline points="351.6,324.7 351.7,318.4 351.7,321.7 351.8,323.8 351.9,326.7 351.9,322.4 352.0,311.7 352.1,313.1 352.1,315.6 352.2,310.1 352.3,308.9 352.3,328.5 352.4,315.7 352.5,328.3 352.5,303.8 352.6,310.7 352.7,306.9 352.7,307.4 352.8,308.6 352.9,310.0 352.9,306.8 353.0,327.4 353.1,316.6 353.1,303.4 353.2,304.8 353.3,316.5 353.3,314.5 353.4,303.0 353.5,317.1 353.6,295.2 353.6,304.4 353.7,324.5 353.8,284.8 353.8,306.9 353.9,318.0 354.0,308.0 354.0,301.5 354.1,300.4 354.2,289.6 354.2,296.0 354.3,308.6 354.4,303.0 354.4,308.8 354.5,307.2 354.6,311.4 354.6,294.3 354.7,306.7 354.8,306.7 354.8,307.3 354.9,302.6 355.0,290.4 355.0,316.4 355.1,318.4 355.2,332.8 355.2,317.8 355.3,326.3 355.4,317.4 355.4,307.6 355.5,315.6 355.6,300.5 355.6,313.7 355.7,309.9 355.8,301.5 355.8,321.6 355.9,321.3 356.0,315.9 356.0,318.8 356.1,326.9 356.2,310.0 356.2,298.6 356.3,303.1 356.4,318.4 356.4,313.2 356.5,296.9 356.6,322.9 356.6,312.8 356.7,326.3 356.8,321.3 356.8,306.8 356.9,312.3 357.0,304.4 357.0,303.2 357.1,308.0 357.2,315.6 357.3,323.5 357.3,302.5 357.4,317.0 357.5,310.5 357.5,308.5 357.6,320.7 357.7,306.6 357.7,322.7 357.8,306.9 357.9,302.2 357.9,317.5 358.0,296.4 358.1,297.7 358.1,307.9 358.2,310.2 358.3,307.2 358.3,291.3 358.4,297.7 358.5,314.0 358.5,314.5 358.6,299.9 358.7,311.3 358.7,311.6 358.8,319.2 358.9,303.8 358.9,323.8 359.0,307.1 359.1,321.7 359.1,317.0 359.2,299.6 359.3,305.6 359.3,310.7 359.4,317.5 359.5,296.0 359.5,304.3 359.6,315.0 359.7,313.7 359.7,299.6 359.8,300.5 359.9,312.5 359.9,298.7 360.0,310.2 360.1,316.9 360.1,308.8 360.2,283.2 360.3,318.3 360.3,318.5 360.4,320.6 360.5,315.6 360.5,291.5 360.6,319.9 360.7,309.9 360.7,316.6 360.8,306.2 360.9,305.1 361.0,306.2 361.0,323.0 361.1,310.7 361.2,306.7 361.2,297.0 361.3,313.5 361.4,309.2 361.4,310.2 361.5,317.4 361.6,314.5 361.6,307.7 361.7,309.6 361.8,309.0 361.8,315.5 361.9,315.2 362.0,310.4 362.0,301.0 362.1,316.6 362.2,316.5 362.2,297.8 362.3,310.8 362.4,303.8 362.4,287.3 362.5,307.6 362.6,316.5 362.6,301.5 362.7,301.7 362.8,317.4 362.8,297.5 362.9,298.9 363.0,305.4 363.0,313.9 363.1,313.5 363.2,302.1 363.2,304.3 363.3,308.2 363.4,303.6 363.4,298.5 363.5,295.6 363.6,312.4 363.6,302.6 363.7,331.7 363.8,311.1 363.8,297.8 363.9,304.7 364.0,308.1 364.0,308.8 364.1,309.4 364.2,310.4 364.2,305.1 364.3,312.9 364.4,327.1 364.4,303.2 364.5,303.3 364.6,313.5 364.7,318.3 364.7,313.9 364.8,317.8 364.9,306.9 364.9,305.7 365.0,313.9 365.1,314.3 365.1,323.5 365.2,322.3 365.3,291.5 365.3,314.6 365.4,301.6 365.5,288.2 365.5,311.3 365.6,305.8 365.7,303.6 365.7,294.9 365.8,298.1 365.9,306.5 365.9,294.3 366.0,307.6 366.1,310.1 366.1,307.1 366.2,312.0 366.3,308.2 366.3,298.6 366.4,299.8 366.5,310.8 366.5,318.8 366.6,310.8 366.7,304.4 366.7,310.5 366.8,292.1 366.9,299.8 366.9,306.2 367.0,308.9 367.1,306.9 367.1,307.6 367.2,299.8 367.3,305.7 367.3,313.5 367.4,294.9 367.5,301.5 367.5,309.3 367.6,325.8 367.7,318.8 367.7,327.4 367.8,325.7 367.9,309.1 367.9,313.3 368.0,303.5 368.1,325.5 368.1,321.9 368.2,320.6 368.3,322.3 368.3,321.2 368.4,318.9 368.5,319.6 368.6,327.6 368.6,308.6 368.7,305.7 368.8,315.7 368.8,327.5 368.9,319.1 369.0,314.9 369.0,325.0 369.1,318.2 369.2,299.9 369.2,308.7 369.3,299.4 369.4,317.1 369.4,314.9 369.5,323.1 369.6,338.9 369.6,313.4 369.7,319.2 369.8,315.6 369.8,292.7 369.9,311.7 370.0,311.6 370.0,321.2 370.1,310.2 370.2,305.9 370.2,322.9 370.3,316.7 370.4,308.8 370.4,309.6 370.5,313.9 370.6,324.2 370.6,329.5 370.7,306.1 370.8,328.2 370.8,317.8 370.9,320.7 371.0,325.8 371.0,306.9 371.1,323.6 371.2,303.3 371.2,311.0 371.3,308.4 371.4,331.7 371.4,331.0 371.5,323.4 371.6,320.6 371.6,310.4 371.7,331.0 371.8,327.7 371.8,322.8 371.9,313.2 372.0,310.4 372.0,312.5 372.1,326.7 372.2,306.1 372.3,314.2 372.3,327.9 372.4,320.5 372.5,328.3 372.5,316.0 372.6,316.5 372.7,325.6 372.7,318.9 372.8,316.4 372.9,307.9 372.9,299.0 373.0,327.2 373.1,309.7 373.1,306.4 373.2,321.4 373.3,305.4 373.3,300.6 373.4,306.0 373.5,310.6 373.5,313.0 373.6,314.0 373.7,318.2 373.7,308.7 373.8,313.1 373.9,308.6 373.9,303.6 374.0,312.4 374.1,311.0 374.1,324.4 374.2,311.6 374.3,300.2 374.3,312.7 374.4,305.1 374.5,321.2 374.5,289.6 374.6,299.0 374.7,299.0 374.7,306.1 374.8,302.5 374.9,288.4 374.9,286.0 375.0,304.7 375.1,316.3 375.1,315.8 375.2,298.6 375.3,305.5 375.3,292.7 375.4,286.8 375.5,311.2 375.5,306.0 375.6,296.2 375.7,295.0 375.7,307.0 375.8,301.5 375.9,295.1 376.0,300.7 376.0,297.7 376.1,293.8 376.2,291.0 376.2,306.2 376.3,294.4 376.4,286.9 376.4,313.7 376.5,308.4 376.6,301.8 376.6,295.2 376.7,297.5 376.8,282.8 376.8,296.0 376.9,298.1 377.0,293.1 377.0,298.7 377.1,287.1 377.2,296.1 377.2,280.8 377.3,294.2 377.4,288.8 377.4,281.7 377.5,289.8 377.6,293.3 377.6,287.9 377.7,301.7 377.8,286.8 377.8,301.2 377.9,299.5 378.0,287.5 378.0,306.2 378.1,280.7 378.2,297.5 378.2,292.7 378.3,299.0 378.4,278.1 378.4,280.7 378.5,283.3 378.6,290.5 378.6,290.2 378.7,289.7 378.8,286.8 378.8,282.0 378.9,275.7 379.0,283.8 379.0,292.2 379.1,296.9 379.2,283.6 379.2,296.8 379.3,275.9 379.4,294.7 379.4,277.6 379.5,289.3 379.6,277.8 379.7,277.8 379.7,281.1 379.8,298.4 379.9,279.0 379.9,289.9 380.0,285.6 380.1,286.8 380.1,286.2 380.2,289.0 380.3,272.2 380.3,283.8 380.4,286.6 380.5,277.8 380.5,286.0 380.6,272.9 380.7,288.1 380.7,274.4 380.8,278.2 380.9,288.3 380.9,290.9 381.0,275.8 381.1,274.8 381.1,288.6 381.2,253.7 381.3,291.5 381.3,292.2 381.4,270.8 381.5,291.5 381.5,284.1 381.6,283.9 381.7,258.7 381.7,276.2 381.8,278.2 381.9,275.5 381.9,276.2 382.0,275.7 382.1,252.6 382.1,277.3 382.2,272.7 382.3,278.5 382.3,274.4 382.4,277.9 382.5,280.6 382.5,294.4 382.6,270.6 382.7,293.7 382.7,275.5 382.8,269.2 382.9,264.0 382.9,284.5 383.0,262.3 383.1,283.3 383.1,278.5 383.2,269.9 383.3,268.8 383.4,278.9 383.4,275.7 383.5,280.9 383.6,273.4 383.6,268.3 383.7,277.2 383.8,261.4 383.8,280.7 383.9,273.2 384.0,262.7 384.0,262.2 384.1,267.7 384.2,253.5 384.2,282.7 384.3,279.6 384.4,260.1 384.4,268.5 384.5,285.3 384.6,273.1 384.6,260.1 384.7,249.9 384.8,254.0 384.8,279.3 384.9,271.0 385.0,256.2 385.0,273.7 385.1,264.8 385.2,261.4 385.2,262.1 385.3,262.5 385.4,282.0 385.4,258.8 385.5,265.0 385.6,281.3 385.6,282.8 385.7,259.7 385.8,288.1 385.8,278.6 385.9,255.6 386.0,285.9 386.0,256.0 386.1,276.3 386.2,258.8 386.2,252.7 386.3,276.9 386.4,273.6 386.4,268.8 386.5,271.4 386.6,269.3 386.6,267.4 386.7,260.2 386.8,276.0 386.8,270.7 386.9,268.1 387.0,265.4 387.1,268.9 387.1,257.7 387.2,268.7 387.3,262.4 387.3,283.5 387.4,262.9 387.5,267.8 387.5,272.5 387.6,279.7 387.7,276.2 387.7,272.7 387.8,292.5 387.9,273.2 387.9,276.8 388.0,300.0 388.1,266.1 388.1,282.7 388.2,277.9 388.3,261.4 388.3,268.2 388.4,281.7 388.5,260.8 388.5,273.1 388.6,282.9 388.7,272.5 388.7,278.0 388.8,269.5 388.9,271.0 388.9,271.8 389.0,274.4 389.1,283.5 389.1,278.3 389.2,296.1 389.3,282.5 389.3,281.2 389.4,300.1 389.5,277.9 389.5,272.5 389.6,282.4 389.7,270.6 389.7,285.7 389.8,292.8 389.9,286.5 389.9,276.7 390.0,279.2 390.1,284.8 390.1,290.5 390.2,275.8 390.3,276.7 390.3,290.8 390.4,283.3 390.5,284.5 390.5,285.7 390.6,274.4 390.7,280.8 390.8,292.3 390.8,281.7 390.9,281.6 391.0,286.2 391.0,288.3 391.1,309.4 391.2,278.7 391.2,288.3 391.3,306.2 391.4,288.0 391.4,291.3 391.5,274.7 391.6,297.0 391.6,296.6 391.7,297.2 391.8,288.6 391.8,293.7 391.9,289.0 392.0,298.5 392.0,289.9 392.1,297.4 392.2,278.3 392.2,287.5 392.3,263.4 392.4,289.4 392.4,297.4 392.5,288.6 392.6,312.7 392.6,282.9 392.7,288.4 392.8,283.6 392.8,288.4 392.9,288.8 393.0,278.9 393.0,283.6 393.1,311.2 393.2,290.0 393.2,301.1 393.3,280.8 393.4,290.7 393.4,297.2 393.5,290.6 393.6,288.2 393.6,291.6 393.7,293.2 393.8,300.5 393.8,303.6 393.9,279.1 394.0,271.9 394.0,289.2 394.1,291.4 394.2,298.1 394.2,301.7 394.3,285.1 394.4,309.0 394.5,291.3 394.5,273.5 394.6,299.4 394.7,292.3 394.7,293.1 394.8,275.2 394.9,287.9 394.9,292.8 395.0,290.2 395.1,297.0 395.1,303.0 395.2,305.2 395.3,303.1 395.3,289.4 395.4,307.5 395.5,294.1 395.5,299.6 395.6,289.0 395.7,278.3 395.7,269.8 395.8,292.3 395.9,284.4 395.9,290.7 396.0,298.7 396.1,277.2 396.1,275.0 396.2,293.2 396.3,293.9 396.3,288.8 396.4,286.4 396.5,275.7 396.5,290.4 396.6,284.8 396.7,296.0 396.7,301.4 396.8,286.8 396.9,295.8 396.9,293.4 397.0,298.3 397.1,307.2 397.1,300.3 397.2,300.3 397.3,301.1 397.3,291.2 397.4,294.9 397.5,298.7 397.5,307.3 397.6,307.4 397.7,316.3 397.7,285.9 397.8,295.1 397.9,279.7 397.9,290.6 398.0,280.8 398.1,306.3 398.1,302.3 398.2,285.4 398.3,299.2 398.4,302.6 398.4,312.4 398.5,304.9 398.6,298.4 398.6,296.7 398.7,304.3 398.8,300.7 398.8,293.1 398.9,286.9 399.0,307.7 399.0,291.1 399.1,295.4 399.2,306.1 399.2,298.7 399.3,309.6 399.4,289.4 399.4,306.4 399.5,286.8 399.6,285.1 399.6,289.9 399.7,301.1 399.8,292.9 399.8,286.1 399.9,310.1 400.0,289.9 400.0,296.7 400.1,299.4 400.2,293.0 400.2,299.7 400.3,301.9 400.4,295.4 400.4,305.4 400.5,290.8 400.6,286.8 400.6,298.1 400.7,286.9 400.8,299.4 400.8,295.5 400.9,292.3 401.0,301.7 401.0,301.4 401.1,269.1 401.2,292.9 401.2,296.6 401.3,299.9 401.4,289.5 401.4,283.8 401.5,296.5 401.6,301.5 401.6,275.9 401.7,280.5 401.8,288.3 401.8,269.4 401.9,287.7 402.0,300.9 402.1,283.4 402.1,294.0 402.2,284.4 402.3,296.8 402.3,298.2 402.4,304.1 402.5,293.1 402.5,301.7 402.6,295.0 402.7,286.5 402.7,304.4 402.8,285.1 402.9,292.0 402.9,313.2 403.0,298.0 403.1,283.3 403.1,293.6 403.2,285.0 403.3,289.1 403.3,277.1 403.4,292.9 403.5,276.1 403.5,293.2 403.6,293.6 403.7,297.7 403.7,310.4 403.8,274.4 403.9,279.0 403.9,280.9 404.0,284.2 404.1,297.4 404.1,287.0 404.2,284.8 404.3,280.0 404.3,284.5 404.4,286.7 404.5,289.6 404.5,277.3 404.6,288.9 404.7,294.7 404.7,291.9 404.8,277.4 404.9,297.0 404.9,296.9 405.0,292.2 405.1,277.5 405.1,275.6 405.2,290.0 405.3,281.1 405.3,278.3 405.4,298.4 405.5,298.8 405.5,296.9 405.6,303.5 405.7,300.3 405.8,280.6 405.8,302.4 405.9,293.5 406.0,295.8 406.0,305.9 406.1,295.8 406.2,306.6 406.2,292.4 406.3,288.0 406.4,285.4 406.4,291.2 406.5,277.0 406.6,291.7 406.6,292.5 406.7,288.9 406.8,273.9 406.8,274.6 406.9,300.5 407.0,284.7 407.0,306.7 407.1,287.7 407.2,298.5 407.2,281.7 407.3,289.7 407.4,293.6 407.4,301.6 407.5,311.9 407.6,304.3 407.6,281.6 407.7,294.4 407.8,292.7 407.8,288.1 407.9,299.2 408.0,308.3 408.0,289.2 408.1,304.8 408.2,307.7 408.2,284.6 408.3,311.1 408.4,310.4 408.4,297.2 408.5,310.1 408.6,296.7 408.6,305.0 408.7,300.5 408.8,286.3 408.8,297.0 408.9,293.3 409.0,290.9 409.0,284.2 409.1,287.5 409.2,283.2 409.2,305.3 409.3,275.7 409.4,294.6 409.5,288.2 409.5,281.0 409.6,299.3 409.7,284.6 409.7,303.0 409.8,289.0 409.9,293.3 409.9,288.8 410.0,296.5 410.1,299.8 410.1,286.6 410.2,291.2 410.3,307.9 410.3,285.5 410.4,308.1 410.5,287.8 410.5,286.7 410.6,277.2 410.7,284.1 410.7,277.2 410.8,288.5 410.9,300.3 410.9,292.9 411.0,288.3 411.1,284.3 411.1,287.2 411.2,280.1 411.3,281.0 411.3,311.2 411.4,295.1 411.5,284.5 411.5,299.2 411.6,306.6 411.7,286.4 411.7,291.2 411.8,280.7 411.9,276.9 411.9,304.4 412.0,323.0 412.1,284.2 412.1,275.4 412.2,303.5 412.3,299.7 412.3,294.8 412.4,304.2 412.5,287.3 412.5,292.7 412.6,297.2 412.7,286.4 412.7,293.3 412.8,286.3 412.9,292.6 412.9,290.5 413.0,271.6 413.1,290.7 413.2,276.7 413.2,281.6 413.3,272.9 413.4,296.7 413.4,285.3 413.5,284.0 413.6,299.4 413.6,294.6 413.7,285.5 413.8,268.5 413.8,294.5 413.9,285.4 414.0,284.8 414.0,295.3 414.1,282.4 414.2,287.4 414.2,296.4 414.3,294.4 414.4,283.4 414.4,303.3 414.5,300.1 414.6,307.9 414.6,289.9 414.7,292.7 414.8,301.0 414.8,295.7 414.9,293.4 415.0,292.0 415.0,290.1 415.1,286.9 415.2,286.9 415.2,297.5 415.3,290.8 415.4,280.3 415.4,293.5 415.5,309.5 415.6,306.4 415.6,274.8 415.7,285.8 415.8,301.2 415.8,294.9 415.9,294.4 416.0,293.1 416.0,294.5 416.1,284.6 416.2,305.3 416.2,283.7 416.3,291.2 416.4,306.1 416.4,301.8 416.5,291.6 416.6,292.2 416.6,286.1 416.7,285.8 416.8,288.3 416.9,302.8 416.9,286.1 417.0,295.0 417.1,293.2 417.1,292.3 417.2,285.7 417.3,294.9 417.3,289.4 417.4,288.9 417.5,284.0 417.5,268.2 417.6,295.2 417.7,294.7 417.7,283.0 417.8,286.0 417.9,291.1 417.9,279.4 418.0,295.5 418.1,295.9 418.1,297.2 418.2,296.0 418.3,270.8 418.3,293.4 418.4,284.1 418.5,297.9 418.5,296.8 418.6,295.6 418.7,286.2 418.7,312.9 418.8,286.7 418.9,277.6 418.9,297.0 419.0,275.2 419.1,307.6 419.1,298.6 419.2,300.9 419.3,298.3 419.3,293.6 419.4,278.7 419.5,285.9 419.5,296.6 419.6,289.4 419.7,295.1 419.7,286.0 419.8,286.0 419.9,296.2 419.9,299.8 420.0,292.6 420.1,283.5 420.1,276.6 420.2,310.9 420.3,281.2 420.3,284.1 420.4,285.6 420.5,300.4 420.6,285.0 420.6,297.0 420.7,294.8 420.8,281.5 420.8,294.3 420.9,282.5 421.0,291.6 421.0,299.6 421.1,289.9 421.2,284.4 421.2,289.3 421.3,291.3 421.4,297.1 421.4,272.9 421.5,276.8 421.6,298.3 421.6,292.3 421.7,292.9 421.8,294.6 421.8,290.9 421.9,288.6 422.0,293.9 422.0,298.7 422.1,295.9 422.2,292.9 422.2,283.8 422.3,296.0 422.4,283.8 422.4,287.4 422.5,294.5 422.6,294.2 422.6,303.4 422.7,302.0 422.8,299.0 422.8,291.1 422.9,293.6 423.0,292.2 423.0,310.6 423.1,299.6 423.2,289.7 423.2,288.0 423.3,307.2 423.4,287.7 423.4,299.0 423.5,296.7 423.6,305.1 423.6,287.1 423.7,299.4 423.8,297.6 423.8,303.5 423.9,309.1 424.0,297.6 424.0,294.4 424.1,304.2 424.2,283.1 424.3,297.8 424.3,287.1 424.4,285.6 424.5,281.8 424.5,281.8 424.6,304.4 424.7,304.4 424.7,297.0 424.8,305.4 424.9,295.5 424.9,290.1 425.0,284.9 425.1,300.8 425.1,301.3 425.2,305.1 425.3,286.3 425.3,291.4 425.4,281.8 425.5,304.2 425.5,299.9 425.6,298.9 425.7,293.9 425.7,292.6 425.8,290.0 425.9,302.7 425.9,286.6 426.0,300.8 426.1,295.6 426.1,283.8 426.2,279.1 426.3,285.1 426.3,292.1 426.4,281.1 426.5,299.1 426.5,304.1 426.6,298.9 426.7,278.5 426.7,273.0 426.8,302.4 426.9,308.5 426.9,291.2 427.0,299.6 427.1,292.6 427.1,289.0 427.2,303.8 427.3,289.8 427.3,302.8 427.4,311.1 427.5,293.9 427.5,312.9 427.6,282.9 427.7,303.1 427.7,294.1 427.8,317.8 427.9,294.9 427.9,287.2 428.0,309.3 428.1,279.9 428.2,298.7 428.2,287.6 428.3,307.2 428.4,292.9 428.4,301.4 428.5,293.1 428.6,283.3 428.6,273.8 428.7,310.3 428.8,295.2 428.8,282.3 428.9,291.0 429.0,302.4 429.0,279.3 429.1,313.3 429.2,290.2 429.2,288.0 429.3,303.3 429.4,292.7 429.4,281.8 429.5,300.2 429.6,295.8 429.6,302.1 429.7,283.6 429.8,282.0 429.8,298.6 429.9,288.8 430.0,272.5 430.0,286.2 430.1,297.2 430.2,285.0 430.2,303.5 430.3,287.7 430.4,291.4 430.4,277.6 430.5,285.3 430.6,290.9 430.6,297.4 430.7,294.0 430.8,301.6 430.8,270.9 430.9,291.5 431.0,289.5 431.0,281.3 431.1,290.3 431.2,283.6 431.2,294.4 431.3,288.0 431.4,295.5 431.4,282.6 431.5,302.6 431.6,294.3 431.6,306.9 431.7,289.1 431.8,286.1 431.9,291.0 431.9,285.7 432.0,279.3 432.1,289.3 432.1,287.9 432.2,282.5 432.3,284.9 432.3,278.9 432.4,289.3 432.5,274.8 432.5,302.6 432.6,287.4 432.7,296.2 432.7,276.7 432.8,291.5 432.9,286.3 432.9,296.3 433.0,294.8 433.1,271.8 433.1,297.9 433.2,272.6 433.3,299.1 433.3,287.5 433.4,277.2 433.5,295.2 433.5,289.1 433.6,279.8 433.7,282.6 433.7,294.3 433.8,277.1 433.9,282.2 433.9,308.1 434.0,282.3 434.1,292.9 434.1,293.9 434.2,298.9 434.3,298.7 434.3,268.1 434.4,287.4 434.5,302.8 434.5,284.4 434.6,309.0 434.7,295.2 434.7,282.2 434.8,298.7 434.9,311.4 434.9,287.3 435.0,299.5 435.1,285.8 435.1,289.0 435.2,295.2 435.3,298.8 435.3,297.1 435.4,296.2 435.5,316.5 435.6,284.0 435.6,276.3 435.7,299.1 435.8,295.4 435.8,280.2 435.9,310.4 436.0,287.6 436.0,280.5 436.1,297.3 436.2,299.2 436.2,315.3 436.3,278.5 436.4,280.3 436.4,289.2 436.5,288.0 436.6,290.8 436.6,285.4 436.7,277.9 436.8,288.3 436.8,298.9 436.9,300.4 437.0,286.3 437.0,297.1 437.1,295.5 437.2,287.0 437.2,288.8 437.3,292.7 437.4,317.5 437.4,292.1 437.5,282.8 437.6,289.5 437.6,285.2 437.7,300.3 437.8,268.3 437.8,278.0 437.9,296.8 438.0,292.5 438.0,288.5 438.1,295.2 438.2,276.0 438.2,292.4 438.3,279.3 438.4,278.2 438.4,294.9 438.5,282.1 438.6,286.8 438.6,296.0 438.7,280.4 438.8,296.0 438.8,311.6 438.9,288.6 439.0,299.3 439.0,297.1 439.1,278.4 439.2,277.6 439.3,290.4 439.3,269.8 439.4,290.3 439.5,292.6 439.5,294.4 439.6,293.0 439.7,301.9 439.7,286.5 439.8,302.6 439.9,294.8 439.9,294.7 440.0,287.8 440.1,298.6 440.1,281.8 440.2,295.4 440.3,298.8 440.3,281.9 440.4,279.5 440.5,282.3 440.5,288.5 440.6,292.3 440.7,297.6 440.7,308.1 440.8,305.9 440.9,292.9 440.9,285.2 441.0,277.3 441.1,297.0 441.1,294.3 441.2,287.3 441.3,287.9 441.3,288.4 441.4,264.3 441.5,287.4 441.5,290.9 441.6,287.2 441.7,278.5 441.7,290.2 441.8,294.3 441.9,306.1 441.9,300.3 442.0,295.4 442.1,289.5 442.1,277.8 442.2,286.1 442.3,277.8 442.3,289.8 442.4,300.6 442.5,300.1 442.5,298.5 442.6,290.2 442.7,299.7 442.7,287.9 442.8,272.9 442.9,293.0 443.0,293.0 443.0,276.9 443.1,288.8 443.2,270.1 443.2,289.7 443.3,305.3 443.4,287.5 443.4,305.3 443.5,294.1 443.6,284.9 443.6,276.2 443.7,299.5 443.8,298.0 443.8,277.1 443.9,287.5 444.0,301.8 444.0,284.2 444.1,296.1 444.2,274.1 444.2,284.2 444.3,298.8 444.4,281.2 444.4,278.3 444.5,278.8 444.6,288.8 444.6,276.3 444.7,290.4 444.8,296.3 444.8,305.2 444.9,287.5 445.0,306.5 445.0,296.5 445.1,288.9 445.2,296.5 445.2,306.1 445.3,305.5 445.4,298.5 445.4,290.8 445.5,298.9 445.6,291.8 445.6,290.7 445.7,290.7 445.8,304.8 445.8,277.2 445.9,287.8 446.0,278.0 446.0,297.0 446.1,300.1 446.2,302.8 446.2,286.5 446.3,290.7 446.4,298.0 446.4,293.6 446.5,295.4 446.6,294.5 446.7,295.9 446.7,292.0 446.8,296.8 446.9,278.9 446.9,289.1 447.0,281.1 447.1,291.6 447.1,286.0 447.2,297.6 447.3,304.8 447.3,281.5 447.4,286.0 447.5,296.9 447.5,307.0 447.6,300.1 447.7,297.9 447.7,293.1 447.8,289.7 447.9,297.6 447.9,298.6 448.0,296.6 448.1,289.3 448.1,279.7 448.2,287.4 448.3,292.2 448.3,284.6 448.4,299.0 448.5,282.9 448.5,293.7 448.6,299.5 448.7,303.6 448.7,298.0 448.8,307.0 448.9,290.6 448.9,289.6 449.0,306.4 449.1,288.1 449.1,293.9 449.2,278.8 449.3,304.8 449.3,300.7 449.4,287.0 449.5,278.0 449.5,297.6 449.6,297.6 449.7,305.4 449.7,312.6 449.8,296.6 449.9,293.0 449.9,292.7 450.0,292.3 450.1,282.3 450.1,286.7 450.2,294.5 450.3,280.9 450.4,283.5 450.4,307.2 450.5,288.8 450.6,302.0 450.6,304.7 450.7,293.5 450.8,301.2 450.8,292.0 450.9,285.2 451.0,292.6 451.0,294.5 451.1,295.0 451.2,294.2 451.2,289.5 451.3,303.2 451.4,291.9 451.4,289.9 451.5,302.3 451.6,283.9 451.6,293.8 451.7,308.1 451.8,294.8 451.8,307.8 451.9,291.7 452.0,289.8 452.0,292.5 452.1,289.1 452.2,290.4 452.2,288.9 452.3,300.5 452.4,297.2 452.4,292.2 452.5,287.6 452.6,324.7 452.6,292.5 452.7,307.5 452.8,284.2 452.8,288.4 452.9,306.9 453.0,284.7 453.0,285.3 453.1,294.3 453.2,288.4 453.2,293.1 453.3,297.8 453.4,304.8 453.4,298.2 453.5,298.8 453.6,308.5 453.6,309.2 453.7,292.3 453.8,278.3 453.8,285.8 453.9,304.7 454.0,289.9 454.1,287.3 454.1,289.5 454.2,308.5 454.3,294.1 454.3,289.1 454.4,285.8 454.5,282.0 454.5,318.8 454.6,292.1 454.7,294.1 454.7,290.1 454.8,303.1 454.9,284.5 454.9,276.0 455.0,288.3 455.1,297.1 455.1,314.6 455.2,292.3 455.3,284.9 455.3,291.1 455.4,285.9 455.5,285.0 455.5,292.9 455.6,294.1 455.7,285.3 455.7,300.8 455.8,290.2 455.9,291.8 455.9,285.6 456.0,293.9 456.1,294.3 456.1,296.6 456.2,283.1 456.3,296.6 456.3,285.7 456.4,292.3 456.5,298.9 456.5,307.0 456.6,289.1 456.7,282.8 456.7,295.1 456.8,304.6 456.9,290.5 456.9,315.9 457.0,276.6 457.1,308.0 457.1,305.1 457.2,304.8 457.3,286.1 457.3,306.4 457.4,305.1 457.5,306.2 457.5,291.3 457.6,291.1 457.7,305.0 457.7,295.6 457.8,288.8 457.9,285.5 458.0,295.5 458.0,280.2 458.1,298.2 458.2,294.5 458.2,278.7 458.3,297.5 458.4,305.0 458.4,296.3 458.5,281.5 458.6,288.9 458.6,303.2 458.7,282.8 458.8,291.7 458.8,306.5 458.9,293.2 459.0,290.9 459.0,304.4 459.1,312.2 459.2,300.5 459.2,284.5 459.3,281.7 459.4,295.4 459.4,279.9 459.5,296.2 459.6,305.9 459.6,273.0 459.7,295.4 459.8,300.8 459.8,292.7 459.9,301.0 460.0,302.9 460.0,308.1 460.1,323.1 460.2,300.3 460.2,289.9 460.3,288.5 460.4,286.8 460.4,305.7 460.5,302.1 460.6,302.1 460.6,299.8 460.7,313.0 460.8,308.4 460.8,307.5 460.9,291.1 461.0,295.9 461.0,285.9 461.1,292.3 461.2,298.9 461.2,286.3 461.3,291.8 461.4,316.9 461.4,296.4 461.5,283.5 461.6,286.4 461.7,297.0 461.7,304.9 461.8,296.4 461.9,305.1 461.9,299.9 462.0,286.6 462.1,306.3 462.1,293.2 462.2,315.2 462.3,291.0 462.3,295.4 462.4,291.9 462.5,294.5 462.5,300.9 462.6,294.4 462.7,306.6 462.7,300.1 462.8,310.7 462.9,296.5 462.9,307.1 463.0,306.6 463.1,294.0 463.1,318.9 463.2,309.8 463.3,301.1 463.3,293.8 463.4,294.9 463.5,294.3 463.5,298.6 463.6,286.3 463.7,296.5 463.7,290.8 463.8,312.1 463.9,304.6 463.9,312.9 464.0,318.5 464.1,300.4 464.1,314.9 464.2,299.4 464.3,301.6 464.3,286.8 464.4,296.5 464.5,308.8 464.5,300.9 464.6,292.2 464.7,295.4 464.7,288.5 464.8,289.6 464.9,283.2 464.9,307.5 465.0,307.1 465.1,296.1 465.1,284.9 465.2,296.2 465.3,318.0 465.4,287.7 465.4,294.8 465.5,295.7 465.6,307.4 465.6,288.4 465.7,303.1 465.8,292.8 465.8,297.6 465.9,289.5 466.0,306.1 466.0,296.8 466.1,295.8 466.2,311.6 466.2,305.1 466.3,324.4 466.4,305.9 466.4,302.8 466.5,303.4 466.6,327.4 466.6,313.8 466.7,299.8 466.8,305.9 466.8,298.3 466.9,309.1 467.0,297.9 467.0,297.6 467.1,307.2 467.2,316.0 467.2,310.9 467.3,310.2 467.4,304.5 467.4,280.9 467.5,301.8 467.6,301.0 467.6,307.7 467.7,319.1 467.8,309.6 467.8,286.1 467.9,301.4 468.0,299.0 468.0,307.4 468.1,300.8 468.2,282.9 468.2,293.1 468.3,298.2 468.4,282.1 468.4,300.4 468.5,298.7 468.6,311.5 468.6,299.6 468.7,294.4 468.8,299.7 468.8,301.1 468.9,309.4 469.0,290.6 469.1,278.6 469.1,325.4 469.2,306.3 469.3,300.3 469.3,323.3 469.4,289.9 469.5,293.3 469.5,296.6 469.6,306.8 469.7,297.0 469.7,308.6 469.8,298.6 469.9,313.4 469.9,305.7 470.0,285.9 470.1,301.1 470.1,290.9 470.2,300.3 470.3,301.5 470.3,323.3 470.4,300.1 470.5,287.2 470.5,302.6 470.6,291.8 470.7,320.5 470.7,310.5 470.8,317.9 470.9,299.6 470.9,293.7 471.0,307.3 471.1,291.1 471.1,295.1 471.2,297.0 471.3,303.1 471.3,290.4 471.4,286.4 471.5,319.2 471.5,300.4 471.6,303.6 471.7,310.5 471.7,309.4 471.8,299.6 471.9,302.0 471.9,321.5 472.0,317.6 472.1,312.9 472.1,320.6 472.2,286.3 472.3,304.2 472.3,301.2 472.4,285.7 472.5,307.5 472.5,311.0 472.6,306.8 472.7,288.1 472.8,303.0 472.8,307.3 472.9,302.8 473.0,307.5 473.0,309.7 473.1,318.5 473.2,308.0 473.2,331.7 473.3,308.6 473.4,309.3 473.4,313.7 473.5,305.7 473.6,303.5 473.6,317.4 473.7,285.1 473.8,288.8 473.8,325.6 473.9,312.9 474.0,310.5 474.0,308.6 474.1,308.5 474.2,296.1 474.2,302.2 474.3,295.8 474.4,316.2 474.4,311.2 474.5,307.2 474.6,308.4 474.6,303.2 474.7,293.7 474.8,320.6 474.8,311.7 474.9,304.7 475.0,312.5 475.0,319.2 475.1,318.5 475.2,313.0 475.2,315.0 475.3,305.6 475.4,319.5 475.4,315.8 475.5,316.2 475.6,295.3 475.6,314.0 475.7,314.3 475.8,315.9 475.8,283.2 475.9,290.2 476.0,310.8 476.0,298.7 476.1,311.7 476.2,307.3 476.2,316.7 476.3,303.7 476.4,298.8 476.5,314.0 476.5,306.2 476.6,297.8 476.7,291.0 476.7,339.4 476.8,305.3 476.9,307.3 476.9,291.3 477.0,300.4 477.1,310.0 477.1,315.3 477.2,319.6 477.3,305.8 477.3,317.9 477.4,324.3 477.5,308.4 477.5,312.6 477.6,295.8 477.7,306.0 477.7,299.9 477.8,319.9 477.9,311.8 477.9,328.8 478.0,315.2 478.1,321.5 478.1,319.0 478.2,315.9 478.3,303.8 478.3,330.1 478.4,313.2 478.5,295.9 478.5,307.8 478.6,302.4 478.7,324.3 478.7,322.7 478.8,326.6 478.9,333.0 478.9,306.1 479.0,294.7 479.1,304.5 479.1,317.9 479.2,287.8 479.3,308.0 479.3,320.8 479.4,304.8 479.5,312.3 479.5,304.1 479.6,328.8 479.7,330.3 479.7,301.0 479.8,302.7 479.9,313.1 479.9,318.9 480.0,315.2 480.1,316.4 480.2,320.3 480.2,322.7 480.3,328.6 480.4,311.3 480.4,305.5 480.5,308.7 480.6,330.9 480.6,317.3 480.7,316.4 480.8,322.4 480.8,321.1 480.9,332.6 481.0,301.2 481.0,310.4 481.1,316.0 481.2,317.2 481.2,305.7 481.3,294.0 481.4,306.3 481.4,302.8 481.5,308.7 481.6,320.5 481.6,316.0 481.7,297.8 481.8,301.5 481.8,310.4 481.9,319.5 482.0,308.0 482.0,310.9 482.1,294.6 482.2,305.1 482.2,302.7 482.3,313.0 482.4,308.8 482.4,303.0 482.5,300.2 482.6,311.9 482.6,302.8 482.7,320.3 482.8,311.5 482.8,307.3 482.9,317.5 483.0,298.3 483.0,318.8 483.1,302.5 483.2,316.7 483.2,303.0 483.3,300.2 483.4,291.2 483.4,309.0 483.5,311.8 483.6,292.8 483.6,323.7 483.7,307.0 483.8,295.7 483.9,324.6 483.9,301.7 484.0,319.2 484.1,277.8 484.1,325.4 484.2,306.2 484.3,304.5 484.3,307.0 484.4,292.5 484.5,311.9 484.5,306.4 484.6,305.5 484.7,296.9 484.7,292.1 484.8,306.5 484.9,309.7 484.9,303.1 485.0,299.0 485.1,295.8 485.1,307.4 485.2,314.7 485.3,298.5 485.3,291.2 485.4,323.7 485.5,284.7 485.5,301.4 485.6,298.0 485.7,310.7 485.7,297.0 485.8,282.8 485.9,287.7 485.9,299.6 486.0,298.3 486.1,292.1 486.1,293.1 486.2,284.5 486.3,285.0 486.3,292.7 486.4,291.9 486.5,297.0 486.5,287.0 486.6,312.7 486.7,280.8 486.7,305.8 486.8,302.9 486.9,313.0 486.9,310.4 487.0,285.3 487.1,300.2 487.1,303.7 487.2,304.5 487.3,300.1 487.3,289.4 487.4,306.8 487.5,293.0 487.6,289.2 487.6,295.8 487.7,290.2 487.8,287.8 487.8,294.6 487.9,318.4 488.0,296.4 488.0,294.3 488.1,288.6 488.2,296.3 488.2,281.8 488.3,298.4 488.4,295.8 488.4,293.1 488.5,296.8 488.6,289.8 488.6,297.8 488.7,296.1 488.8,295.8 488.8,290.3 488.9,297.8 489.0,287.9 489.0,301.7 489.1,287.8 489.2,301.5 489.2,291.5 489.3,289.9 489.4,279.9 489.4,295.3 489.5,292.2 489.6,289.5 489.6,292.7 489.7,289.0 489.8,280.4 489.8,278.0 489.9,296.2 490.0,292.2 490.0,304.7 490.1,309.0 490.2,297.8 490.2,296.2 490.3,295.1 490.4,290.2 490.4,283.2 490.5,264.3 490.6,296.0 490.6,295.1 490.7,290.2 490.8,291.4 490.8,299.0 490.9,298.8 491.0,291.4 491.0,287.1 491.1,295.8 491.2,297.4 491.2,310.7 491.3,280.5 491.4,294.4 491.5,281.5 491.5,286.0 491.6,313.0 491.7,286.2 491.7,289.8 491.8,285.5 491.9,299.1 491.9,286.9 492.0,273.7 492.1,292.0 492.1,298.1 492.2,290.1 492.3,291.3 492.3,282.7 492.4,281.1 492.5,289.9 492.5,279.3 492.6,285.8 492.7,280.4 492.7,288.3 492.8,298.4 492.9,290.9 492.9,302.4 493.0,295.3 493.1,291.4 493.1,283.8 493.2,293.7 493.3,282.3 493.3,300.3 493.4,280.6 493.5,280.2 493.5,285.8 493.6,278.1 493.7,295.1 493.7,287.1 493.8,289.8 493.9,300.7 493.9,273.6 494.0,292.8 494.1,298.3 494.1,304.3 494.2,295.6 494.3,287.5 494.3,303.2 494.4,302.6 494.5,315.2 494.5,314.6 494.6,291.5 494.7,307.8 494.7,296.3 494.8,285.4 494.9,301.2 494.9,307.3 495.0,273.1 495.1,308.1 495.2,287.4 495.2,311.2 495.3,298.4 495.4,297.2 495.4,309.2 495.5,292.8 495.6,315.4 495.6,286.8 495.7,290.1 495.8,285.0 495.8,300.9 495.9,295.2 496.0,303.5 496.0,306.3 496.1,302.7 496.2,305.0 496.2,305.2 496.3,294.1 496.4,288.3 496.4,286.4 496.5,303.2 496.6,290.9 496.6,286.8 496.7,288.2 496.8,294.5 496.8,298.3 496.9,294.0 497.0,288.4 497.0,302.6 497.1,276.8 497.2,294.3 497.2,307.3 497.3,301.1 497.4,309.6 497.4,298.8 497.5,302.8 497.6,297.8 497.6,293.3 497.7,300.7 497.8,306.4 497.8,278.3 497.9,289.0 498.0,277.0 498.0,288.4 498.1,283.9 498.2,291.9 498.2,292.7 498.3,304.2 498.4,306.5 498.4,287.0 498.5,289.6 498.6,300.2 498.6,288.0 498.7,290.0 498.8,276.1 498.9,301.0 498.9,296.2 499.0,284.8 499.1,281.1 499.1,282.9 499.2,297.3 499.3,288.6 499.3,281.3 499.4,289.8 499.5,301.2 499.5,305.2 499.6,305.6 499.7,293.1 499.7,294.6 499.8,293.5 499.9,297.1 499.9,296.3 500.0,281.2 500.1,283.0 500.1,286.8 500.2,297.2 500.3,286.3 500.3,284.0 500.4,300.9 500.5,305.4 500.5,282.7 500.6,289.9 500.7,302.1 500.7,286.7 500.8,300.3 500.9,277.3 500.9,289.6 501.0,297.3 501.1,305.9 501.1,300.6 501.2,276.4 501.3,277.8 501.3,284.2 501.4,300.3 501.5,298.7 501.5,301.7 501.6,298.0 501.7,285.2 501.7,286.8 501.8,282.4 501.9,298.9 501.9,279.4 502.0,292.7 502.1,294.3 502.1,303.2 502.2,284.1 502.3,295.7 502.3,282.5 502.4,301.9 502.5,289.5 502.6,290.6 502.6,284.1 502.7,287.6 502.8,288.1 502.8,288.6 502.9,306.1 503.0,285.6 503.0,296.7 503.1,303.4 503.2,284.2 503.2,274.8 503.3,299.6 503.4,279.5 503.4,288.3 503.5,294.4 503.6,297.8 503.6,292.6 503.7,289.2 503.8,304.7 503.8,297.0 503.9,313.6 504.0,286.5 504.0,294.4 504.1,294.2 504.2,300.8 504.2,297.5 504.3,295.1 504.4,313.9 504.4,294.6 504.5,299.5 504.6,296.3 504.6,287.9 504.7,300.3 504.8,275.4 504.8,304.5 504.9,279.7 505.0,291.0 505.0,294.6 505.1,290.0 505.2,290.6 505.2,306.7 505.3,318.3 505.4,305.5 505.4,295.7 505.5,287.7 505.6,286.5 505.6,304.9 505.7,301.8 505.8,304.6 505.8,301.4 505.9,304.6 506.0,286.1 506.0,283.7 506.1,281.3 506.2,291.0 506.3,289.9 506.3,292.6 506.4,279.8 506.5,293.2 506.5,299.5 506.6,291.5 506.7,265.3 506.7,290.0 506.8,287.9 506.9,299.3 506.9,290.0 507.0,297.8 507.1,287.4 507.1,294.1 507.2,300.5 507.3,289.3 507.3,294.9 507.4,293.9 507.5,299.0 507.5,291.7 507.6,297.3 507.7,275.2 507.7,289.8 507.8,298.9 507.9,296.3 507.9,281.3 508.0,282.7 508.1,293.0 508.1,292.7 508.2,293.4 508.3,288.9 508.3,289.4 508.4,298.5 508.5,281.0 508.5,276.6 508.6,298.6 508.7,282.8 508.7,297.1 508.8,284.6 508.9,279.2 508.9,303.5 509.0,288.6 509.1,275.9 509.1,287.5 509.2,288.0 509.3,288.4 509.3,291.5 509.4,278.9 509.5,286.5 509.5,293.6 509.6,294.8 509.7,290.1 509.7,282.6 509.8,271.6 509.9,303.4 510.0,279.3 510.0,285.7 510.1,290.3 510.2,293.9 510.2,289.2 510.3,281.4 510.4,289.4 510.4,309.9 510.5,313.6 510.6,288.5 510.6,296.4 510.7,274.3 510.8,292.7 510.8,298.1 510.9,289.0 511.0,309.8 511.0,301.6 511.1,298.9 511.2,268.1 511.2,288.0 511.3,300.9 511.4,289.3 511.4,277.1 511.5,288.0 511.6,308.8 511.6,301.6 511.7,303.0 511.8,297.4 511.8,310.1 511.9,268.6 512.0,283.9 512.0,313.3 512.1,306.0 512.2,298.5 512.2,293.4 512.3,279.3 512.4,292.3 512.4,294.3 512.5,286.8 512.6,307.9 512.6,304.6 512.7,292.6 512.8,303.3 512.8,295.0 512.9,297.5 513.0,291.4 513.0,319.5 513.1,281.8 513.2,294.5 513.2,305.5 513.3,305.4 513.4,280.6 513.4,286.5 513.5,294.4 513.6,287.9 513.7,288.1 513.7,291.9 513.8,292.9 513.9,305.3 513.9,278.5 514.0,303.9 514.1,292.2 514.1,300.3 514.2,291.5 514.3,315.9 514.3,276.8 514.4,305.2 514.5,289.5 514.5,292.1 514.6,308.0 514.7,292.6 514.7,303.2 514.8,307.8 514.9,288.8 514.9,313.0 515.0,305.7 515.1,291.1 515.1,296.1 515.2,287.2 515.3,297.5 515.3,302.5 515.4,303.3 515.5,296.2 515.5,288.9 515.6,288.0 515.7,285.1 515.7,290.9 515.8,299.4 515.9,289.1 515.9,287.8 516.0,284.5 516.1,299.3 516.1,292.2 516.2,279.1 516.3,304.7 516.3,304.7 516.4,294.8 516.5,291.6 516.5,294.7 516.6,286.9 516.7,305.3 516.7,308.7 516.8,305.0 516.9,297.5 516.9,298.3 517.0,301.3 517.1,312.4 517.1,288.5 517.2,296.1 517.3,289.4 517.4,284.5 517.4,299.2 517.5,306.5 517.6,285.9 517.6,304.6 517.7,302.0 517.8,300.1 517.8,308.2 517.9,289.7 518.0,310.9 518.0,293.5 518.1,302.7 518.2,283.0 518.2,306.4 518.3,297.7 518.4,291.5 518.4,287.7 518.5,299.4 518.6,309.4 518.6,302.6 518.7,294.5 518.8,290.8 518.8,288.7 518.9,295.6 519.0,284.2 519.0,296.1 519.1,309.2 519.2,298.3 519.2,297.3 519.3,292.4 519.4,304.7 519.4,303.9 519.5,311.6 519.6,292.3 519.6,288.3 519.7,293.2 519.8,286.7 519.8,298.0 519.9,293.2 520.0,290.3 520.0,298.0 520.1,307.6 520.2,305.5 520.2,293.0 520.3,299.7 520.4,303.1 520.4,307.0 520.5,298.2 520.6,289.4 520.6,304.8 520.7,292.1 520.8,297.2 520.8,298.2 520.9,309.9 521.0,297.9 521.0,303.6 521.1,299.8 521.2,296.9 521.3,310.0 521.3,297.5 521.4,305.9 521.5,303.5 521.5,283.8 521.6,285.7 521.7,271.3 521.7,303.0 521.8,303.4 521.9,297.0 521.9,296.9 522.0,299.3 522.1,296.0 522.1,301.6 522.2,301.3 522.3,293.4 522.3,314.6 522.4,310.3 522.5,297.9 522.5,322.5 522.6,325.7 522.7,313.7 522.7,313.3 522.8,295.9 522.9,298.7 522.9,287.2 523.0,298.4 523.1,311.5 523.1,298.7 523.2,286.7 523.3,317.1 523.3,320.7 523.4,316.5 523.5,288.4 523.5,310.9 523.6,294.8 523.7,300.2 523.7,308.4 523.8,316.2 523.9,296.9 523.9,299.7 524.0,290.7 524.1,302.5 524.1,293.8 524.2,297.8 524.3,309.6 524.3,302.2 524.4,303.2 524.5,304.0 524.5,308.2 524.6,313.4 524.7,289.8 524.7,286.3 524.8,305.7 524.9,307.4 525.0,314.1 525.0,309.0 525.1,317.6 525.2,306.2 525.2,295.9 525.3,311.1 525.4,293.8 525.4,295.6 525.5,306.4 525.6,300.3 525.6,311.5 525.7,299.4 525.8,319.8 525.8,293.7 525.9,308.9 526.0,298.4 526.0,315.6 526.1,297.3 526.2,309.5 526.2,272.1 526.3,295.4 526.4,318.0 526.4,304.5 526.5,303.3 526.6,310.0 526.6,324.5 526.7,291.6 526.8,301.2 526.8,298.2 526.9,309.6 527.0,296.9 527.0,289.0 527.1,290.4 527.2,311.5 527.2,307.5 527.3,313.7 527.4,290.2 527.4,297.0 527.5,300.6 527.6,313.8 527.6,310.5 527.7,305.1 527.8,297.5 527.8,308.7 527.9,301.9 528.0,315.4 528.0,324.2 528.1,309.1 528.2,298.1 528.2,330.9 528.3,315.0 528.4,314.0 528.4,310.2 528.5,310.1 528.6,309.0 528.7,309.9 528.7,293.6 528.8,301.1 528.9,306.3 528.9,308.1 529.0,308.1 529.1,309.0 529.1,288.2 529.2,296.5 529.3,298.2 529.3,305.8 529.4,303.5 529.5,324.5 529.5,302.5 529.6,303.4 529.7,290.6 529.7,322.7 529.8,305.7 529.9,303.8 529.9,298.1 530.0,305.2 530.1,301.2 530.1,315.9 530.2,297.0 530.3,300.4 530.3,298.8 530.4,308.8 530.5,306.8 530.5,312.6 530.6,308.9 530.7,309.1 530.7,303.2 530.8,310.7 530.9,306.9 530.9,304.8 531.0,287.2 531.1,297.8 531.1,295.7 531.2,284.8 531.3,314.9 531.3,317.0 531.4,313.6 531.5,308.2 531.5,318.3 531.6,289.5 531.7,316.9 531.7,287.0 531.8,307.0 531.9,306.6 531.9,311.0 532.0,311.9 532.1,312.1 532.1,298.8 532.2,298.7 532.3,297.5 532.4,306.6 532.4,301.5 532.5,289.9 532.6,314.0 532.6,294.4 532.7,300.4 532.8,299.2 532.8,298.3 532.9,310.8 533.0,298.3 533.0,291.7 533.1,298.3 533.2,295.1 533.2,290.5 533.3,312.3 533.4,314.2 533.4,289.9 533.5,317.9 533.6,319.9 533.6,289.7 533.7,305.6 533.8,299.0 533.8,308.7 533.9,274.2 534.0,306.8 534.0,297.4 534.1,304.3 534.2,308.8 534.2,277.6 534.3,298.7 534.4,298.9 534.4,304.8 534.5,309.7 534.6,305.5 534.6,291.8 534.7,305.3 534.8,291.7 534.8,305.6 534.9,297.1 535.0,296.6 535.0,299.2 535.1,283.2 535.2,295.0 535.2,287.0 535.3,306.7 535.4,309.5 535.4,282.8 535.5,275.5 535.6,298.9 535.6,291.7 535.7,288.1 535.8,318.7 535.8,292.9 535.9,287.0 536.0,294.3 536.1,299.2 536.1,311.5 536.2,299.9 536.3,286.0 536.3,293.3 536.4,314.9 536.5,282.0 536.5,298.2 536.6,309.5 536.7,301.7 536.7,297.2 536.8,291.7 536.9,301.2 536.9,304.3 537.0,301.7 537.1,308.9 537.1,300.8 537.2,310.7 537.3,300.5 537.3,307.2 537.4,296.1 537.5,315.2 537.5,310.5 537.6,304.8 537.7,289.0 537.7,300.3 537.8,270.6 537.9,294.6 537.9,300.0 538.0,290.5 538.1,300.2 538.1,304.4 538.2,314.9 538.3,297.1 538.3,282.7 538.4,275.2 538.5,294.6 538.5,304.5 538.6,306.4 538.7,296.9 538.7,290.2 538.8,289.6 538.9,294.7 538.9,296.0 539.0,301.1 539.1,295.9 539.1,313.4 539.2,296.0 539.3,298.3 539.3,303.8 539.4,302.1 539.5,287.2 539.5,278.3 539.6,281.1 539.7,296.0 539.8,298.4 539.8,296.0 539.9,300.6 540.0,304.7 540.0,285.5 540.1,316.3 540.2,317.5 540.2,299.6 540.3,291.2 540.4,295.5 540.4,279.4 540.5,294.0 540.6,285.6 540.6,291.6 540.7,289.6 540.8,312.0 540.8,285.5 540.9,296.8 541.0,291.3 541.0,309.4 541.1,305.8 541.2,282.5 541.2,287.7 541.3,299.7 541.4,292.3 541.4,302.6 541.5,299.3 541.6,289.3 541.6,297.4 541.7,304.7 541.8,300.3 541.8,302.2 541.9,304.6 542.0,300.9 542.0,313.8 542.1,290.4 542.2,306.1 542.2,296.3 542.3,306.0 542.4,310.9 542.4,309.6 542.5,310.4 542.6,311.7 542.6,309.9 542.7,302.3 542.8,311.6 542.8,312.9 542.9,311.6 543.0,306.7 543.0,307.1 543.1,286.2 543.2,296.5 543.2,302.9 543.3,314.2 543.4,316.1 543.5,305.9 543.5,293.8 543.6,308.6 543.7,312.9 543.7,311.1 543.8,296.8 543.9,292.8 543.9,294.8 544.0,293.5 544.1,311.7 544.1,305.2 544.2,322.4 544.3,317.1 544.3,310.8 544.4,294.6 544.5,307.6 544.5,306.0 544.6,288.8 544.7,289.8 544.7,295.2 544.8,314.3 544.9,299.5 544.9,291.0 545.0,304.9 545.1,309.2 545.1,292.7 545.2,322.2 545.3,297.3 545.3,314.9 545.4,312.3 545.5,299.1 545.5,306.1 545.6,307.9 545.7,304.0 545.7,313.2 545.8,307.5 545.9,290.5 545.9,307.7 546.0,295.8 546.1,304.7 546.1,309.3 546.2,306.3 546.3,316.2 546.3,305.7 546.4,302.0 546.5,321.7 546.5,313.1 546.6,305.7 546.7,307.7 546.7,304.7 546.8,308.8 546.9,299.2 546.9,325.3 547.0,320.5 547.1,288.2 547.2,299.4 547.2,307.4 547.3,300.8 547.4,287.8 547.4,314.1 547.5,295.7 547.6,313.4 547.6,310.8 547.7,320.4 547.8,298.0 547.8,322.4 547.9,294.2 548.0,319.1 548.0,314.2 548.1,307.8 548.2,293.3 548.2,318.4 548.3,311.1 548.4,287.4 548.4,279.4 548.5,296.6 548.6,295.4 548.6,309.4 548.7,303.9 548.8,305.8 548.8,297.4 548.9,311.1 549.0,297.4 549.0,288.5 549.1,279.5 549.2,307.7 549.2,297.5 549.3,286.1 549.4,293.4 549.4,297.5 549.5,308.1 549.6,281.8 549.6,297.9 549.7,309.0 549.8,305.9 549.8,309.1 549.9,319.5 550.0,293.7 550.0,294.6 550.1,310.5 550.2,315.9 550.2,303.3 550.3,296.8 550.4,288.7 550.4,305.8 550.5,303.2 550.6,289.4 550.6,295.0 550.7,290.9 550.8,305.8 550.8,299.6 550.9,312.7 551.0,313.4 551.1,304.0 551.1,312.2 551.2,310.9 551.3,315.0 551.3,296.9 551.4,307.6 551.5,318.5 551.5,307.9 551.6,297.8 551.7,304.1 551.7,324.0 551.8,299.0 551.9,296.7 551.9,311.7 552.0,300.1 552.1,288.5 552.1,287.7 552.2,302.4 552.3,296.0 552.3,315.5 552.4,295.4 552.5,288.9 552.5,295.6 552.6,291.6 552.7,314.0 552.7,296.3 552.8,317.4 552.9,308.5 552.9,322.7 553.0,302.9 553.1,312.8 553.1,285.3 553.2,301.5 553.3,298.6 553.3,315.8 553.4,304.0 553.5,311.4 553.5,297.8 553.6,292.2 553.7,303.6 553.7,317.6 553.8,304.5 553.9,319.7 553.9,301.6 554.0,301.4 554.1,300.6 554.1,301.1 554.2,296.8 554.3,300.8 554.3,294.9 554.4,292.0 554.5,315.6 554.5,309.1 554.6,297.2 554.7,293.4 554.8,284.5 554.8,305.4 554.9,293.1 555.0,317.3 555.0,282.4 555.1,302.1 555.2,310.1 555.2,292.6 555.3,317.4 555.4,307.4 555.4,307.4 555.5,290.6 555.6,307.9 555.6,307.4 555.7,298.9 555.8,314.0 555.8,299.5 555.9,274.0 556.0,298.5 556.0,312.3 556.1,290.0 556.2,302.6 556.2,289.4 556.3,295.4 556.4,269.7 556.4,277.0 556.5,291.1 556.6,288.6 556.6,276.3 556.7,300.5 556.8,297.1 556.8,285.8 556.9,274.5 557.0,299.9 557.0,290.5 557.1,302.4 557.2,307.0 557.2,293.0 557.3,294.0 557.4,303.4 557.4,293.9 557.5,277.3 557.6,301.7 557.6,299.5 557.7,291.1 557.8,301.0 557.8,292.2 557.9,292.4 558.0,303.6 558.0,283.3 558.1,280.9 558.2,294.4 558.2,284.2 558.3,305.6 558.4,290.4 558.5,280.4 558.5,293.0 558.6,276.3 558.7,311.0 558.7,298.5 558.8,304.7 558.9,303.4 558.9,300.4 559.0,288.8 559.1,306.0 559.1,295.4 559.2,291.8 559.3,279.8 559.3,311.6 559.4,297.1 559.5,295.9 559.5,282.2 559.6,308.7 559.7,298.0 559.7,308.4 559.8,298.4 559.9,289.6 559.9,302.9 560.0,282.4 560.1,282.9 560.1,297.4 560.2,305.1 560.3,309.3 560.3,297.6 560.4,297.2 560.5,301.3 560.5,297.7 560.6,295.5 560.7,305.6 560.7,296.3 560.8,299.6 560.9,312.4 560.9,302.4 561.0,295.2 561.1,306.8 561.1,299.5 561.2,307.2 561.3,293.0 561.3,294.3 561.4,287.5 561.5,312.0 561.5,314.7 561.6,313.2 561.7,305.4 561.7,303.9 561.8,300.3 561.9,307.7 561.9,299.9 562.0,291.8 562.1,310.9 562.2,310.0 562.2,306.1 562.3,301.4 562.4,299.1 562.4,303.1 562.5,304.3 562.6,292.3 562.6,299.5 562.7,293.9 562.8,314.1 562.8,290.5 562.9,291.7 563.0,294.9 563.0,304.5 563.1,294.3 563.2,319.1 563.2,309.1 563.3,278.5 563.4,302.3 563.4,302.8 563.5,287.1 563.6,298.1 563.6,299.7 563.7,292.7 563.8,297.6 563.8,301.1 563.9,293.0 564.0,296.5 564.0,285.2 564.1,302.0 564.2,289.5 564.2,306.8 564.3,314.2 564.4,310.6 564.4,290.4 564.5,298.8 564.6,292.2 564.6,299.5 564.7,287.5 564.8,285.9 564.8,294.8 564.9,288.0 565.0,306.4 565.0,301.4 565.1,297.2 565.2,291.8 565.2,291.2 565.3,301.5 565.4,293.9 565.4,293.9 565.5,311.6 565.6,295.7 565.6,291.2 565.7,292.2 565.8,306.7 565.9,290.0 565.9,290.4 566.0,305.6 566.1,306.0 566.1,308.1 566.2,287.3 566.3,299.8 566.3,290.5 566.4,299.9 566.5,281.1 566.5,294.7 566.6,307.6 566.7,299.9 566.7,275.2 566.8,306.6 566.9,301.8 566.9,295.8 567.0,298.2 567.1,295.5 567.1,309.0 567.2,297.7 567.3,283.0 567.3,289.9 567.4,312.6 567.5,308.6 567.5,305.3 567.6,290.6 567.7,303.5 567.7,307.6 567.8,299.5 567.9,306.3 567.9,310.6 568.0,309.6 568.1,303.8 568.1,303.6 568.2,287.6 568.3,295.6 568.3,306.3 568.4,313.8 568.5,299.2 568.5,306.6 568.6,296.2 568.7,287.6 568.7,301.8 568.8,302.3 568.9,289.4 568.9,289.9 569.0,298.8 569.1,293.3 569.1,302.9 569.2,285.0 569.3,304.9 569.3,291.7 569.4,301.6 569.5,284.6 569.6,307.5 569.6,300.5 569.7,319.1 569.8,283.2 569.8,283.0 569.9,307.1 570.0,309.3 570.0,284.2 570.1,306.6 570.2,309.7 570.2,314.3 570.3,302.0 570.4,286.1 570.4,283.6 570.5,322.0 570.6,306.2 570.6,311.4 570.7,299.1 570.8,299.2 570.8,299.0 570.9,291.8 571.0,298.7 571.0,290.4 571.1,297.5 571.2,312.2 571.2,303.1 571.3,296.3 571.4,318.6 571.4,313.8 571.5,301.9 571.6,284.7 571.6,313.6 571.7,313.9 571.8,296.3 571.8,315.8 571.9,295.2 572.0,300.5 572.0,298.5 572.1,304.2 572.2,301.5 572.2,316.0 572.3,299.2 572.4,306.6 572.4,302.2 572.5,303.4 572.6,293.2 572.6,300.1 572.7,313.7 572.8,308.2 572.8,289.5 572.9,296.8 573.0,291.3 573.0,294.5 573.1,294.4 573.2,289.0 573.3,304.2 573.3,308.4 573.4,301.8 573.5,296.1 573.5,302.6 573.6,294.7 573.7,311.6 573.7,323.8 573.8,275.6 573.9,304.3 573.9,301.1 574.0,303.4 574.1,299.8 574.1,288.3 574.2,302.2 574.3,299.7 574.3,301.4 574.4,302.2 574.5,298.4 574.5,324.1 574.6,290.4 574.7,298.2 574.7,290.3 574.8,300.1 574.9,315.9 574.9,301.6 575.0,294.6 575.1,289.9 575.1,308.8 575.2,297.2 575.3,309.9 575.3,297.5 575.4,299.5 575.5,304.1 575.5,289.9 575.6,316.3 575.7,294.4 575.7,306.2 575.8,309.3 575.9,326.5 575.9,309.9 576.0,313.4 576.1,300.4 576.1,303.2 576.2,304.0 576.3,314.1 576.3,295.0 576.4,308.4 576.5,332.2 576.5,296.6 576.6,287.8 576.7,299.2 576.7,301.6 576.8,318.4 576.9,307.7 577.0,314.2 577.0,296.9 577.1,302.8 577.2,306.0 577.2,295.1 577.3,305.9 577.4,300.8 577.4,305.0 577.5,289.9 577.6,283.5 577.6,314.3 577.7,301.9 577.8,300.5 577.8,325.4 577.9,310.1 578.0,305.3 578.0,295.1 578.1,304.3 578.2,302.5 578.2,297.2 578.3,312.5 578.4,306.7 578.4,305.1 578.5,292.4 578.6,294.2 578.6,310.5 578.7,302.2 578.8,295.1 578.8,304.7 578.9,302.7 579.0,298.0 579.0,300.7 579.1,309.4 579.2,306.4 579.2,294.8 579.3,297.1 579.4,307.9 579.4,295.7 579.5,306.9 579.6,304.4 579.6,293.6 579.7,283.1 579.8,298.1 579.8,305.2 579.9,305.3 580.0,317.5 580.0,305.9 580.1,304.5 580.2,308.4 580.2,300.8 580.3,321.7 580.4,300.0 580.4,296.9 580.5,300.2 580.6,316.9 580.6,300.1 580.7,298.1 580.8,311.2 580.9,317.0 580.9,301.8 581.0,312.3 581.1,299.1 581.1,318.2 581.2,295.3 581.3,302.2 581.3,300.8 581.4,297.0 581.5,305.1 581.5,311.5 581.6,297.6 581.7,322.5 581.7,307.1 581.8,308.3 581.9,297.1 581.9,304.3 582.0,312.7 582.1,294.8 582.1,297.8 582.2,296.0 582.3,290.9 582.3,308.7 582.4,295.8 582.5,318.4 582.5,291.4 582.6,299.6 582.7,302.5 582.7,293.1 582.8,283.4 582.9,297.5 582.9,303.9 583.0,295.5 583.1,307.1 583.1,288.7 583.2,308.5 583.3,325.6 583.3,314.8 583.4,315.9 583.5,302.4 583.5,301.9 583.6,317.0 583.7,303.1 583.7,312.1 583.8,297.5 583.9,310.1 583.9,308.9 584.0,286.9 584.1,304.7 584.1,311.2 584.2,310.9 584.3,309.2 584.3,318.0 584.4,305.0 584.5,297.9 584.6,314.1 584.6,325.3 584.7,302.2 584.8,319.3 584.8,304.2 584.9,292.4 585.0,298.6 585.0,298.4 585.1,317.3 585.2,307.1 585.2,300.8 585.3,307.8 585.4,319.8 585.4,305.8 585.5,299.4 585.6,310.0 585.6,299.5 585.7,311.6 585.8,316.4 585.8,307.8 585.9,302.0 586.0,306.8 586.0,293.2 586.1,320.7 586.2,328.2 586.2,306.2 586.3,286.8 586.4,301.0 586.4,294.6 586.5,290.3 586.6,306.4 586.6,306.0 586.7,301.5 586.8,318.4 586.8,307.7 586.9,298.9 587.0,312.3 587.0,297.0 587.1,305.8 587.2,302.3 587.2,312.1 587.3,307.1 587.4,304.2 587.4,312.1 587.5,313.3 587.6,311.1 587.6,319.1 587.7,299.5 587.8,313.0 587.8,324.8 587.9,310.2 588.0,289.6 588.0,319.7 588.1,308.9 588.2,317.4 588.3,313.1 588.3,315.4 588.4,321.3 588.5,311.0 588.5,317.3 588.6,298.1 588.7,301.8 588.7,308.7 588.8,324.1 588.9,301.8 588.9,306.5 589.0,316.2 589.1,304.8 589.1,297.4 589.2,291.0 589.3,316.8 589.3,299.0 589.4,312.4 589.5,314.2 589.5,300.7 589.6,313.9 589.7,289.9 589.7,308.2 589.8,299.7 589.9,310.4 589.9,310.2 590.0,309.5 590.1,313.8 590.1,302.0 590.2,294.8 590.3,296.6 590.3,317.5 590.4,297.7 590.5,303.9 590.5,310.8 590.6,306.1 590.7,298.2 590.7,288.5 590.8,317.1 590.9,302.6 590.9,293.4 591.0,303.0 591.1,309.2 591.1,289.9 591.2,309.8 591.3,308.3 591.3,312.0 591.4,307.3 591.5,298.8 591.5,292.3 591.6,305.7 591.7,302.5 591.7,321.9 591.8,305.2 591.9,311.5 592.0,308.5 592.0,291.2 592.1,315.8 592.2,305.2 592.2,296.1 592.3,313.6 592.4,321.1 592.4,308.6 592.5,306.9 592.6,304.2 592.6,306.5 592.7,321.1 592.8,311.6 592.8,315.0 592.9,316.7 593.0,284.2 593.0,313.2 593.1,317.6 593.2,314.9 593.2,299.2 593.3,305.6 593.4,318.9 593.4,315.5 593.5,315.7 593.6,301.3 593.6,314.4 593.7,325.1" fill="none" stroke="#2340ff" stroke-opacity="0.85" stroke-width="0.6"/>
<polyline points="353.3,39.8 353.4,43.8 353.5,49.1 353.6,55.5 353.7,62.9 353.8,71.1 354.0,80.0 354.2,90.5 354.4,103.0 354.7,116.4 354.9,129.4 355.2,141.0 355.5,150.0 355.8,156.2 356.1,160.4 356.4,163.2 356.7,165.1 357.0,166.7 357.3,168.4 357.6,170.2 357.8,171.6 358.1,172.7 358.3,173.4 358.6,173.9 359.0,174.0 359.4,173.6 359.9,172.5 360.4,171.1 360.9,169.8 361.4,168.8 361.9,168.4 362.4,168.9 362.8,170.0 363.3,171.4 363.7,172.9 364.2,174.1 364.6,174.8 365.0,174.9 365.4,174.6 365.8,174.0 366.2,173.3 366.6,172.6 367.0,172.0 367.5,171.4 368.0,170.8 368.6,170.2 369.1,169.6 369.6,169.0 370.0,168.4 370.3,167.8 370.6,167.0 370.8,166.3 371.0,165.8 371.2,165.5 371.5,165.7 371.8,166.7 372.1,168.4 372.5,170.4 372.8,172.3 373.2,173.6 373.7,173.9 374.3,172.9 374.9,170.9 375.6,168.4 376.3,165.6 376.9,163.0 377.4,161.0 377.8,159.3 378.1,157.4 378.4,155.8 378.6,154.6 378.9,154.1 379.2,154.7 379.6,157.1 380.0,161.1 380.5,166.0 381.0,170.5 381.5,173.8 382.0,174.8 382.6,172.6 383.2,167.7 383.8,161.6 384.4,155.5 385.0,150.9 385.6,149.0 386.1,150.6 386.5,154.9 387.0,160.5 387.4,166.4 387.8,171.2 388.3,173.9 388.8,173.9 389.4,172.1 389.9,169.3 390.5,166.3 391.1,164.0 391.6,163.0 392.1,164.0 392.6,166.5 393.1,169.5 393.6,172.4 394.2,174.1 394.7,173.9 395.3,170.8 395.9,165.3 396.6,158.7 397.2,152.4 397.8,147.5 398.4,145.6 398.9,147.3 399.3,151.7 399.8,157.7 400.2,164.1 400.6,169.5 401.0,173.0 401.4,174.5 401.9,174.9 402.3,174.5 402.8,173.5 403.2,171.9 403.8,170.0 404.4,167.0 405.1,162.6 405.9,157.8 406.6,153.3 407.4,150.1 408.0,149.0 408.5,151.1 409.0,155.8 409.4,161.9 409.9,167.8 410.4,172.2 411.0,173.9 411.7,171.7 412.5,166.5 413.4,159.9 414.3,153.3 415.2,148.3 416.0,146.5 416.8,148.9 417.5,154.7 418.2,162.1 418.9,169.3 419.6,174.7 420.3,176.6 421.0,174.3 421.7,169.2 422.3,162.2 422.9,154.5 423.5,147.1 424.0,141.0 424.4,135.4 424.7,129.3 425.0,123.5 425.2,118.8 425.4,116.2 425.7,116.4 426.0,120.7 426.3,128.5 426.6,138.4 426.9,148.8 427.2,158.1 427.6,164.7 428.0,168.7 428.4,171.3 428.9,172.9 429.4,173.6 429.8,173.9 430.3,173.9 430.7,173.2 431.2,171.5 431.6,169.2 432.0,167.0 432.5,165.3 433.0,164.7 433.5,165.5 434.1,167.3 434.7,169.7 435.4,172.1 436.0,174.0 436.7,174.8 437.4,174.2 438.2,172.5 438.9,170.3 439.7,168.1 440.5,166.4 441.2,165.7 441.9,166.8 442.5,169.3 443.1,172.4 443.7,174.9 444.3,176.1 444.9,174.8 445.5,170.3 446.2,163.1 446.8,154.5 447.4,145.6 448.0,137.7 448.5,132.0 448.9,128.0 449.2,124.6 449.5,122.2 449.8,121.0 450.1,121.4 450.4,123.7 450.8,129.3 451.2,138.4 451.6,149.0 452.0,159.4 452.5,167.7 453.0,172.0 453.6,171.2 454.2,166.5 454.9,159.7 455.6,152.6 456.2,147.0 456.8,144.7 457.3,146.5 457.8,151.1 458.2,157.2 458.6,163.5 459.0,168.9 459.5,172.0 460.0,172.5 460.6,171.3 461.2,169.0 461.8,166.6 462.4,164.6 463.0,163.8 463.6,164.8 464.2,167.0 464.7,169.7 465.3,172.1 465.9,173.4 466.4,173.0 466.9,169.8 467.4,164.2 467.8,157.6 468.3,151.3 468.8,146.6 469.3,144.8 469.9,146.8 470.7,151.7 471.4,158.2 472.2,165.1 472.9,170.9 473.4,174.5 473.8,175.5 474.1,175.0 474.3,173.5 474.5,171.6 474.7,169.9 474.9,169.0 475.1,169.2 475.4,170.0 475.6,171.1 475.8,171.9 476.1,172.2 476.4,171.4 476.8,169.0 477.2,165.0 477.7,160.5 478.2,156.2 478.7,153.2 479.2,152.2 479.7,154.1 480.1,158.4 480.6,163.9 481.1,169.4 481.5,173.7 482.0,175.7 482.5,175.2 482.9,173.1 483.4,169.8 483.9,165.8 484.4,161.7 484.8,157.8 485.2,153.5 485.7,148.2 486.1,142.7 486.5,137.8 486.9,134.3 487.3,133.0 487.7,134.4 488.0,138.0 488.4,143.1 488.7,148.7 489.1,154.1 489.5,158.4 489.9,162.3 490.3,166.4 490.8,170.3 491.2,173.4 491.7,175.4 492.2,175.7 492.8,174.2 493.4,171.4 494.0,167.4 494.6,162.3 495.2,156.4 495.7,149.7 496.1,140.6 496.4,128.7 496.7,115.9 497.0,104.2 497.2,95.6 497.5,92.2 497.8,95.2 498.0,103.4 498.2,114.8 498.4,127.2 498.7,138.7 499.0,147.3 499.4,153.4 499.9,158.6 500.4,163.0 500.9,166.3 501.4,168.5 501.9,169.5 502.3,168.3 502.7,165.0 503.1,160.4 503.4,155.9 503.8,152.4 504.3,151.0 504.8,152.4 505.4,155.9 506.0,160.4 506.6,164.9 507.2,168.5 507.7,170.0 508.2,169.3 508.6,167.0 509.0,163.7 509.4,160.0 509.7,156.4 510.1,153.4 510.4,150.8 510.8,148.0 511.1,145.3 511.4,143.0 511.7,141.3 512.0,140.5 512.3,140.8 512.6,142.0 512.9,143.8 513.2,145.9 513.5,148.2 513.8,150.4 514.1,152.8 514.5,155.9 514.8,159.0 515.2,161.8 515.6,163.8 516.0,164.6 516.4,163.8 516.9,161.6 517.4,158.7 517.9,155.5 518.4,152.5 518.8,150.4 519.2,148.8 519.5,147.1 519.8,145.7 520.2,144.9 520.5,144.9 520.9,146.0 521.3,149.4 521.7,155.0 522.2,161.4 522.7,167.3 523.2,171.1 523.7,171.4 524.3,166.7 524.9,157.7 525.6,146.7 526.2,135.9 526.9,127.4 527.5,123.5 528.1,125.3 528.7,131.2 529.3,139.5 529.9,148.3 530.4,155.8 530.9,160.2 531.3,161.3 531.5,160.5 531.8,158.5 532.0,155.7 532.2,152.8 532.4,150.4 532.7,148.1 532.9,145.4 533.2,142.6 533.4,140.0 533.7,137.9 534.0,136.5 534.3,135.8 534.6,135.5 534.9,135.8 535.3,136.5 535.6,137.9 536.0,140.0 536.4,143.7 536.9,149.1 537.4,155.1 537.8,160.7 538.3,164.7 538.7,166.0 539.1,163.5 539.4,157.8 539.7,150.5 540.0,143.2 540.3,137.7 540.7,135.5 541.1,138.4 541.6,145.4 542.1,154.1 542.6,162.1 543.1,166.8 543.6,166.0 544.1,158.0 544.7,144.4 545.3,127.6 545.8,110.0 546.4,94.0 546.8,82.0 547.2,73.8 547.5,67.6 547.7,62.9 548.0,59.5 548.2,57.0 548.4,55.0 548.6,53.5 548.7,52.6 548.9,52.7 549.0,53.8 549.1,56.2 549.3,60.0 549.5,65.6 549.6,72.9 549.8,81.4 550.0,90.7 550.2,100.4 550.5,110.0 550.8,121.2 551.1,134.5 551.4,148.3 551.8,160.5 552.2,169.4 552.6,173.0 553.1,168.9 553.7,158.2 554.3,144.0 554.9,129.8 555.5,118.8 555.9,114.4 556.2,118.2 556.4,128.0 556.6,141.1 556.7,154.6 556.9,165.8 557.1,172.0 557.4,172.1 557.6,168.2 557.9,162.0 558.2,155.3 558.6,149.9 558.9,147.7 559.3,149.6 559.7,154.5 560.1,160.7 560.5,166.6 560.9,170.8 561.3,171.5 561.7,168.5 562.0,162.9 562.4,155.6 562.8,147.1 563.1,138.3 563.5,130.0 563.9,121.2 564.3,111.1 564.7,100.7 565.1,90.9 565.5,82.7 565.8,77.0 566.0,74.4 566.2,74.3 566.4,75.8 566.5,78.0 566.7,80.0 566.8,81.0 567.0,80.6 567.1,79.6 567.2,78.3 567.4,77.4 567.5,77.5 567.7,79.0 567.9,81.9 568.0,85.7 568.2,90.5 568.4,96.1 568.6,102.7 568.8,110.0 569.1,119.5 569.4,131.5 569.7,144.3 570.0,156.4 570.4,166.2 570.8,172.0 571.2,173.5 571.6,172.0 572.1,168.1 572.5,162.7 573.0,156.4 573.5,150.0 574.0,142.1 574.6,131.8 575.1,120.6 575.7,110.2 576.2,102.2 576.6,98.0 576.9,98.6 577.2,102.8 577.4,109.3 577.6,116.8 577.8,124.2 578.0,130.0 578.3,134.6 578.5,139.2 578.8,143.5 579.1,147.4 579.3,150.9 579.6,153.7 579.8,155.7 580.1,156.9 580.3,157.6 580.5,158.2 580.7,158.9 581.0,160.0 581.3,162.0 581.6,164.8 582.0,167.8 582.4,170.2 582.7,171.5 583.1,171.0 583.5,167.6 583.8,161.7 584.2,154.5 584.5,147.7 584.9,142.6 585.2,140.7 585.5,143.0 585.8,148.7 586.1,156.1 586.5,163.7 586.8,169.7 587.2,172.6 587.7,171.8 588.3,168.4 588.9,163.5 589.5,158.2 590.0,153.5 590.3,150.5" fill="none" stroke="#6f84f0" stroke-width="0.85" stroke-linejoin="round"/>
<rect x="71.8" y="17.4" width="243.4" height="169.6" fill="none" stroke="#555" stroke-width="1.4"/>
<path d="M71.8 187.0v3M71.8 17.4v3M120.5 187.0v3M120.5 17.4v3M169.2 187.0v3M169.2 17.4v3M217.8 187.0v3M217.8 17.4v3M266.5 187.0v3M266.5 17.4v3M315.2 187.0v3M315.2 17.4v3M96.1 187.0v1.8M96.1 17.4v1.8M144.8 187.0v1.8M144.8 17.4v1.8M193.5 187.0v1.8M193.5 17.4v1.8M242.2 187.0v1.8M242.2 17.4v1.8M290.9 187.0v1.8M290.9 17.4v1.8M71.8 187.0h-3M315.2 187.0h-3M71.8 153.1h-3M315.2 153.1h-3M71.8 119.2h-3M315.2 119.2h-3M71.8 85.2h-3M315.2 85.2h-3M71.8 51.3h-3M315.2 51.3h-3M71.8 17.4h-3M315.2 17.4h-3M71.8 170.0h-1.8M315.2 170.0h-1.8M71.8 136.1h-1.8M315.2 136.1h-1.8M71.8 102.2h-1.8M315.2 102.2h-1.8M71.8 68.3h-1.8M315.2 68.3h-1.8M71.8 34.4h-1.8M315.2 34.4h-1.8" stroke="#555" stroke-width="1.25" fill="none"/>
<rect x="353.3" y="17.6" width="242.7" height="169.9" fill="none" stroke="#555" stroke-width="1.4"/>
<path d="M353.3 187.5v3M353.3 17.6v3M407.2 187.5v3M407.2 17.6v3M461.2 187.5v3M461.2 17.6v3M515.1 187.5v3M515.1 17.6v3M569.0 187.5v3M569.0 17.6v3M380.3 187.5v1.8M380.3 17.6v1.8M434.2 187.5v1.8M434.2 17.6v1.8M488.1 187.5v1.8M488.1 17.6v1.8M542.1 187.5v1.8M542.1 17.6v1.8M353.3 187.5h-3M596.0 187.5h-3M353.3 164.9h-3M596.0 164.9h-3M353.3 142.4h-3M596.0 142.4h-3M353.3 119.8h-3M596.0 119.8h-3M353.3 97.2h-3M596.0 97.2h-3M353.3 74.6h-3M596.0 74.6h-3M353.3 52.1h-3M596.0 52.1h-3M353.3 29.5h-3M596.0 29.5h-3M353.3 176.2h-1.8M596.0 176.2h-1.8M353.3 153.6h-1.8M596.0 153.6h-1.8M353.3 131.1h-1.8M596.0 131.1h-1.8M353.3 108.5h-1.8M596.0 108.5h-1.8M353.3 85.9h-1.8M596.0 85.9h-1.8M353.3 63.4h-1.8M596.0 63.4h-1.8M353.3 40.8h-1.8M596.0 40.8h-1.8" stroke="#555" stroke-width="1.25" fill="none"/>
<rect x="72.7" y="218.0" width="243.8" height="170.0" fill="none" stroke="#555" stroke-width="1.4"/>
<path d="M72.7 388.0v3M72.7 218.0v3M121.5 388.0v3M121.5 218.0v3M170.2 388.0v3M170.2 218.0v3M219.0 388.0v3M219.0 218.0v3M267.7 388.0v3M267.7 218.0v3M316.5 388.0v3M316.5 218.0v3M97.1 388.0v1.8M97.1 218.0v1.8M145.8 388.0v1.8M145.8 218.0v1.8M194.6 388.0v1.8M194.6 218.0v1.8M243.4 388.0v1.8M243.4 218.0v1.8M292.1 388.0v1.8M292.1 218.0v1.8M72.7 388.0h-3M316.5 388.0h-3M72.7 357.1h-3M316.5 357.1h-3M72.7 326.1h-3M316.5 326.1h-3M72.7 295.2h-3M316.5 295.2h-3M72.7 264.2h-3M316.5 264.2h-3M72.7 233.3h-3M316.5 233.3h-3M72.7 372.5h-1.8M316.5 372.5h-1.8M72.7 341.6h-1.8M316.5 341.6h-1.8M72.7 310.7h-1.8M316.5 310.7h-1.8M72.7 279.7h-1.8M316.5 279.7h-1.8M72.7 248.8h-1.8M316.5 248.8h-1.8" stroke="#555" stroke-width="1.25" fill="none"/>
<rect x="351.3" y="217.5" width="242.7" height="169.7" fill="none" stroke="#555" stroke-width="1.4"/>
<path d="M351.3 387.2v3M351.3 217.5v3M399.8 387.2v3M399.8 217.5v3M448.4 387.2v3M448.4 217.5v3M496.9 387.2v3M496.9 217.5v3M545.5 387.2v3M545.5 217.5v3M594.0 387.2v3M594.0 217.5v3M375.6 387.2v1.8M375.6 217.5v1.8M424.1 387.2v1.8M424.1 217.5v1.8M472.6 387.2v1.8M472.6 217.5v1.8M521.2 387.2v1.8M521.2 217.5v1.8M569.7 387.2v1.8M569.7 217.5v1.8M351.3 387.2h-3M594.0 387.2h-3M351.3 356.2h-3M594.0 356.2h-3M351.3 325.3h-3M594.0 325.3h-3M351.3 294.3h-3M594.0 294.3h-3M351.3 263.4h-3M594.0 263.4h-3M351.3 232.4h-3M594.0 232.4h-3M351.3 371.7h-1.8M594.0 371.7h-1.8M351.3 340.8h-1.8M594.0 340.8h-1.8M351.3 309.8h-1.8M594.0 309.8h-1.8M351.3 278.8h-1.8M594.0 278.8h-1.8M351.3 247.9h-1.8M594.0 247.9h-1.8" stroke="#555" stroke-width="1.25" fill="none"/>
<path d="M353.3 39.5V160" stroke="#4d5298" stroke-width="1.2"/>
<path d="M71.9 148V186.5" stroke="#52528a" stroke-width="1.2"/>
<text x="63.4" y="11.4" font-size="12.0" font-weight="normal" text-anchor="middle" fill="#111" stroke="#111" stroke-width="0.3">a</text>
<text x="344.9" y="11.7" font-size="12.0" font-weight="normal" text-anchor="middle" fill="#111" stroke="#111" stroke-width="0.3">d</text>
<text x="65.0" y="212.6" font-size="12.0" font-weight="normal" text-anchor="middle" fill="#111" stroke="#111" stroke-width="0.3">e</text>
<text x="342.8" y="211.2" font-size="12.0" font-weight="normal" text-anchor="middle" fill="#111" stroke="#111" stroke-width="0.3">b</text>
<text x="0" y="0" transform="translate(66.60 189.50) scale(0.930 1.000)" font-size="8.6" font-weight="bold" text-anchor="end" fill="#1a1a1a" stroke="#1a1a1a" stroke-width="0.3">0.00</text>
<text x="0" y="0" transform="translate(66.60 155.58) scale(0.930 1.000)" font-size="8.6" font-weight="bold" text-anchor="end" fill="#1a1a1a" stroke="#1a1a1a" stroke-width="0.3">0.05</text>
<text x="0" y="0" transform="translate(66.60 121.66) scale(0.930 1.000)" font-size="8.6" font-weight="bold" text-anchor="end" fill="#1a1a1a" stroke="#1a1a1a" stroke-width="0.3">0.10</text>
<text x="0" y="0" transform="translate(66.60 87.74) scale(0.930 1.000)" font-size="8.6" font-weight="bold" text-anchor="end" fill="#1a1a1a" stroke="#1a1a1a" stroke-width="0.3">0.15</text>
<text x="0" y="0" transform="translate(66.60 53.82) scale(0.930 1.000)" font-size="8.6" font-weight="bold" text-anchor="end" fill="#1a1a1a" stroke="#1a1a1a" stroke-width="0.3">0.20</text>
<text x="0" y="0" transform="translate(66.60 19.90) scale(0.930 1.000)" font-size="8.6" font-weight="bold" text-anchor="end" fill="#1a1a1a" stroke="#1a1a1a" stroke-width="0.3">0.25</text>
<text x="0" y="0" transform="translate(347.80 190.00) scale(0.930 1.000)" font-size="8.6" font-weight="bold" text-anchor="end" fill="#1a1a1a" stroke="#1a1a1a" stroke-width="0.3">0.00</text>
<text x="0" y="0" transform="translate(347.80 167.43) scale(0.930 1.000)" font-size="8.6" font-weight="bold" text-anchor="end" fill="#1a1a1a" stroke="#1a1a1a" stroke-width="0.3">0.05</text>
<text x="0" y="0" transform="translate(347.80 144.86) scale(0.930 1.000)" font-size="8.6" font-weight="bold" text-anchor="end" fill="#1a1a1a" stroke="#1a1a1a" stroke-width="0.3">0.10</text>
<text x="0" y="0" transform="translate(347.80 122.29) scale(0.930 1.000)" font-size="8.6" font-weight="bold" text-anchor="end" fill="#1a1a1a" stroke="#1a1a1a" stroke-width="0.3">0.15</text>
<text x="0" y="0" transform="translate(347.80 99.71) scale(0.930 1.000)" font-size="8.6" font-weight="bold" text-anchor="end" fill="#1a1a1a" stroke="#1a1a1a" stroke-width="0.3">0.20</text>
<text x="0" y="0" transform="translate(347.80 77.14) scale(0.930 1.000)" font-size="8.6" font-weight="bold" text-anchor="end" fill="#1a1a1a" stroke="#1a1a1a" stroke-width="0.3">0.25</text>
<text x="0" y="0" transform="translate(347.80 54.57) scale(0.930 1.000)" font-size="8.6" font-weight="bold" text-anchor="end" fill="#1a1a1a" stroke="#1a1a1a" stroke-width="0.3">0.30</text>
<text x="0" y="0" transform="translate(347.80 32.00) scale(0.930 1.000)" font-size="8.6" font-weight="bold" text-anchor="end" fill="#1a1a1a" stroke="#1a1a1a" stroke-width="0.3">0.35</text>
<text x="0" y="0" transform="translate(68.40 390.50) scale(0.930 1.000)" font-size="8.6" font-weight="bold" text-anchor="end" fill="#1a1a1a" stroke="#1a1a1a" stroke-width="0.3">1.34</text>
<text x="0" y="0" transform="translate(68.40 359.56) scale(0.930 1.000)" font-size="8.6" font-weight="bold" text-anchor="end" fill="#1a1a1a" stroke="#1a1a1a" stroke-width="0.3">1.36</text>
<text x="0" y="0" transform="translate(68.40 328.62) scale(0.930 1.000)" font-size="8.6" font-weight="bold" text-anchor="end" fill="#1a1a1a" stroke="#1a1a1a" stroke-width="0.3">1.38</text>
<text x="0" y="0" transform="translate(68.40 297.68) scale(0.930 1.000)" font-size="8.6" font-weight="bold" text-anchor="end" fill="#1a1a1a" stroke="#1a1a1a" stroke-width="0.3">1.40</text>
<text x="0" y="0" transform="translate(68.40 266.74) scale(0.930 1.000)" font-size="8.6" font-weight="bold" text-anchor="end" fill="#1a1a1a" stroke="#1a1a1a" stroke-width="0.3">1.42</text>
<text x="0" y="0" transform="translate(68.40 235.80) scale(0.930 1.000)" font-size="8.6" font-weight="bold" text-anchor="end" fill="#1a1a1a" stroke="#1a1a1a" stroke-width="0.3">1.44</text>
<text x="0" y="0" transform="translate(346.80 389.70) scale(0.930 1.000)" font-size="8.6" font-weight="normal" text-anchor="end" fill="#1a1a1a">110</text>
<text x="0" y="0" transform="translate(346.80 358.74) scale(0.930 1.000)" font-size="8.6" font-weight="normal" text-anchor="end" fill="#1a1a1a">112</text>
<text x="0" y="0" transform="translate(346.80 327.78) scale(0.930 1.000)" font-size="8.6" font-weight="normal" text-anchor="end" fill="#1a1a1a">114</text>
<text x="0" y="0" transform="translate(346.80 296.82) scale(0.930 1.000)" font-size="8.6" font-weight="normal" text-anchor="end" fill="#1a1a1a">116</text>
<text x="0" y="0" transform="translate(346.80 265.86) scale(0.930 1.000)" font-size="8.6" font-weight="normal" text-anchor="end" fill="#1a1a1a">118</text>
<text x="0" y="0" transform="translate(346.80 234.90) scale(0.930 1.000)" font-size="8.6" font-weight="normal" text-anchor="end" fill="#1a1a1a">120</text>
<text x="0" y="0" transform="translate(71.80 197.80) scale(0.900 1.000)" font-size="8.6" font-weight="bold" text-anchor="middle" fill="#1a1a1a" stroke="#1a1a1a" stroke-width="0.3">0</text>
<text x="0" y="0" transform="translate(72.70 399.20) scale(0.900 1.000)" font-size="8.6" font-weight="bold" text-anchor="middle" fill="#1a1a1a" stroke="#1a1a1a" stroke-width="0.3">0</text>
<text x="0" y="0" transform="translate(351.30 398.40) scale(0.900 1.000)" font-size="8.6" font-weight="bold" text-anchor="middle" fill="#1a1a1a" stroke="#1a1a1a" stroke-width="0.3">0</text>
<text x="0" y="0" transform="translate(120.48 197.80) scale(0.900 1.000)" font-size="8.6" font-weight="bold" text-anchor="middle" fill="#1a1a1a" stroke="#1a1a1a" stroke-width="0.3">20</text>
<text x="0" y="0" transform="translate(121.46 399.20) scale(0.900 1.000)" font-size="8.6" font-weight="bold" text-anchor="middle" fill="#1a1a1a" stroke="#1a1a1a" stroke-width="0.3">20</text>
<text x="0" y="0" transform="translate(399.84 398.40) scale(0.900 1.000)" font-size="8.6" font-weight="bold" text-anchor="middle" fill="#1a1a1a" stroke="#1a1a1a" stroke-width="0.3">20</text>
<text x="0" y="0" transform="translate(169.16 197.80) scale(0.900 1.000)" font-size="8.6" font-weight="bold" text-anchor="middle" fill="#1a1a1a" stroke="#1a1a1a" stroke-width="0.3">40</text>
<text x="0" y="0" transform="translate(170.22 399.20) scale(0.900 1.000)" font-size="8.6" font-weight="bold" text-anchor="middle" fill="#1a1a1a" stroke="#1a1a1a" stroke-width="0.3">40</text>
<text x="0" y="0" transform="translate(448.38 398.40) scale(0.900 1.000)" font-size="8.6" font-weight="bold" text-anchor="middle" fill="#1a1a1a" stroke="#1a1a1a" stroke-width="0.3">40</text>
<text x="0" y="0" transform="translate(217.84 197.80) scale(0.900 1.000)" font-size="8.6" font-weight="bold" text-anchor="middle" fill="#1a1a1a" stroke="#1a1a1a" stroke-width="0.3">60</text>
<text x="0" y="0" transform="translate(218.98 399.20) scale(0.900 1.000)" font-size="8.6" font-weight="bold" text-anchor="middle" fill="#1a1a1a" stroke="#1a1a1a" stroke-width="0.3">60</text>
<text x="0" y="0" transform="translate(496.92 398.40) scale(0.900 1.000)" font-size="8.6" font-weight="bold" text-anchor="middle" fill="#1a1a1a" stroke="#1a1a1a" stroke-width="0.3">60</text>
<text x="0" y="0" transform="translate(266.52 197.80) scale(0.900 1.000)" font-size="8.6" font-weight="bold" text-anchor="middle" fill="#1a1a1a" stroke="#1a1a1a" stroke-width="0.3">80</text>
<text x="0" y="0" transform="translate(267.74 399.20) scale(0.900 1.000)" font-size="8.6" font-weight="bold" text-anchor="middle" fill="#1a1a1a" stroke="#1a1a1a" stroke-width="0.3">80</text>
<text x="0" y="0" transform="translate(545.46 398.40) scale(0.900 1.000)" font-size="8.6" font-weight="bold" text-anchor="middle" fill="#1a1a1a" stroke="#1a1a1a" stroke-width="0.3">80</text>
<text x="0" y="0" transform="translate(315.20 197.80) scale(0.900 1.000)" font-size="8.6" font-weight="bold" text-anchor="middle" fill="#1a1a1a" stroke="#1a1a1a" stroke-width="0.3">100</text>
<text x="0" y="0" transform="translate(316.50 399.20) scale(0.900 1.000)" font-size="8.6" font-weight="bold" text-anchor="middle" fill="#1a1a1a" stroke="#1a1a1a" stroke-width="0.3">100</text>
<text x="0" y="0" transform="translate(594.00 398.40) scale(0.900 1.000)" font-size="8.6" font-weight="bold" text-anchor="middle" fill="#1a1a1a" stroke="#1a1a1a" stroke-width="0.3">100</text>
<text x="0" y="0" transform="translate(353.40 199.10) scale(0.900 1.000)" font-size="8.6" font-weight="bold" text-anchor="middle" fill="#1a1a1a" stroke="#1a1a1a" stroke-width="0.3">0</text>
<text x="0" y="0" transform="translate(407.33 199.10) scale(0.900 1.000)" font-size="8.6" font-weight="bold" text-anchor="middle" fill="#1a1a1a" stroke="#1a1a1a" stroke-width="0.3">100</text>
<text x="0" y="0" transform="translate(461.27 199.10) scale(0.900 1.000)" font-size="8.6" font-weight="bold" text-anchor="middle" fill="#1a1a1a" stroke="#1a1a1a" stroke-width="0.3">200</text>
<text x="0" y="0" transform="translate(515.20 199.10) scale(0.900 1.000)" font-size="8.6" font-weight="bold" text-anchor="middle" fill="#1a1a1a" stroke="#1a1a1a" stroke-width="0.3">300</text>
<text x="0" y="0" transform="translate(569.13 199.10) scale(0.900 1.000)" font-size="8.6" font-weight="bold" text-anchor="middle" fill="#1a1a1a" stroke="#1a1a1a" stroke-width="0.3">400</text>
<text x="0" y="0" transform="translate(193.70 213.50) scale(1.000 1.080)" font-size="9.9" font-weight="bold" text-anchor="middle" fill="#1a1a1a" stroke="#1a1a1a" stroke-width="0.3">Time (ns)</text>
<text x="0" y="0" transform="translate(474.70 214.00) scale(1.000 1.080)" font-size="9.9" font-weight="bold" text-anchor="middle" fill="#1a1a1a" stroke="#1a1a1a" stroke-width="0.3">Time (ns)</text>
<text x="0" y="0" transform="translate(195.40 414.40) scale(1.000 1.080)" font-size="10.1" font-weight="bold" text-anchor="middle" fill="#1a1a1a" stroke="#1a1a1a" stroke-width="0.3">Time (ns)</text>
<text x="0" y="0" transform="translate(473.10 413.90) scale(1.000 1.080)" font-size="9.9" font-weight="bold" text-anchor="middle" fill="#1a1a1a" stroke="#1a1a1a" stroke-width="0.3">Time (ns)</text>
<text x="47.9" y="101.4" font-size="10.1" font-weight="bold" text-anchor="middle" fill="#1a1a1a" transform="rotate(-90 47.9 101.4)">RMSD (nm)</text>
<text x="328.8" y="102.2" font-size="10.1" font-weight="bold" text-anchor="middle" fill="#1a1a1a" transform="rotate(-90 328.8 102.2)">RMSF (nm)</text>
<text x="48.6" y="302.0" font-size="10.1" font-weight="bold" text-anchor="middle" fill="#1a1a1a" transform="rotate(-90 48.6 302.0)">Rg (nm)</text>
<text x="330.6" y="301.4" font-size="8.6" font-weight="normal" text-anchor="middle" fill="#1a1a1a" transform="rotate(-90 330.6 301.4)">SASA (nm)</text>
</svg>
</body></html>
